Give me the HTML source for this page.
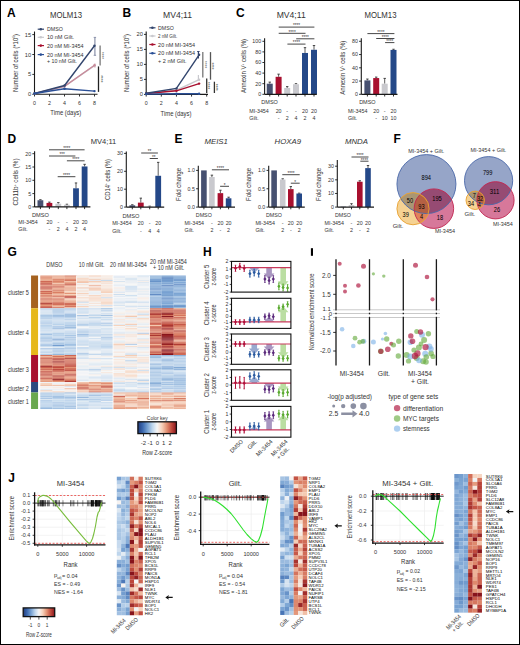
<!DOCTYPE html>
<html><head><meta charset="utf-8"><style>
html,body{margin:0;padding:0;background:#fff;}
body{width:520px;height:645px;overflow:hidden;}
svg{display:block;font-family:"Liberation Sans", sans-serif;}
</style></head><body>
<svg width="520" height="645" viewBox="0 0 520 645">
<rect x="0" y="0" width="520" height="645" fill="#fff"/>
<text x="7" y="16.7" font-size="12" font-weight="bold">A</text>
<text x="66.00" y="18.02" font-size="8.4" text-anchor="middle" textLength="32" lengthAdjust="spacingAndGlyphs" fill="#333">MOLM13</text>
<line x1="34.50" y1="31.50" x2="34.50" y2="94.30" stroke="#1a1a1a" stroke-width="1.1"/>
<line x1="32.30" y1="34.60" x2="34.50" y2="34.60" stroke="#1a1a1a" stroke-width="0.9"/>
<text x="31.10" y="36.65" font-size="5.7" text-anchor="end" fill="#333">15</text>
<line x1="32.30" y1="54.50" x2="34.50" y2="54.50" stroke="#1a1a1a" stroke-width="0.9"/>
<text x="31.10" y="56.55" font-size="5.7" text-anchor="end" fill="#333">10</text>
<line x1="32.30" y1="74.40" x2="34.50" y2="74.40" stroke="#1a1a1a" stroke-width="0.9"/>
<text x="31.10" y="76.45" font-size="5.7" text-anchor="end" fill="#333">5</text>
<line x1="32.30" y1="94.30" x2="34.50" y2="94.30" stroke="#1a1a1a" stroke-width="0.9"/>
<text x="31.10" y="96.35" font-size="5.7" text-anchor="end" fill="#333">0</text>
<line x1="34.50" y1="94.30" x2="97.50" y2="94.30" stroke="#1a1a1a" stroke-width="1.1"/>
<line x1="34.50" y1="94.30" x2="34.50" y2="96.50" stroke="#1a1a1a" stroke-width="0.9"/>
<text x="34.50" y="105.21" font-size="5.3" text-anchor="middle" fill="#333">0</text>
<line x1="49.50" y1="94.30" x2="49.50" y2="96.50" stroke="#1a1a1a" stroke-width="0.9"/>
<text x="49.50" y="105.21" font-size="5.3" text-anchor="middle" fill="#333">2</text>
<line x1="64.50" y1="94.30" x2="64.50" y2="96.50" stroke="#1a1a1a" stroke-width="0.9"/>
<text x="64.50" y="105.21" font-size="5.3" text-anchor="middle" fill="#333">4</text>
<line x1="79.50" y1="94.30" x2="79.50" y2="96.50" stroke="#1a1a1a" stroke-width="0.9"/>
<text x="79.50" y="105.21" font-size="5.3" text-anchor="middle" fill="#333">6</text>
<line x1="94.50" y1="94.30" x2="94.50" y2="96.50" stroke="#1a1a1a" stroke-width="0.9"/>
<text x="94.50" y="105.21" font-size="5.3" text-anchor="middle" fill="#333">8</text>
<text x="65.80" y="115.28" font-size="6.6" text-anchor="middle" textLength="31" lengthAdjust="spacingAndGlyphs" fill="#333">Time (days)</text>
<text x="17.59" y="63.00" font-size="7.2" text-anchor="middle" textLength="58" lengthAdjust="spacingAndGlyphs" fill="#333" transform="rotate(-90 17.59 63.00)">Number of cells (*10<tspan font-size="3.8" dy="-2.2">6</tspan><tspan dy="2.2">)</tspan></text>
<line x1="94.90" y1="37.40" x2="94.90" y2="55.30" stroke="#8a92aa" stroke-width="1.2"/>
<line x1="93.70" y1="37.40" x2="96.10" y2="37.40" stroke="#8a92aa" stroke-width="1"/>
<line x1="93.70" y1="55.30" x2="96.10" y2="55.30" stroke="#8a92aa" stroke-width="1"/>
<line x1="94.90" y1="63.50" x2="94.90" y2="67.50" stroke="#d0a0aa" stroke-width="1.2"/>
<path d="M34.50,93.50 L64.50,86.34 L94.50,65.64" fill="none" stroke="#c9c9ce" stroke-width="1.4"/>
<circle cx="34.50" cy="93.50" r="1.20" fill="#c9c9ce"/>
<circle cx="64.50" cy="86.34" r="1.20" fill="#c9c9ce"/>
<circle cx="94.50" cy="65.64" r="1.20" fill="#c9c9ce"/>
<path d="M34.50,93.50 L64.50,86.34 L94.50,65.25" fill="none" stroke="#c98a9a" stroke-width="1.4"/>
<circle cx="34.50" cy="93.50" r="1.20" fill="#c98a9a"/>
<circle cx="64.50" cy="86.34" r="1.20" fill="#c98a9a"/>
<circle cx="94.50" cy="65.25" r="1.20" fill="#c98a9a"/>
<path d="M34.50,93.50 L64.50,85.54 L94.50,45.74" fill="none" stroke="#33466e" stroke-width="1.4"/>
<circle cx="34.50" cy="93.50" r="1.20" fill="#33466e"/>
<circle cx="64.50" cy="85.54" r="1.20" fill="#33466e"/>
<circle cx="94.50" cy="45.74" r="1.20" fill="#33466e"/>
<path d="M34.50,93.50 L64.50,88.73 L94.50,91.12" fill="none" stroke="#2a4f96" stroke-width="1.4"/>
<circle cx="34.50" cy="93.50" r="1.20" fill="#2a4f96"/>
<circle cx="64.50" cy="88.73" r="1.20" fill="#2a4f96"/>
<circle cx="94.50" cy="91.12" r="1.20" fill="#2a4f96"/>
<line x1="37.70" y1="29.20" x2="44.00" y2="29.20" stroke="#33466e" stroke-width="1.2"/>
<circle cx="40.80" cy="29.20" r="1.30" fill="#33466e"/>
<text x="47.00" y="31.36" font-size="6.0" textLength="15.8" lengthAdjust="spacingAndGlyphs" fill="#333">DMSO</text>
<line x1="37.70" y1="37.30" x2="44.00" y2="37.30" stroke="#c9c9ce" stroke-width="1.2"/>
<circle cx="40.80" cy="37.30" r="1.30" fill="#c9c9ce"/>
<text x="47.00" y="39.46" font-size="6.0" textLength="27" lengthAdjust="spacingAndGlyphs" fill="#333">10 nM Gilt.</text>
<line x1="37.70" y1="45.60" x2="44.00" y2="45.60" stroke="#a8102f" stroke-width="1.2"/>
<circle cx="40.80" cy="45.60" r="1.30" fill="#a8102f"/>
<text x="47.00" y="47.76" font-size="6.0" textLength="36.5" lengthAdjust="spacingAndGlyphs" fill="#333">20 nM MI-3454</text>
<line x1="37.70" y1="54.60" x2="44.00" y2="54.60" stroke="#2a4f96" stroke-width="1.2"/>
<circle cx="40.80" cy="54.60" r="1.30" fill="#2a4f96"/>
<text x="47.00" y="56.76" font-size="6.0" textLength="36.5" lengthAdjust="spacingAndGlyphs" fill="#333">20 nM MI-3454</text>
<text x="47.00" y="63.46" font-size="6.0" textLength="30" lengthAdjust="spacingAndGlyphs" fill="#333">+ 10 nM Gilt.</text>
<line x1="100.10" y1="45.50" x2="100.10" y2="65.60" stroke="#777" stroke-width="1.3"/>
<text x="100.43" y="55.50" font-size="4.6" text-anchor="middle" fill="#555" textLength="7.20" lengthAdjust="spacingAndGlyphs" transform="rotate(90 100.43 55.50)">****</text>
<line x1="98.50" y1="66.40" x2="98.50" y2="91.90" stroke="#222" stroke-width="1.3"/>
<text x="98.73" y="78.90" font-size="4.6" text-anchor="middle" fill="#333" textLength="7.20" lengthAdjust="spacingAndGlyphs" transform="rotate(90 98.73 78.90)">****</text>
<text x="122.5" y="16.7" font-size="12" font-weight="bold">B</text>
<text x="177.50" y="18.02" font-size="8.4" text-anchor="middle" textLength="29" lengthAdjust="spacingAndGlyphs" fill="#333">MV4;11</text>
<line x1="146.20" y1="31.50" x2="146.20" y2="94.40" stroke="#1a1a1a" stroke-width="1.1"/>
<line x1="144.00" y1="34.40" x2="146.20" y2="34.40" stroke="#1a1a1a" stroke-width="0.9"/>
<text x="142.80" y="36.45" font-size="5.7" text-anchor="end" fill="#333">20</text>
<line x1="144.00" y1="49.40" x2="146.20" y2="49.40" stroke="#1a1a1a" stroke-width="0.9"/>
<text x="142.80" y="51.45" font-size="5.7" text-anchor="end" fill="#333">15</text>
<line x1="144.00" y1="64.40" x2="146.20" y2="64.40" stroke="#1a1a1a" stroke-width="0.9"/>
<text x="142.80" y="66.45" font-size="5.7" text-anchor="end" fill="#333">10</text>
<line x1="144.00" y1="79.40" x2="146.20" y2="79.40" stroke="#1a1a1a" stroke-width="0.9"/>
<text x="142.80" y="81.45" font-size="5.7" text-anchor="end" fill="#333">5</text>
<line x1="144.00" y1="94.40" x2="146.20" y2="94.40" stroke="#1a1a1a" stroke-width="0.9"/>
<text x="142.80" y="96.45" font-size="5.7" text-anchor="end" fill="#333">0</text>
<line x1="146.20" y1="94.40" x2="208.00" y2="94.40" stroke="#1a1a1a" stroke-width="1.1"/>
<line x1="146.20" y1="94.40" x2="146.20" y2="96.60" stroke="#1a1a1a" stroke-width="0.9"/>
<text x="146.20" y="105.21" font-size="5.3" text-anchor="middle" fill="#333">0</text>
<line x1="161.32" y1="94.40" x2="161.32" y2="96.60" stroke="#1a1a1a" stroke-width="0.9"/>
<text x="161.32" y="105.21" font-size="5.3" text-anchor="middle" fill="#333">2</text>
<line x1="176.44" y1="94.40" x2="176.44" y2="96.60" stroke="#1a1a1a" stroke-width="0.9"/>
<text x="176.44" y="105.21" font-size="5.3" text-anchor="middle" fill="#333">4</text>
<line x1="191.56" y1="94.40" x2="191.56" y2="96.60" stroke="#1a1a1a" stroke-width="0.9"/>
<text x="191.56" y="105.21" font-size="5.3" text-anchor="middle" fill="#333">6</text>
<line x1="206.68" y1="94.40" x2="206.68" y2="96.60" stroke="#1a1a1a" stroke-width="0.9"/>
<text x="206.68" y="105.21" font-size="5.3" text-anchor="middle" fill="#333">8</text>
<text x="176.00" y="115.88" font-size="6.6" text-anchor="middle" textLength="31" lengthAdjust="spacingAndGlyphs" fill="#333">Time (days)</text>
<text x="128.59" y="63.00" font-size="7.2" text-anchor="middle" textLength="58" lengthAdjust="spacingAndGlyphs" fill="#333" transform="rotate(-90 128.59 63.00)">Number of cells (*10<tspan font-size="3.8" dy="-2.2">6</tspan><tspan dy="2.2">)</tspan></text>
<line x1="198.40" y1="51.50" x2="198.40" y2="58.50" stroke="#33466e" stroke-width="1.2"/>
<line x1="197.20" y1="51.50" x2="199.60" y2="51.50" stroke="#33466e" stroke-width="1"/>
<line x1="198.40" y1="75.00" x2="198.40" y2="80.00" stroke="#c9c9ce" stroke-width="1.2"/>
<path d="M146.20,93.50 L176.44,90.20 L199.12,79.70" fill="none" stroke="#c9c9ce" stroke-width="1.4"/>
<circle cx="146.20" cy="93.50" r="1.20" fill="#c9c9ce"/>
<circle cx="176.44" cy="90.20" r="1.20" fill="#c9c9ce"/>
<circle cx="199.12" cy="79.70" r="1.20" fill="#c9c9ce"/>
<path d="M146.20,93.50 L176.44,90.80 L199.12,83.60" fill="none" stroke="#a8102f" stroke-width="1.4"/>
<circle cx="146.20" cy="93.50" r="1.20" fill="#a8102f"/>
<circle cx="176.44" cy="90.80" r="1.20" fill="#a8102f"/>
<circle cx="199.12" cy="83.60" r="1.20" fill="#a8102f"/>
<path d="M146.20,93.20 L176.44,88.40 L199.12,54.80" fill="none" stroke="#33466e" stroke-width="1.4"/>
<circle cx="146.20" cy="93.20" r="1.20" fill="#33466e"/>
<circle cx="176.44" cy="88.40" r="1.20" fill="#33466e"/>
<circle cx="199.12" cy="54.80" r="1.20" fill="#33466e"/>
<path d="M146.20,94.10 L176.44,93.80 L199.12,93.80" fill="none" stroke="#2a4f96" stroke-width="1.4"/>
<circle cx="146.20" cy="94.10" r="1.20" fill="#2a4f96"/>
<circle cx="176.44" cy="93.80" r="1.20" fill="#2a4f96"/>
<circle cx="199.12" cy="93.80" r="1.20" fill="#2a4f96"/>
<line x1="149.30" y1="27.80" x2="155.50" y2="27.80" stroke="#33466e" stroke-width="1.2"/>
<circle cx="152.40" cy="27.80" r="1.30" fill="#33466e"/>
<text x="158.10" y="29.96" font-size="6.0" textLength="15.7" lengthAdjust="spacingAndGlyphs" fill="#333">DMSO</text>
<line x1="149.30" y1="36.00" x2="155.50" y2="36.00" stroke="#c9c9ce" stroke-width="1.2"/>
<circle cx="152.40" cy="36.00" r="1.30" fill="#c9c9ce"/>
<text x="158.10" y="38.16" font-size="6.0" textLength="19.1" lengthAdjust="spacingAndGlyphs" fill="#333">2 nM Gilt.</text>
<line x1="149.30" y1="44.50" x2="155.50" y2="44.50" stroke="#a8102f" stroke-width="1.2"/>
<circle cx="152.40" cy="44.50" r="1.30" fill="#a8102f"/>
<text x="158.10" y="46.66" font-size="6.0" textLength="36.9" lengthAdjust="spacingAndGlyphs" fill="#333">20 nM MI-3454</text>
<line x1="149.30" y1="53.30" x2="155.50" y2="53.30" stroke="#2a4f96" stroke-width="1.2"/>
<circle cx="152.40" cy="53.30" r="1.30" fill="#2a4f96"/>
<text x="158.10" y="55.46" font-size="6.0" textLength="36.9" lengthAdjust="spacingAndGlyphs" fill="#333">20 nM MI-3454</text>
<text x="158.10" y="62.76" font-size="6.0" textLength="28.4" lengthAdjust="spacingAndGlyphs" fill="#333">+ 2 nM Gilt.</text>
<line x1="202.80" y1="52.10" x2="202.80" y2="77.40" stroke="#777" stroke-width="1.3"/>
<text x="202.53" y="64.70" font-size="4.6" text-anchor="middle" fill="#555" textLength="7.20" lengthAdjust="spacingAndGlyphs" transform="rotate(90 202.53 64.70)">****</text>
<line x1="210.50" y1="52.10" x2="210.50" y2="79.70" stroke="#555" stroke-width="1.3"/>
<text x="210.23" y="66.00" font-size="4.6" text-anchor="middle" fill="#444" textLength="7.20" lengthAdjust="spacingAndGlyphs" transform="rotate(90 210.23 66.00)">****</text>
<line x1="206.70" y1="78.60" x2="206.70" y2="92.90" stroke="#333" stroke-width="1.3"/>
<text x="206.43" y="85.70" font-size="4.6" text-anchor="middle" fill="#333" textLength="7.20" lengthAdjust="spacingAndGlyphs" transform="rotate(90 206.43 85.70)">****</text>
<line x1="214.40" y1="81.70" x2="214.40" y2="93.00" stroke="#333" stroke-width="1.3"/>
<text x="214.13" y="87.30" font-size="4.6" text-anchor="middle" fill="#333" textLength="7.20" lengthAdjust="spacingAndGlyphs" transform="rotate(90 214.13 87.30)">****</text>
<text x="236" y="16.7" font-size="12" font-weight="bold">C</text>
<text x="291.20" y="18.22" font-size="8.4" text-anchor="middle" textLength="29" lengthAdjust="spacingAndGlyphs" fill="#333">MV4;11</text>
<line x1="264.60" y1="38.30" x2="264.60" y2="94.30" stroke="#1a1a1a" stroke-width="1.1"/>
<line x1="262.40" y1="94.30" x2="264.60" y2="94.30" stroke="#1a1a1a" stroke-width="0.9"/>
<text x="261.20" y="96.21" font-size="5.3" text-anchor="end" fill="#333">0</text>
<line x1="262.40" y1="83.70" x2="264.60" y2="83.70" stroke="#1a1a1a" stroke-width="0.9"/>
<text x="261.20" y="85.61" font-size="5.3" text-anchor="end" fill="#333">20</text>
<line x1="262.40" y1="73.10" x2="264.60" y2="73.10" stroke="#1a1a1a" stroke-width="0.9"/>
<text x="261.20" y="75.01" font-size="5.3" text-anchor="end" fill="#333">40</text>
<line x1="262.40" y1="62.50" x2="264.60" y2="62.50" stroke="#1a1a1a" stroke-width="0.9"/>
<text x="261.20" y="64.41" font-size="5.3" text-anchor="end" fill="#333">60</text>
<line x1="262.40" y1="51.90" x2="264.60" y2="51.90" stroke="#1a1a1a" stroke-width="0.9"/>
<text x="261.20" y="53.81" font-size="5.3" text-anchor="end" fill="#333">80</text>
<line x1="262.40" y1="41.30" x2="264.60" y2="41.30" stroke="#1a1a1a" stroke-width="0.9"/>
<text x="261.20" y="43.21" font-size="5.3" text-anchor="end" fill="#333">100</text>
<line x1="269.75" y1="82.11" x2="269.75" y2="83.70" stroke="#333" stroke-width="0.8"/>
<line x1="268.55" y1="82.11" x2="270.95" y2="82.11" stroke="#333" stroke-width="0.9"/>
<rect x="266.75" y="83.70" width="6.00" height="10.60" fill="#465070"/>
<line x1="278.60" y1="74.16" x2="278.60" y2="76.81" stroke="#333" stroke-width="0.8"/>
<line x1="277.40" y1="74.16" x2="279.80" y2="74.16" stroke="#333" stroke-width="0.9"/>
<rect x="275.60" y="76.81" width="6.00" height="17.49" fill="#a8102f"/>
<line x1="287.20" y1="86.61" x2="287.20" y2="87.94" stroke="#333" stroke-width="0.8"/>
<line x1="286.00" y1="86.61" x2="288.40" y2="86.61" stroke="#333" stroke-width="0.9"/>
<rect x="284.20" y="87.94" width="6.00" height="6.36" fill="#c9c9ce"/>
<line x1="296.00" y1="83.70" x2="296.00" y2="84.23" stroke="#333" stroke-width="0.8"/>
<line x1="294.80" y1="83.70" x2="297.20" y2="83.70" stroke="#333" stroke-width="0.9"/>
<rect x="293.00" y="84.23" width="6.00" height="10.07" fill="#c9c9ce"/>
<line x1="305.00" y1="47.66" x2="305.00" y2="52.96" stroke="#333" stroke-width="0.8"/>
<line x1="303.80" y1="47.66" x2="306.20" y2="47.66" stroke="#333" stroke-width="0.9"/>
<rect x="302.00" y="52.96" width="6.00" height="41.34" fill="#244888"/>
<line x1="314.00" y1="45.54" x2="314.00" y2="49.78" stroke="#333" stroke-width="0.8"/>
<line x1="312.80" y1="45.54" x2="315.20" y2="45.54" stroke="#333" stroke-width="0.9"/>
<rect x="311.00" y="49.78" width="6.00" height="44.52" fill="#244888"/>
<line x1="264.60" y1="94.30" x2="316.80" y2="94.30" stroke="#1a1a1a" stroke-width="1.2"/>
<line x1="269.75" y1="94.30" x2="269.75" y2="96.50" stroke="#1a1a1a" stroke-width="0.9"/>
<line x1="278.60" y1="94.30" x2="278.60" y2="96.50" stroke="#1a1a1a" stroke-width="0.9"/>
<line x1="287.20" y1="94.30" x2="287.20" y2="96.50" stroke="#1a1a1a" stroke-width="0.9"/>
<line x1="296.00" y1="94.30" x2="296.00" y2="96.50" stroke="#1a1a1a" stroke-width="0.9"/>
<line x1="305.00" y1="94.30" x2="305.00" y2="96.50" stroke="#1a1a1a" stroke-width="0.9"/>
<line x1="314.00" y1="94.30" x2="314.00" y2="96.50" stroke="#1a1a1a" stroke-width="0.9"/>
<text x="269.60" y="104.41" font-size="5.3" text-anchor="middle" textLength="16.5" lengthAdjust="spacingAndGlyphs" fill="#333">DMSO</text>
<text x="249.30" y="112.91" font-size="5.3" fill="#333">MI-3454</text>
<text x="249.30" y="119.91" font-size="5.3" fill="#333">Gilt.</text>
<text x="278.60" y="112.91" font-size="5.3" text-anchor="middle" fill="#333">20</text>
<text x="278.60" y="119.91" font-size="5.3" text-anchor="middle" fill="#333">-</text>
<text x="287.20" y="112.91" font-size="5.3" text-anchor="middle" fill="#333">-</text>
<text x="287.20" y="119.91" font-size="5.3" text-anchor="middle" fill="#333">2</text>
<text x="296.00" y="112.91" font-size="5.3" text-anchor="middle" fill="#333">-</text>
<text x="296.00" y="119.91" font-size="5.3" text-anchor="middle" fill="#333">4</text>
<text x="305.00" y="112.91" font-size="5.3" text-anchor="middle" fill="#333">20</text>
<text x="305.00" y="119.91" font-size="5.3" text-anchor="middle" fill="#333">2</text>
<text x="314.00" y="112.91" font-size="5.3" text-anchor="middle" fill="#333">20</text>
<text x="314.00" y="119.91" font-size="5.3" text-anchor="middle" fill="#333">4</text>
<text x="245.52" y="66.00" font-size="7.0" text-anchor="middle" textLength="54" lengthAdjust="spacingAndGlyphs" fill="#333" transform="rotate(-90 245.52 66.00)">Annexin V<tspan font-size="3.5" dy="-2">+</tspan><tspan dy="2"> cells (%)</tspan></text>
<line x1="278.70" y1="27.10" x2="314.40" y2="27.10" stroke="#333" stroke-width="0.9"/>
<text x="296.55" y="27.40" font-size="4.6" text-anchor="middle" fill="#333" textLength="7.20" lengthAdjust="spacingAndGlyphs">****</text>
<line x1="278.70" y1="33.30" x2="305.50" y2="33.30" stroke="#333" stroke-width="0.9"/>
<text x="292.10" y="33.60" font-size="4.6" text-anchor="middle" fill="#333" textLength="7.20" lengthAdjust="spacingAndGlyphs">****</text>
<line x1="296.20" y1="38.80" x2="314.40" y2="38.80" stroke="#333" stroke-width="0.9"/>
<text x="305.30" y="39.10" font-size="4.6" text-anchor="middle" fill="#333" textLength="7.20" lengthAdjust="spacingAndGlyphs">****</text>
<line x1="287.40" y1="44.10" x2="305.50" y2="44.10" stroke="#333" stroke-width="0.9"/>
<text x="296.45" y="44.40" font-size="4.6" text-anchor="middle" fill="#333" textLength="7.20" lengthAdjust="spacingAndGlyphs">****</text>
<text x="380.50" y="18.22" font-size="8.4" text-anchor="middle" textLength="32" lengthAdjust="spacingAndGlyphs" fill="#333">MOLM13</text>
<line x1="361.30" y1="38.30" x2="361.30" y2="94.30" stroke="#1a1a1a" stroke-width="1.1"/>
<line x1="359.10" y1="94.30" x2="361.30" y2="94.30" stroke="#1a1a1a" stroke-width="0.9"/>
<text x="357.90" y="96.21" font-size="5.3" text-anchor="end" fill="#333">0</text>
<line x1="359.10" y1="81.05" x2="361.30" y2="81.05" stroke="#1a1a1a" stroke-width="0.9"/>
<text x="357.90" y="82.96" font-size="5.3" text-anchor="end" fill="#333">20</text>
<line x1="359.10" y1="67.80" x2="361.30" y2="67.80" stroke="#1a1a1a" stroke-width="0.9"/>
<text x="357.90" y="69.71" font-size="5.3" text-anchor="end" fill="#333">40</text>
<line x1="359.10" y1="54.55" x2="361.30" y2="54.55" stroke="#1a1a1a" stroke-width="0.9"/>
<text x="357.90" y="56.46" font-size="5.3" text-anchor="end" fill="#333">60</text>
<line x1="359.10" y1="41.30" x2="361.30" y2="41.30" stroke="#1a1a1a" stroke-width="0.9"/>
<text x="357.90" y="43.21" font-size="5.3" text-anchor="end" fill="#333">80</text>
<line x1="367.40" y1="79.06" x2="367.40" y2="80.39" stroke="#333" stroke-width="0.8"/>
<line x1="366.20" y1="79.06" x2="368.60" y2="79.06" stroke="#333" stroke-width="0.9"/>
<rect x="364.40" y="80.39" width="6.00" height="13.91" fill="#465070"/>
<line x1="376.20" y1="77.08" x2="376.20" y2="78.07" stroke="#333" stroke-width="0.8"/>
<line x1="375.00" y1="77.08" x2="377.40" y2="77.08" stroke="#333" stroke-width="0.9"/>
<rect x="373.20" y="78.07" width="6.00" height="16.23" fill="#a8102f"/>
<line x1="384.70" y1="78.40" x2="384.70" y2="83.70" stroke="#333" stroke-width="0.8"/>
<line x1="383.50" y1="78.40" x2="385.90" y2="78.40" stroke="#333" stroke-width="0.9"/>
<rect x="381.70" y="83.70" width="6.00" height="10.60" fill="#c9c9ce"/>
<line x1="393.50" y1="49.25" x2="393.50" y2="49.91" stroke="#333" stroke-width="0.8"/>
<line x1="392.30" y1="49.25" x2="394.70" y2="49.25" stroke="#333" stroke-width="0.9"/>
<rect x="390.50" y="49.91" width="6.00" height="44.39" fill="#244888"/>
<line x1="361.30" y1="94.30" x2="397.50" y2="94.30" stroke="#1a1a1a" stroke-width="1.2"/>
<line x1="367.40" y1="94.30" x2="367.40" y2="96.50" stroke="#1a1a1a" stroke-width="0.9"/>
<line x1="376.20" y1="94.30" x2="376.20" y2="96.50" stroke="#1a1a1a" stroke-width="0.9"/>
<line x1="384.70" y1="94.30" x2="384.70" y2="96.50" stroke="#1a1a1a" stroke-width="0.9"/>
<line x1="393.50" y1="94.30" x2="393.50" y2="96.50" stroke="#1a1a1a" stroke-width="0.9"/>
<text x="367.40" y="104.41" font-size="5.3" text-anchor="middle" textLength="16.5" lengthAdjust="spacingAndGlyphs" fill="#333">DMSO</text>
<text x="347.90" y="112.91" font-size="5.3" fill="#333">MI-3454</text>
<text x="347.90" y="119.91" font-size="5.3" fill="#333">Gilt.</text>
<text x="376.20" y="112.91" font-size="5.3" text-anchor="middle" fill="#333">20</text>
<text x="376.20" y="119.91" font-size="5.3" text-anchor="middle" fill="#333">-</text>
<text x="384.70" y="112.91" font-size="5.3" text-anchor="middle" fill="#333">-</text>
<text x="384.70" y="119.91" font-size="5.3" text-anchor="middle" fill="#333">10</text>
<text x="393.50" y="112.91" font-size="5.3" text-anchor="middle" fill="#333">20</text>
<text x="393.50" y="119.91" font-size="5.3" text-anchor="middle" fill="#333">10</text>
<text x="344.82" y="67.70" font-size="7.0" text-anchor="middle" textLength="54" lengthAdjust="spacingAndGlyphs" fill="#333" transform="rotate(-90 344.82 67.70)">Annexin V<tspan font-size="3.5" dy="-2">+</tspan><tspan dy="2"> cells (%)</tspan></text>
<line x1="367.40" y1="33.60" x2="394.40" y2="33.60" stroke="#333" stroke-width="0.9"/>
<text x="380.90" y="33.90" font-size="4.6" text-anchor="middle" fill="#333" textLength="7.20" lengthAdjust="spacingAndGlyphs">****</text>
<line x1="376.20" y1="38.50" x2="394.40" y2="38.50" stroke="#333" stroke-width="0.9"/>
<text x="385.30" y="38.80" font-size="4.6" text-anchor="middle" fill="#333" textLength="7.20" lengthAdjust="spacingAndGlyphs">****</text>
<line x1="385.10" y1="42.60" x2="394.40" y2="42.60" stroke="#333" stroke-width="0.9"/>
<text x="389.75" y="42.90" font-size="4.6" text-anchor="middle" fill="#333" textLength="7.20" lengthAdjust="spacingAndGlyphs">****</text>
<text x="7.5" y="143" font-size="12" font-weight="bold">D</text>
<text x="103.50" y="144.38" font-size="8.0" text-anchor="middle" textLength="25.5" lengthAdjust="spacingAndGlyphs" fill="#333">MV4;11</text>
<line x1="34.60" y1="151.20" x2="34.60" y2="206.90" stroke="#1a1a1a" stroke-width="1.1"/>
<line x1="32.40" y1="206.90" x2="34.60" y2="206.90" stroke="#1a1a1a" stroke-width="0.9"/>
<text x="31.20" y="208.81" font-size="5.3" text-anchor="end" fill="#333">0</text>
<line x1="32.40" y1="193.60" x2="34.60" y2="193.60" stroke="#1a1a1a" stroke-width="0.9"/>
<text x="31.20" y="195.51" font-size="5.3" text-anchor="end" fill="#333">5</text>
<line x1="32.40" y1="180.30" x2="34.60" y2="180.30" stroke="#1a1a1a" stroke-width="0.9"/>
<text x="31.20" y="182.21" font-size="5.3" text-anchor="end" fill="#333">10</text>
<line x1="32.40" y1="167.00" x2="34.60" y2="167.00" stroke="#1a1a1a" stroke-width="0.9"/>
<text x="31.20" y="168.91" font-size="5.3" text-anchor="end" fill="#333">15</text>
<line x1="32.40" y1="153.70" x2="34.60" y2="153.70" stroke="#1a1a1a" stroke-width="0.9"/>
<text x="31.20" y="155.61" font-size="5.3" text-anchor="end" fill="#333">20</text>
<line x1="40.40" y1="199.72" x2="40.40" y2="200.25" stroke="#333" stroke-width="0.8"/>
<line x1="39.20" y1="199.72" x2="41.60" y2="199.72" stroke="#333" stroke-width="0.9"/>
<rect x="37.50" y="200.25" width="5.80" height="6.65" fill="#465070"/>
<line x1="49.40" y1="202.11" x2="49.40" y2="202.91" stroke="#333" stroke-width="0.8"/>
<line x1="48.20" y1="202.11" x2="50.60" y2="202.11" stroke="#333" stroke-width="0.9"/>
<rect x="46.50" y="202.91" width="5.80" height="3.99" fill="#a8102f"/>
<line x1="58.30" y1="202.64" x2="58.30" y2="203.71" stroke="#333" stroke-width="0.8"/>
<line x1="57.10" y1="202.64" x2="59.50" y2="202.64" stroke="#333" stroke-width="0.9"/>
<rect x="55.40" y="203.71" width="5.80" height="3.19" fill="#c9c9ce"/>
<line x1="66.90" y1="204.24" x2="66.90" y2="204.77" stroke="#333" stroke-width="0.8"/>
<line x1="65.70" y1="204.24" x2="68.10" y2="204.24" stroke="#333" stroke-width="0.9"/>
<rect x="64.00" y="204.77" width="5.80" height="2.13" fill="#c9c9ce"/>
<line x1="76.00" y1="182.96" x2="76.00" y2="188.28" stroke="#333" stroke-width="0.8"/>
<line x1="74.80" y1="182.96" x2="77.20" y2="182.96" stroke="#333" stroke-width="0.9"/>
<rect x="73.10" y="188.28" width="5.80" height="18.62" fill="#244888"/>
<line x1="84.60" y1="164.34" x2="84.60" y2="166.47" stroke="#333" stroke-width="0.8"/>
<line x1="83.40" y1="164.34" x2="85.80" y2="164.34" stroke="#333" stroke-width="0.9"/>
<rect x="81.70" y="166.47" width="5.80" height="40.43" fill="#244888"/>
<line x1="34.60" y1="206.90" x2="90.40" y2="206.90" stroke="#1a1a1a" stroke-width="1.2"/>
<line x1="40.40" y1="206.90" x2="40.40" y2="209.10" stroke="#1a1a1a" stroke-width="0.9"/>
<line x1="49.40" y1="206.90" x2="49.40" y2="209.10" stroke="#1a1a1a" stroke-width="0.9"/>
<line x1="58.30" y1="206.90" x2="58.30" y2="209.10" stroke="#1a1a1a" stroke-width="0.9"/>
<line x1="66.90" y1="206.90" x2="66.90" y2="209.10" stroke="#1a1a1a" stroke-width="0.9"/>
<line x1="76.00" y1="206.90" x2="76.00" y2="209.10" stroke="#1a1a1a" stroke-width="0.9"/>
<line x1="84.60" y1="206.90" x2="84.60" y2="209.10" stroke="#1a1a1a" stroke-width="0.9"/>
<text x="40.40" y="217.11" font-size="5.3" text-anchor="middle" textLength="17" lengthAdjust="spacingAndGlyphs" fill="#333">DMSO</text>
<text x="18.30" y="223.81" font-size="5.3" fill="#333">MI-3454</text>
<text x="18.30" y="231.31" font-size="5.3" fill="#333">Gilt.</text>
<text x="49.40" y="223.81" font-size="5.3" text-anchor="middle" fill="#333">20</text>
<text x="49.40" y="231.31" font-size="5.3" text-anchor="middle" fill="#333">-</text>
<text x="58.30" y="223.81" font-size="5.3" text-anchor="middle" fill="#333">-</text>
<text x="58.30" y="231.31" font-size="5.3" text-anchor="middle" fill="#333">2</text>
<text x="66.90" y="223.81" font-size="5.3" text-anchor="middle" fill="#333">-</text>
<text x="66.90" y="231.31" font-size="5.3" text-anchor="middle" fill="#333">4</text>
<text x="76.00" y="223.81" font-size="5.3" text-anchor="middle" fill="#333">20</text>
<text x="76.00" y="231.31" font-size="5.3" text-anchor="middle" fill="#333">2</text>
<text x="84.60" y="223.81" font-size="5.3" text-anchor="middle" fill="#333">20</text>
<text x="84.60" y="231.31" font-size="5.3" text-anchor="middle" fill="#333">4</text>
<text x="17.92" y="182.00" font-size="7.0" text-anchor="middle" textLength="47" lengthAdjust="spacingAndGlyphs" fill="#333" transform="rotate(-90 17.92 182.00)">CD11b<tspan font-size="3.8" dy="-2.2">+</tspan><tspan dy="2.2"> cells (%)</tspan></text>
<line x1="49.00" y1="149.80" x2="84.60" y2="149.80" stroke="#333" stroke-width="0.9"/>
<text x="66.80" y="150.10" font-size="4.6" text-anchor="middle" fill="#333" textLength="7.20" lengthAdjust="spacingAndGlyphs">****</text>
<line x1="49.00" y1="156.00" x2="75.40" y2="156.00" stroke="#333" stroke-width="0.9"/>
<text x="62.20" y="156.30" font-size="4.6" text-anchor="middle" fill="#333" textLength="5.40" lengthAdjust="spacingAndGlyphs">***</text>
<line x1="66.90" y1="160.80" x2="84.60" y2="160.80" stroke="#333" stroke-width="0.9"/>
<text x="75.75" y="161.10" font-size="4.6" text-anchor="middle" fill="#333" textLength="7.20" lengthAdjust="spacingAndGlyphs">****</text>
<line x1="57.70" y1="176.70" x2="75.40" y2="176.70" stroke="#333" stroke-width="0.9"/>
<text x="66.55" y="177.00" font-size="4.6" text-anchor="middle" fill="#333" textLength="7.20" lengthAdjust="spacingAndGlyphs">****</text>
<line x1="126.30" y1="151.50" x2="126.30" y2="207.10" stroke="#1a1a1a" stroke-width="1.1"/>
<line x1="124.10" y1="207.10" x2="126.30" y2="207.10" stroke="#1a1a1a" stroke-width="0.9"/>
<text x="122.90" y="209.01" font-size="5.3" text-anchor="end" fill="#333">0</text>
<line x1="124.10" y1="189.20" x2="126.30" y2="189.20" stroke="#1a1a1a" stroke-width="0.9"/>
<text x="122.90" y="191.11" font-size="5.3" text-anchor="end" fill="#333">10</text>
<line x1="124.10" y1="171.30" x2="126.30" y2="171.30" stroke="#1a1a1a" stroke-width="0.9"/>
<text x="122.90" y="173.21" font-size="5.3" text-anchor="end" fill="#333">20</text>
<line x1="124.10" y1="153.40" x2="126.30" y2="153.40" stroke="#1a1a1a" stroke-width="0.9"/>
<text x="122.90" y="155.31" font-size="5.3" text-anchor="end" fill="#333">30</text>
<line x1="132.30" y1="204.77" x2="132.30" y2="205.31" stroke="#333" stroke-width="0.8"/>
<line x1="131.10" y1="204.77" x2="133.50" y2="204.77" stroke="#333" stroke-width="0.9"/>
<rect x="129.40" y="205.31" width="5.80" height="1.79" fill="#465070"/>
<line x1="140.80" y1="198.15" x2="140.80" y2="202.62" stroke="#333" stroke-width="0.8"/>
<line x1="139.60" y1="198.15" x2="142.00" y2="198.15" stroke="#333" stroke-width="0.9"/>
<rect x="137.90" y="202.62" width="5.80" height="4.47" fill="#a8102f"/>
<line x1="149.70" y1="206.20" x2="149.70" y2="206.56" stroke="#333" stroke-width="0.8"/>
<line x1="148.50" y1="206.20" x2="150.90" y2="206.20" stroke="#333" stroke-width="0.9"/>
<rect x="146.80" y="206.56" width="5.80" height="0.54" fill="#c9c9ce"/>
<line x1="158.20" y1="162.35" x2="158.20" y2="175.78" stroke="#333" stroke-width="0.8"/>
<line x1="157.00" y1="162.35" x2="159.40" y2="162.35" stroke="#333" stroke-width="0.9"/>
<rect x="155.30" y="175.78" width="5.80" height="31.32" fill="#244888"/>
<line x1="126.30" y1="207.10" x2="164.20" y2="207.10" stroke="#1a1a1a" stroke-width="1.2"/>
<line x1="132.30" y1="207.10" x2="132.30" y2="209.30" stroke="#1a1a1a" stroke-width="0.9"/>
<line x1="140.80" y1="207.10" x2="140.80" y2="209.30" stroke="#1a1a1a" stroke-width="0.9"/>
<line x1="149.70" y1="207.10" x2="149.70" y2="209.30" stroke="#1a1a1a" stroke-width="0.9"/>
<line x1="158.20" y1="207.10" x2="158.20" y2="209.30" stroke="#1a1a1a" stroke-width="0.9"/>
<text x="131.00" y="218.11" font-size="5.3" text-anchor="middle" textLength="17" lengthAdjust="spacingAndGlyphs" fill="#333">DMSO</text>
<text x="112.20" y="225.41" font-size="5.3" fill="#333">MI-3454</text>
<text x="112.20" y="232.51" font-size="5.3" fill="#333">Gilt.</text>
<text x="140.80" y="225.41" font-size="5.3" text-anchor="middle" fill="#333">20</text>
<text x="140.80" y="232.51" font-size="5.3" text-anchor="middle" fill="#333">-</text>
<text x="149.70" y="225.41" font-size="5.3" text-anchor="middle" fill="#333">-</text>
<text x="149.70" y="232.51" font-size="5.3" text-anchor="middle" fill="#333">4</text>
<text x="158.20" y="225.41" font-size="5.3" text-anchor="middle" fill="#333">20</text>
<text x="158.20" y="232.51" font-size="5.3" text-anchor="middle" fill="#333">4</text>
<text x="109.52" y="179.50" font-size="7.0" text-anchor="middle" textLength="41" lengthAdjust="spacingAndGlyphs" fill="#333" transform="rotate(-90 109.52 179.50)">CD14<tspan font-size="3.8" dy="-2.2">+</tspan><tspan dy="2.2"> cells (%)</tspan></text>
<line x1="141.20" y1="153.00" x2="157.90" y2="153.00" stroke="#333" stroke-width="0.9"/>
<text x="149.55" y="153.30" font-size="4.6" text-anchor="middle" fill="#333" textLength="3.60" lengthAdjust="spacingAndGlyphs">**</text>
<line x1="149.70" y1="158.50" x2="157.90" y2="158.50" stroke="#333" stroke-width="0.9"/>
<text x="153.80" y="158.80" font-size="4.6" text-anchor="middle" fill="#333" textLength="3.60" lengthAdjust="spacingAndGlyphs">**</text>
<text x="174.4" y="142.8" font-size="12" font-weight="bold">E</text>
<text x="216.20" y="143.91" font-size="7.8" font-style="italic" text-anchor="middle" fill="#333">MEIS1</text>
<line x1="198.30" y1="165.80" x2="198.30" y2="207.10" stroke="#1a1a1a" stroke-width="1.1"/>
<line x1="196.10" y1="207.10" x2="198.30" y2="207.10" stroke="#1a1a1a" stroke-width="0.9"/>
<text x="194.90" y="209.01" font-size="5.3" text-anchor="end" fill="#333">0.0</text>
<line x1="196.10" y1="188.75" x2="198.30" y2="188.75" stroke="#1a1a1a" stroke-width="0.9"/>
<text x="194.90" y="190.66" font-size="5.3" text-anchor="end" fill="#333">0.5</text>
<line x1="196.10" y1="170.40" x2="198.30" y2="170.40" stroke="#1a1a1a" stroke-width="0.9"/>
<text x="194.90" y="172.31" font-size="5.3" text-anchor="end" fill="#333">1.0</text>
<rect x="201.10" y="170.40" width="5.60" height="36.70" fill="#465070"/>
<line x1="211.90" y1="175.17" x2="211.90" y2="177.01" stroke="#333" stroke-width="0.8"/>
<line x1="210.70" y1="175.17" x2="213.10" y2="175.17" stroke="#333" stroke-width="0.9"/>
<rect x="209.10" y="177.01" width="5.60" height="30.09" fill="#c9c9ce"/>
<line x1="220.40" y1="190.22" x2="220.40" y2="193.15" stroke="#333" stroke-width="0.8"/>
<line x1="219.20" y1="190.22" x2="221.60" y2="190.22" stroke="#333" stroke-width="0.9"/>
<rect x="217.60" y="193.15" width="5.60" height="13.95" fill="#a8102f"/>
<line x1="228.60" y1="197.19" x2="228.60" y2="198.29" stroke="#333" stroke-width="0.8"/>
<line x1="227.40" y1="197.19" x2="229.80" y2="197.19" stroke="#333" stroke-width="0.9"/>
<rect x="225.80" y="198.29" width="5.60" height="8.81" fill="#244888"/>
<line x1="198.30" y1="207.10" x2="235.00" y2="207.10" stroke="#1a1a1a" stroke-width="1.2"/>
<line x1="203.90" y1="207.10" x2="203.90" y2="209.30" stroke="#1a1a1a" stroke-width="0.9"/>
<line x1="211.90" y1="207.10" x2="211.90" y2="209.30" stroke="#1a1a1a" stroke-width="0.9"/>
<line x1="220.40" y1="207.10" x2="220.40" y2="209.30" stroke="#1a1a1a" stroke-width="0.9"/>
<line x1="228.60" y1="207.10" x2="228.60" y2="209.30" stroke="#1a1a1a" stroke-width="0.9"/>
<text x="203.80" y="216.91" font-size="5.3" text-anchor="middle" textLength="16" lengthAdjust="spacingAndGlyphs" fill="#333">DMSO</text>
<text x="184.60" y="224.51" font-size="5.3" fill="#333">MI-3454</text>
<text x="184.60" y="231.71" font-size="5.3" fill="#333">Gilt.</text>
<text x="211.90" y="224.51" font-size="5.3" text-anchor="middle" fill="#333">-</text>
<text x="211.90" y="231.71" font-size="5.3" text-anchor="middle" fill="#333">2</text>
<text x="220.40" y="224.51" font-size="5.3" text-anchor="middle" fill="#333">20</text>
<text x="220.40" y="231.71" font-size="5.3" text-anchor="middle" fill="#333">-</text>
<text x="228.60" y="224.51" font-size="5.3" text-anchor="middle" fill="#333">20</text>
<text x="228.60" y="231.71" font-size="5.3" text-anchor="middle" fill="#333">2</text>
<text x="180.82" y="184.50" font-size="7.0" text-anchor="middle" textLength="33" lengthAdjust="spacingAndGlyphs" fill="#333" transform="rotate(-90 180.82 184.50)">Fold change</text>
<line x1="211.90" y1="169.80" x2="229.00" y2="169.80" stroke="#333" stroke-width="0.9"/>
<text x="220.45" y="170.10" font-size="4.6" text-anchor="middle" fill="#333" textLength="7.20" lengthAdjust="spacingAndGlyphs">****</text>
<line x1="220.10" y1="186.30" x2="229.00" y2="186.30" stroke="#333" stroke-width="0.9"/>
<text x="224.55" y="186.60" font-size="4.6" text-anchor="middle" fill="#333" textLength="1.80" lengthAdjust="spacingAndGlyphs">*</text>
<text x="287.80" y="143.91" font-size="7.8" font-style="italic" text-anchor="middle" fill="#333">HOXA9</text>
<line x1="268.70" y1="165.80" x2="268.70" y2="207.10" stroke="#1a1a1a" stroke-width="1.1"/>
<line x1="266.50" y1="207.10" x2="268.70" y2="207.10" stroke="#1a1a1a" stroke-width="0.9"/>
<text x="265.30" y="209.01" font-size="5.3" text-anchor="end" fill="#333">0.0</text>
<line x1="266.50" y1="188.75" x2="268.70" y2="188.75" stroke="#1a1a1a" stroke-width="0.9"/>
<text x="265.30" y="190.66" font-size="5.3" text-anchor="end" fill="#333">0.5</text>
<line x1="266.50" y1="170.40" x2="268.70" y2="170.40" stroke="#1a1a1a" stroke-width="0.9"/>
<text x="265.30" y="172.31" font-size="5.3" text-anchor="end" fill="#333">1.0</text>
<rect x="271.30" y="170.40" width="5.60" height="36.70" fill="#465070"/>
<line x1="282.70" y1="178.84" x2="282.70" y2="179.57" stroke="#333" stroke-width="0.8"/>
<line x1="281.50" y1="178.84" x2="283.90" y2="178.84" stroke="#333" stroke-width="0.9"/>
<rect x="279.90" y="179.57" width="5.60" height="27.53" fill="#c9c9ce"/>
<line x1="290.80" y1="186.55" x2="290.80" y2="189.12" stroke="#333" stroke-width="0.8"/>
<line x1="289.60" y1="186.55" x2="292.00" y2="186.55" stroke="#333" stroke-width="0.9"/>
<rect x="288.00" y="189.12" width="5.60" height="17.98" fill="#a8102f"/>
<line x1="299.20" y1="193.15" x2="299.20" y2="193.52" stroke="#333" stroke-width="0.8"/>
<line x1="298.00" y1="193.15" x2="300.40" y2="193.15" stroke="#333" stroke-width="0.9"/>
<rect x="296.40" y="193.52" width="5.60" height="13.58" fill="#244888"/>
<line x1="268.70" y1="207.10" x2="304.80" y2="207.10" stroke="#1a1a1a" stroke-width="1.2"/>
<line x1="274.10" y1="207.10" x2="274.10" y2="209.30" stroke="#1a1a1a" stroke-width="0.9"/>
<line x1="282.70" y1="207.10" x2="282.70" y2="209.30" stroke="#1a1a1a" stroke-width="0.9"/>
<line x1="290.80" y1="207.10" x2="290.80" y2="209.30" stroke="#1a1a1a" stroke-width="0.9"/>
<line x1="299.20" y1="207.10" x2="299.20" y2="209.30" stroke="#1a1a1a" stroke-width="0.9"/>
<text x="274.00" y="216.91" font-size="5.3" text-anchor="middle" textLength="16" lengthAdjust="spacingAndGlyphs" fill="#333">DMSO</text>
<text x="255.40" y="224.51" font-size="5.3" fill="#333">MI-3454</text>
<text x="255.40" y="231.71" font-size="5.3" fill="#333">Gilt.</text>
<text x="282.70" y="224.51" font-size="5.3" text-anchor="middle" fill="#333">-</text>
<text x="282.70" y="231.71" font-size="5.3" text-anchor="middle" fill="#333">2</text>
<text x="290.80" y="224.51" font-size="5.3" text-anchor="middle" fill="#333">20</text>
<text x="290.80" y="231.71" font-size="5.3" text-anchor="middle" fill="#333">-</text>
<text x="299.20" y="224.51" font-size="5.3" text-anchor="middle" fill="#333">20</text>
<text x="299.20" y="231.71" font-size="5.3" text-anchor="middle" fill="#333">2</text>
<text x="251.02" y="184.50" font-size="7.0" text-anchor="middle" textLength="33" lengthAdjust="spacingAndGlyphs" fill="#333" transform="rotate(-90 251.02 184.50)">Fold change</text>
<line x1="282.30" y1="174.70" x2="299.70" y2="174.70" stroke="#333" stroke-width="0.9"/>
<text x="291.00" y="175.00" font-size="4.6" text-anchor="middle" fill="#333" textLength="7.20" lengthAdjust="spacingAndGlyphs">****</text>
<line x1="290.80" y1="183.20" x2="299.70" y2="183.20" stroke="#333" stroke-width="0.9"/>
<text x="295.25" y="183.50" font-size="4.6" text-anchor="middle" fill="#333" textLength="1.80" lengthAdjust="spacingAndGlyphs">*</text>
<text x="356.40" y="143.91" font-size="7.8" font-style="italic" text-anchor="middle" fill="#333">MNDA</text>
<line x1="337.30" y1="159.90" x2="337.30" y2="207.10" stroke="#1a1a1a" stroke-width="1.1"/>
<line x1="335.10" y1="207.10" x2="337.30" y2="207.10" stroke="#1a1a1a" stroke-width="0.9"/>
<text x="333.90" y="209.01" font-size="5.3" text-anchor="end" fill="#333">0</text>
<line x1="335.10" y1="193.47" x2="337.30" y2="193.47" stroke="#1a1a1a" stroke-width="0.9"/>
<text x="333.90" y="195.37" font-size="5.3" text-anchor="end" fill="#333">10</text>
<line x1="335.10" y1="179.83" x2="337.30" y2="179.83" stroke="#1a1a1a" stroke-width="0.9"/>
<text x="333.90" y="181.74" font-size="5.3" text-anchor="end" fill="#333">20</text>
<line x1="335.10" y1="166.20" x2="337.30" y2="166.20" stroke="#1a1a1a" stroke-width="0.9"/>
<text x="333.90" y="168.11" font-size="5.3" text-anchor="end" fill="#333">30</text>
<rect x="340.50" y="206.69" width="5.60" height="0.41" fill="#465070"/>
<line x1="351.50" y1="203.69" x2="351.50" y2="205.06" stroke="#333" stroke-width="0.8"/>
<line x1="350.30" y1="203.69" x2="352.70" y2="203.69" stroke="#333" stroke-width="0.9"/>
<rect x="348.70" y="205.06" width="5.60" height="2.04" fill="#c9c9ce"/>
<line x1="359.80" y1="180.79" x2="359.80" y2="181.74" stroke="#333" stroke-width="0.8"/>
<line x1="358.60" y1="180.79" x2="361.00" y2="180.79" stroke="#333" stroke-width="0.9"/>
<rect x="357.00" y="181.74" width="5.60" height="25.36" fill="#a8102f"/>
<line x1="368.00" y1="165.52" x2="368.00" y2="168.11" stroke="#333" stroke-width="0.8"/>
<line x1="366.80" y1="165.52" x2="369.20" y2="165.52" stroke="#333" stroke-width="0.9"/>
<rect x="365.20" y="168.11" width="5.60" height="38.99" fill="#244888"/>
<line x1="337.30" y1="207.10" x2="374.00" y2="207.10" stroke="#1a1a1a" stroke-width="1.2"/>
<line x1="343.30" y1="207.10" x2="343.30" y2="209.30" stroke="#1a1a1a" stroke-width="0.9"/>
<line x1="351.50" y1="207.10" x2="351.50" y2="209.30" stroke="#1a1a1a" stroke-width="0.9"/>
<line x1="359.80" y1="207.10" x2="359.80" y2="209.30" stroke="#1a1a1a" stroke-width="0.9"/>
<line x1="368.00" y1="207.10" x2="368.00" y2="209.30" stroke="#1a1a1a" stroke-width="0.9"/>
<text x="343.00" y="216.91" font-size="5.3" text-anchor="middle" textLength="16" lengthAdjust="spacingAndGlyphs" fill="#333">DMSO</text>
<text x="324.50" y="224.51" font-size="5.3" fill="#333">MI-3454</text>
<text x="324.50" y="231.71" font-size="5.3" fill="#333">Gilt.</text>
<text x="351.50" y="224.51" font-size="5.3" text-anchor="middle" fill="#333">-</text>
<text x="351.50" y="231.71" font-size="5.3" text-anchor="middle" fill="#333">2</text>
<text x="359.80" y="224.51" font-size="5.3" text-anchor="middle" fill="#333">20</text>
<text x="359.80" y="231.71" font-size="5.3" text-anchor="middle" fill="#333">-</text>
<text x="368.00" y="224.51" font-size="5.3" text-anchor="middle" fill="#333">20</text>
<text x="368.00" y="231.71" font-size="5.3" text-anchor="middle" fill="#333">2</text>
<text x="321.02" y="184.50" font-size="7.0" text-anchor="middle" textLength="33" lengthAdjust="spacingAndGlyphs" fill="#333" transform="rotate(-90 321.02 184.50)">Fold change</text>
<line x1="351.50" y1="157.00" x2="368.50" y2="157.00" stroke="#333" stroke-width="0.9"/>
<text x="360.00" y="157.30" font-size="4.6" text-anchor="middle" fill="#333" textLength="7.20" lengthAdjust="spacingAndGlyphs">****</text>
<line x1="360.30" y1="161.20" x2="368.50" y2="161.20" stroke="#333" stroke-width="0.9"/>
<text x="364.40" y="161.50" font-size="4.6" text-anchor="middle" fill="#333" textLength="7.20" lengthAdjust="spacingAndGlyphs">****</text>
<text x="393.5" y="143" font-size="12" font-weight="bold">F</text>
<defs><clipPath id="vb1"><circle cx="426.45" cy="184.1" r="29.5"/></clipPath><clipPath id="vr1"><circle cx="433.9" cy="208.65" r="19.75"/></clipPath></defs>
<circle cx="426.45" cy="184.10" r="29.50" fill="#96a5c8"/>
<circle cx="433.90" cy="208.65" r="19.75" fill="#d7789a"/>
<circle cx="413.00" cy="208.70" r="16.10" fill="#f5d293"/>
<circle cx="433.90" cy="208.65" r="19.75" fill="#964b73" clip-path="url(#vb1)"/>
<circle cx="413.00" cy="208.70" r="16.10" fill="#aa9673" clip-path="url(#vb1)"/>
<circle cx="413.00" cy="208.70" r="16.10" fill="#e1825a" clip-path="url(#vr1)"/>
<g clip-path="url(#vb1)"><circle cx="413" cy="208.7" r="16.1" fill="#b46043" clip-path="url(#vr1)"/></g>
<circle cx="426.45" cy="184.10" r="29.50" fill="none" stroke="#4a68a8" stroke-width="0.9"/>
<circle cx="433.90" cy="208.65" r="19.75" fill="none" stroke="#bf2650" stroke-width="0.9"/>
<circle cx="413.00" cy="208.70" r="16.10" fill="none" stroke="#e8a030" stroke-width="0.9"/>
<text x="426.25" y="179.52" font-size="7.0" text-anchor="middle" textLength="9.5" lengthAdjust="spacingAndGlyphs">894</text>
<text x="410.00" y="202.52" font-size="7.0" text-anchor="middle" textLength="6.3" lengthAdjust="spacingAndGlyphs">50</text>
<text x="421.50" y="208.52" font-size="7.0" text-anchor="middle" textLength="6.3" lengthAdjust="spacingAndGlyphs">93</text>
<text x="437.00" y="201.02" font-size="7.0" text-anchor="middle" textLength="9.5" lengthAdjust="spacingAndGlyphs">195</text>
<text x="405.75" y="217.02" font-size="7.0" text-anchor="middle" textLength="6.3" lengthAdjust="spacingAndGlyphs">39</text>
<text x="421.50" y="219.02" font-size="7.0" text-anchor="middle" textLength="3.1" lengthAdjust="spacingAndGlyphs">4</text>
<text x="440.00" y="220.02" font-size="7.0" text-anchor="middle" textLength="6.3" lengthAdjust="spacingAndGlyphs">18</text>
<text x="426.25" y="152.66" font-size="6.0" text-anchor="middle" textLength="36" lengthAdjust="spacingAndGlyphs" fill="#333">MI-3454 + Gilt.</text>
<text x="398.00" y="227.66" font-size="6.0" text-anchor="middle" fill="#333">Gilt.</text>
<text x="445.00" y="232.91" font-size="6.0" text-anchor="middle" textLength="20" lengthAdjust="spacingAndGlyphs" fill="#333">MI-3454</text>
<defs><clipPath id="vb2"><circle cx="488.6" cy="180.7" r="24.1"/></clipPath><clipPath id="vr2"><circle cx="495.5" cy="200.3" r="18.6"/></clipPath></defs>
<circle cx="488.60" cy="180.70" r="24.10" fill="#96a5c8"/>
<circle cx="495.50" cy="200.30" r="18.60" fill="#d7789a"/>
<circle cx="475.20" cy="200.30" r="9.20" fill="#f5d293"/>
<circle cx="495.50" cy="200.30" r="18.60" fill="#964b73" clip-path="url(#vb2)"/>
<circle cx="475.20" cy="200.30" r="9.20" fill="#aa9673" clip-path="url(#vb2)"/>
<circle cx="475.20" cy="200.30" r="9.20" fill="#e1825a" clip-path="url(#vr2)"/>
<g clip-path="url(#vb2)"><circle cx="475.2" cy="200.3" r="9.2" fill="#b46043" clip-path="url(#vr2)"/></g>
<circle cx="488.60" cy="180.70" r="24.10" fill="none" stroke="#4a68a8" stroke-width="0.9"/>
<circle cx="495.50" cy="200.30" r="18.60" fill="none" stroke="#bf2650" stroke-width="0.9"/>
<circle cx="475.20" cy="200.30" r="9.20" fill="none" stroke="#e8a030" stroke-width="0.9"/>
<text x="487.70" y="174.52" font-size="7.0" text-anchor="middle" textLength="9.5" lengthAdjust="spacingAndGlyphs">799</text>
<text x="494.50" y="193.92" font-size="7.0" text-anchor="middle" textLength="9.5" lengthAdjust="spacingAndGlyphs">311</text>
<text x="474.20" y="198.22" font-size="7.0" text-anchor="middle" textLength="3.1" lengthAdjust="spacingAndGlyphs">7</text>
<text x="480.10" y="200.82" font-size="7.0" text-anchor="middle" textLength="6.3" lengthAdjust="spacingAndGlyphs">32</text>
<text x="471.00" y="206.02" font-size="7.0" text-anchor="middle" textLength="6.3" lengthAdjust="spacingAndGlyphs">34</text>
<text x="479.20" y="207.32" font-size="7.0" text-anchor="middle" textLength="3.1" lengthAdjust="spacingAndGlyphs">4</text>
<text x="497.00" y="212.32" font-size="7.0" text-anchor="middle" textLength="6.3" lengthAdjust="spacingAndGlyphs">26</text>
<text x="488.40" y="152.46" font-size="6.0" text-anchor="middle" textLength="36" lengthAdjust="spacingAndGlyphs" fill="#333">MI-3454 + Gilt.</text>
<text x="469.90" y="216.36" font-size="6.0" text-anchor="middle" fill="#333">Gilt.</text>
<text x="502.90" y="226.26" font-size="6.0" text-anchor="middle" textLength="20" lengthAdjust="spacingAndGlyphs" fill="#333">MI-3454</text>
<text x="7.5" y="256.3" font-size="12" font-weight="bold">G</text>
<rect x="31.06" y="275.50" width="7.00" height="32.75" fill="#a5621f"/>
<text x="28.80" y="295.29" font-size="7.0" text-anchor="end" textLength="20.8" lengthAdjust="spacingAndGlyphs" fill="#333">cluster 5</text>
<rect x="40.30" y="275.50" width="12.18" height="1.14" fill="#e59a7e"/>
<rect x="52.42" y="275.50" width="12.18" height="1.14" fill="#e7a083"/>
<rect x="64.55" y="275.50" width="12.18" height="1.14" fill="#d67961"/>
<rect x="76.67" y="275.50" width="12.18" height="1.14" fill="#f6dbcb"/>
<rect x="88.80" y="275.50" width="12.18" height="1.14" fill="#f4cbb4"/>
<rect x="100.92" y="275.50" width="12.18" height="1.14" fill="#f6e2d6"/>
<rect x="113.05" y="275.50" width="12.18" height="1.14" fill="#e9eef4"/>
<rect x="125.17" y="275.50" width="12.18" height="1.14" fill="#e6ecf3"/>
<rect x="137.30" y="275.50" width="12.18" height="1.14" fill="#cbddee"/>
<rect x="149.43" y="275.50" width="12.18" height="1.14" fill="#8bb0d9"/>
<rect x="161.55" y="275.50" width="12.18" height="1.14" fill="#77a1d1"/>
<rect x="173.68" y="275.50" width="12.18" height="1.14" fill="#8cb0d9"/>
<rect x="40.30" y="276.59" width="12.18" height="1.14" fill="#dc866a"/>
<rect x="52.42" y="276.59" width="12.18" height="1.14" fill="#eaaa8e"/>
<rect x="64.55" y="276.59" width="12.18" height="1.14" fill="#e59a7d"/>
<rect x="76.67" y="276.59" width="12.18" height="1.14" fill="#eff2f5"/>
<rect x="88.80" y="276.59" width="12.18" height="1.14" fill="#f6e7de"/>
<rect x="100.92" y="276.59" width="12.18" height="1.14" fill="#f6ede8"/>
<rect x="113.05" y="276.59" width="12.18" height="1.14" fill="#d4e2f0"/>
<rect x="125.17" y="276.59" width="12.18" height="1.14" fill="#f6f6f6"/>
<rect x="137.30" y="276.59" width="12.18" height="1.14" fill="#e5ecf3"/>
<rect x="149.43" y="276.59" width="12.18" height="1.14" fill="#90b3db"/>
<rect x="161.55" y="276.59" width="12.18" height="1.14" fill="#648fc6"/>
<rect x="173.68" y="276.59" width="12.18" height="1.14" fill="#749ed0"/>
<rect x="40.30" y="277.68" width="12.18" height="1.14" fill="#e08e70"/>
<rect x="52.42" y="277.68" width="12.18" height="1.14" fill="#eeb59b"/>
<rect x="64.55" y="277.68" width="12.18" height="1.14" fill="#eaa98e"/>
<rect x="76.67" y="277.68" width="12.18" height="1.14" fill="#f6d2bb"/>
<rect x="88.80" y="277.68" width="12.18" height="1.14" fill="#f6f0ec"/>
<rect x="100.92" y="277.68" width="12.18" height="1.14" fill="#f6e6dc"/>
<rect x="113.05" y="277.68" width="12.18" height="1.14" fill="#f1f3f5"/>
<rect x="125.17" y="277.68" width="12.18" height="1.14" fill="#d5e3f0"/>
<rect x="137.30" y="277.68" width="12.18" height="1.14" fill="#ecf0f4"/>
<rect x="149.43" y="277.68" width="12.18" height="1.14" fill="#9abade"/>
<rect x="161.55" y="277.68" width="12.18" height="1.14" fill="#5581be"/>
<rect x="173.68" y="277.68" width="12.18" height="1.14" fill="#83aad6"/>
<rect x="40.30" y="278.77" width="12.18" height="1.14" fill="#e9a88c"/>
<rect x="52.42" y="278.77" width="12.18" height="1.14" fill="#da8066"/>
<rect x="64.55" y="278.77" width="12.18" height="1.14" fill="#dc856a"/>
<rect x="76.67" y="278.77" width="12.18" height="1.14" fill="#f6daca"/>
<rect x="88.80" y="278.77" width="12.18" height="1.14" fill="#f5cdb6"/>
<rect x="100.92" y="278.77" width="12.18" height="1.14" fill="#f6e8e0"/>
<rect x="113.05" y="278.77" width="12.18" height="1.14" fill="#ebf0f4"/>
<rect x="125.17" y="278.77" width="12.18" height="1.14" fill="#d7e4f0"/>
<rect x="137.30" y="278.77" width="12.18" height="1.14" fill="#f3f4f5"/>
<rect x="149.43" y="278.77" width="12.18" height="1.14" fill="#749ed0"/>
<rect x="161.55" y="278.77" width="12.18" height="1.14" fill="#6a95ca"/>
<rect x="173.68" y="278.77" width="12.18" height="1.14" fill="#709acd"/>
<rect x="40.30" y="279.87" width="12.18" height="1.14" fill="#ecb096"/>
<rect x="52.42" y="279.87" width="12.18" height="1.14" fill="#e59a7d"/>
<rect x="64.55" y="279.87" width="12.18" height="1.14" fill="#d5765f"/>
<rect x="76.67" y="279.87" width="12.18" height="1.14" fill="#f6dfd1"/>
<rect x="88.80" y="279.87" width="12.18" height="1.14" fill="#e1e9f2"/>
<rect x="100.92" y="279.87" width="12.18" height="1.14" fill="#c6daed"/>
<rect x="113.05" y="279.87" width="12.18" height="1.14" fill="#f6f6f6"/>
<rect x="125.17" y="279.87" width="12.18" height="1.14" fill="#e6edf3"/>
<rect x="137.30" y="279.87" width="12.18" height="1.14" fill="#e0e9f2"/>
<rect x="149.43" y="279.87" width="12.18" height="1.14" fill="#7aa3d3"/>
<rect x="161.55" y="279.87" width="12.18" height="1.14" fill="#709acd"/>
<rect x="173.68" y="279.87" width="12.18" height="1.14" fill="#739dcf"/>
<rect x="40.30" y="280.96" width="12.18" height="1.14" fill="#cf6955"/>
<rect x="52.42" y="280.96" width="12.18" height="1.14" fill="#dc8469"/>
<rect x="64.55" y="280.96" width="12.18" height="1.14" fill="#f1c0a8"/>
<rect x="76.67" y="280.96" width="12.18" height="1.14" fill="#f5cbb4"/>
<rect x="88.80" y="280.96" width="12.18" height="1.14" fill="#f5ceb7"/>
<rect x="100.92" y="280.96" width="12.18" height="1.14" fill="#f6decf"/>
<rect x="113.05" y="280.96" width="12.18" height="1.14" fill="#d7e4f0"/>
<rect x="125.17" y="280.96" width="12.18" height="1.14" fill="#eaeff4"/>
<rect x="137.30" y="280.96" width="12.18" height="1.14" fill="#f6efeb"/>
<rect x="149.43" y="280.96" width="12.18" height="1.14" fill="#6893c8"/>
<rect x="161.55" y="280.96" width="12.18" height="1.14" fill="#759fd0"/>
<rect x="173.68" y="280.96" width="12.18" height="1.14" fill="#9fbfe1"/>
<rect x="40.30" y="282.05" width="12.18" height="1.14" fill="#da8167"/>
<rect x="52.42" y="282.05" width="12.18" height="1.14" fill="#e29375"/>
<rect x="64.55" y="282.05" width="12.18" height="1.14" fill="#e7a185"/>
<rect x="76.67" y="282.05" width="12.18" height="1.14" fill="#f2c3ab"/>
<rect x="88.80" y="282.05" width="12.18" height="1.14" fill="#f6e3d7"/>
<rect x="100.92" y="282.05" width="12.18" height="1.14" fill="#f6e6dd"/>
<rect x="113.05" y="282.05" width="12.18" height="1.14" fill="#f6f4f2"/>
<rect x="125.17" y="282.05" width="12.18" height="1.14" fill="#ebeff4"/>
<rect x="137.30" y="282.05" width="12.18" height="1.14" fill="#dde7f2"/>
<rect x="149.43" y="282.05" width="12.18" height="1.14" fill="#8fb2da"/>
<rect x="161.55" y="282.05" width="12.18" height="1.14" fill="#8aafd9"/>
<rect x="173.68" y="282.05" width="12.18" height="1.14" fill="#7ca5d4"/>
<rect x="40.30" y="283.14" width="12.18" height="1.14" fill="#ca604e"/>
<rect x="52.42" y="283.14" width="12.18" height="1.14" fill="#f1c2a9"/>
<rect x="64.55" y="283.14" width="12.18" height="1.14" fill="#da8167"/>
<rect x="76.67" y="283.14" width="12.18" height="1.14" fill="#eef1f5"/>
<rect x="88.80" y="283.14" width="12.18" height="1.14" fill="#f6efeb"/>
<rect x="100.92" y="283.14" width="12.18" height="1.14" fill="#f6dfd2"/>
<rect x="113.05" y="283.14" width="12.18" height="1.14" fill="#f4f5f6"/>
<rect x="125.17" y="283.14" width="12.18" height="1.14" fill="#f0f3f5"/>
<rect x="137.30" y="283.14" width="12.18" height="1.14" fill="#e9eef4"/>
<rect x="149.43" y="283.14" width="12.18" height="1.14" fill="#7ea7d4"/>
<rect x="161.55" y="283.14" width="12.18" height="1.14" fill="#729cce"/>
<rect x="173.68" y="283.14" width="12.18" height="1.14" fill="#8db1da"/>
<rect x="40.30" y="284.23" width="12.18" height="1.14" fill="#cd6653"/>
<rect x="52.42" y="284.23" width="12.18" height="1.14" fill="#de896d"/>
<rect x="64.55" y="284.23" width="12.18" height="1.14" fill="#c85c4b"/>
<rect x="76.67" y="284.23" width="12.18" height="1.14" fill="#f6ded0"/>
<rect x="88.80" y="284.23" width="12.18" height="1.14" fill="#f6e7de"/>
<rect x="100.92" y="284.23" width="12.18" height="1.14" fill="#f6eee9"/>
<rect x="113.05" y="284.23" width="12.18" height="1.14" fill="#eaeff4"/>
<rect x="125.17" y="284.23" width="12.18" height="1.14" fill="#f6f5f4"/>
<rect x="137.30" y="284.23" width="12.18" height="1.14" fill="#e5ecf3"/>
<rect x="149.43" y="284.23" width="12.18" height="1.14" fill="#86acd7"/>
<rect x="161.55" y="284.23" width="12.18" height="1.14" fill="#92b5dc"/>
<rect x="173.68" y="284.23" width="12.18" height="1.14" fill="#5c87c2"/>
<rect x="40.30" y="285.32" width="12.18" height="1.14" fill="#e39578"/>
<rect x="52.42" y="285.32" width="12.18" height="1.14" fill="#e29073"/>
<rect x="64.55" y="285.32" width="12.18" height="1.14" fill="#e59b7e"/>
<rect x="76.67" y="285.32" width="12.18" height="1.14" fill="#f6ede7"/>
<rect x="88.80" y="285.32" width="12.18" height="1.14" fill="#e9a78c"/>
<rect x="100.92" y="285.32" width="12.18" height="1.14" fill="#f6e2d5"/>
<rect x="113.05" y="285.32" width="12.18" height="1.14" fill="#e1e9f2"/>
<rect x="125.17" y="285.32" width="12.18" height="1.14" fill="#e7edf3"/>
<rect x="137.30" y="285.32" width="12.18" height="1.14" fill="#e5ecf3"/>
<rect x="149.43" y="285.32" width="12.18" height="1.14" fill="#81a8d5"/>
<rect x="161.55" y="285.32" width="12.18" height="1.14" fill="#4a76b7"/>
<rect x="173.68" y="285.32" width="12.18" height="1.14" fill="#80a8d5"/>
<rect x="40.30" y="286.42" width="12.18" height="1.14" fill="#c65647"/>
<rect x="52.42" y="286.42" width="12.18" height="1.14" fill="#ca5f4d"/>
<rect x="64.55" y="286.42" width="12.18" height="1.14" fill="#f0bca3"/>
<rect x="76.67" y="286.42" width="12.18" height="1.14" fill="#f6f2f0"/>
<rect x="88.80" y="286.42" width="12.18" height="1.14" fill="#f6eeea"/>
<rect x="100.92" y="286.42" width="12.18" height="1.14" fill="#f6e6dc"/>
<rect x="113.05" y="286.42" width="12.18" height="1.14" fill="#f4f5f6"/>
<rect x="125.17" y="286.42" width="12.18" height="1.14" fill="#bdd5ec"/>
<rect x="137.30" y="286.42" width="12.18" height="1.14" fill="#f4f5f6"/>
<rect x="149.43" y="286.42" width="12.18" height="1.14" fill="#719bce"/>
<rect x="161.55" y="286.42" width="12.18" height="1.14" fill="#88aed8"/>
<rect x="173.68" y="286.42" width="12.18" height="1.14" fill="#76a0d1"/>
<rect x="40.30" y="287.51" width="12.18" height="1.14" fill="#cb614f"/>
<rect x="52.42" y="287.51" width="12.18" height="1.14" fill="#e29274"/>
<rect x="64.55" y="287.51" width="12.18" height="1.14" fill="#e4987b"/>
<rect x="76.67" y="287.51" width="12.18" height="1.14" fill="#f0bda4"/>
<rect x="88.80" y="287.51" width="12.18" height="1.14" fill="#f2c4ac"/>
<rect x="100.92" y="287.51" width="12.18" height="1.14" fill="#f6e7dd"/>
<rect x="113.05" y="287.51" width="12.18" height="1.14" fill="#f6e7de"/>
<rect x="125.17" y="287.51" width="12.18" height="1.14" fill="#d3e1f0"/>
<rect x="137.30" y="287.51" width="12.18" height="1.14" fill="#f1f3f5"/>
<rect x="149.43" y="287.51" width="12.18" height="1.14" fill="#7ca5d4"/>
<rect x="161.55" y="287.51" width="12.18" height="1.14" fill="#76a0d1"/>
<rect x="173.68" y="287.51" width="12.18" height="1.14" fill="#95b7dd"/>
<rect x="40.30" y="288.60" width="12.18" height="1.14" fill="#cd6753"/>
<rect x="52.42" y="288.60" width="12.18" height="1.14" fill="#ecb095"/>
<rect x="64.55" y="288.60" width="12.18" height="1.14" fill="#ecb297"/>
<rect x="76.67" y="288.60" width="12.18" height="1.14" fill="#f0f3f5"/>
<rect x="88.80" y="288.60" width="12.18" height="1.14" fill="#f2c3ab"/>
<rect x="100.92" y="288.60" width="12.18" height="1.14" fill="#f6d9c7"/>
<rect x="113.05" y="288.60" width="12.18" height="1.14" fill="#edf1f4"/>
<rect x="125.17" y="288.60" width="12.18" height="1.14" fill="#cadcee"/>
<rect x="137.30" y="288.60" width="12.18" height="1.14" fill="#d8e4f1"/>
<rect x="149.43" y="288.60" width="12.18" height="1.14" fill="#5e89c3"/>
<rect x="161.55" y="288.60" width="12.18" height="1.14" fill="#6f9acd"/>
<rect x="173.68" y="288.60" width="12.18" height="1.14" fill="#92b5dc"/>
<rect x="40.30" y="289.69" width="12.18" height="1.14" fill="#f0bea5"/>
<rect x="52.42" y="289.69" width="12.18" height="1.14" fill="#d5775f"/>
<rect x="64.55" y="289.69" width="12.18" height="1.14" fill="#e8a387"/>
<rect x="76.67" y="289.69" width="12.18" height="1.14" fill="#f6e6dc"/>
<rect x="88.80" y="289.69" width="12.18" height="1.14" fill="#f6d1bb"/>
<rect x="100.92" y="289.69" width="12.18" height="1.14" fill="#f6d9c7"/>
<rect x="113.05" y="289.69" width="12.18" height="1.14" fill="#f6ede7"/>
<rect x="125.17" y="289.69" width="12.18" height="1.14" fill="#dfe9f2"/>
<rect x="137.30" y="289.69" width="12.18" height="1.14" fill="#f6f0ed"/>
<rect x="149.43" y="289.69" width="12.18" height="1.14" fill="#98b9de"/>
<rect x="161.55" y="289.69" width="12.18" height="1.14" fill="#89afd8"/>
<rect x="173.68" y="289.69" width="12.18" height="1.14" fill="#81a8d5"/>
<rect x="40.30" y="290.78" width="12.18" height="1.14" fill="#c75848"/>
<rect x="52.42" y="290.78" width="12.18" height="1.14" fill="#e9a68a"/>
<rect x="64.55" y="290.78" width="12.18" height="1.14" fill="#f6d9c7"/>
<rect x="76.67" y="290.78" width="12.18" height="1.14" fill="#f6e6dc"/>
<rect x="88.80" y="290.78" width="12.18" height="1.14" fill="#f0f2f5"/>
<rect x="100.92" y="290.78" width="12.18" height="1.14" fill="#f6d5c1"/>
<rect x="113.05" y="290.78" width="12.18" height="1.14" fill="#ebeff4"/>
<rect x="125.17" y="290.78" width="12.18" height="1.14" fill="#dde7f2"/>
<rect x="137.30" y="290.78" width="12.18" height="1.14" fill="#e6edf3"/>
<rect x="149.43" y="290.78" width="12.18" height="1.14" fill="#90b3db"/>
<rect x="161.55" y="290.78" width="12.18" height="1.14" fill="#749fd0"/>
<rect x="173.68" y="290.78" width="12.18" height="1.14" fill="#a0bfe1"/>
<rect x="40.30" y="291.88" width="12.18" height="1.14" fill="#e29173"/>
<rect x="52.42" y="291.88" width="12.18" height="1.14" fill="#d97e64"/>
<rect x="64.55" y="291.88" width="12.18" height="1.14" fill="#f5ccb4"/>
<rect x="76.67" y="291.88" width="12.18" height="1.14" fill="#f6f1ee"/>
<rect x="88.80" y="291.88" width="12.18" height="1.14" fill="#edf1f4"/>
<rect x="100.92" y="291.88" width="12.18" height="1.14" fill="#f6d1ba"/>
<rect x="113.05" y="291.88" width="12.18" height="1.14" fill="#e1e9f2"/>
<rect x="125.17" y="291.88" width="12.18" height="1.14" fill="#f2f4f5"/>
<rect x="137.30" y="291.88" width="12.18" height="1.14" fill="#f0f2f5"/>
<rect x="149.43" y="291.88" width="12.18" height="1.14" fill="#91b4db"/>
<rect x="161.55" y="291.88" width="12.18" height="1.14" fill="#78a2d2"/>
<rect x="173.68" y="291.88" width="12.18" height="1.14" fill="#9cbcdf"/>
<rect x="40.30" y="292.97" width="12.18" height="1.14" fill="#d16e59"/>
<rect x="52.42" y="292.97" width="12.18" height="1.14" fill="#e9a88d"/>
<rect x="64.55" y="292.97" width="12.18" height="1.14" fill="#e39577"/>
<rect x="76.67" y="292.97" width="12.18" height="1.14" fill="#f6d3be"/>
<rect x="88.80" y="292.97" width="12.18" height="1.14" fill="#ecf0f4"/>
<rect x="100.92" y="292.97" width="12.18" height="1.14" fill="#f6f3f1"/>
<rect x="113.05" y="292.97" width="12.18" height="1.14" fill="#f6f4f3"/>
<rect x="125.17" y="292.97" width="12.18" height="1.14" fill="#f5f6f6"/>
<rect x="137.30" y="292.97" width="12.18" height="1.14" fill="#eaeff4"/>
<rect x="149.43" y="292.97" width="12.18" height="1.14" fill="#99bade"/>
<rect x="161.55" y="292.97" width="12.18" height="1.14" fill="#7fa7d5"/>
<rect x="173.68" y="292.97" width="12.18" height="1.14" fill="#7ca5d3"/>
<rect x="40.30" y="294.06" width="12.18" height="1.14" fill="#e9a78b"/>
<rect x="52.42" y="294.06" width="12.18" height="1.14" fill="#f0bca3"/>
<rect x="64.55" y="294.06" width="12.18" height="1.14" fill="#f6d1ba"/>
<rect x="76.67" y="294.06" width="12.18" height="1.14" fill="#f6ebe5"/>
<rect x="88.80" y="294.06" width="12.18" height="1.14" fill="#f1f3f5"/>
<rect x="100.92" y="294.06" width="12.18" height="1.14" fill="#f6e7de"/>
<rect x="113.05" y="294.06" width="12.18" height="1.14" fill="#cbddee"/>
<rect x="125.17" y="294.06" width="12.18" height="1.14" fill="#f2f4f5"/>
<rect x="137.30" y="294.06" width="12.18" height="1.14" fill="#e4ebf3"/>
<rect x="149.43" y="294.06" width="12.18" height="1.14" fill="#5a86c1"/>
<rect x="161.55" y="294.06" width="12.18" height="1.14" fill="#78a2d2"/>
<rect x="173.68" y="294.06" width="12.18" height="1.14" fill="#7ba4d3"/>
<rect x="40.30" y="295.15" width="12.18" height="1.14" fill="#d87d64"/>
<rect x="52.42" y="295.15" width="12.18" height="1.14" fill="#e5997c"/>
<rect x="64.55" y="295.15" width="12.18" height="1.14" fill="#e59b7e"/>
<rect x="76.67" y="295.15" width="12.18" height="1.14" fill="#f6e5db"/>
<rect x="88.80" y="295.15" width="12.18" height="1.14" fill="#f6d1ba"/>
<rect x="100.92" y="295.15" width="12.18" height="1.14" fill="#f6e3d8"/>
<rect x="113.05" y="295.15" width="12.18" height="1.14" fill="#eef2f5"/>
<rect x="125.17" y="295.15" width="12.18" height="1.14" fill="#c9dcee"/>
<rect x="137.30" y="295.15" width="12.18" height="1.14" fill="#f5f5f6"/>
<rect x="149.43" y="295.15" width="12.18" height="1.14" fill="#92b5dc"/>
<rect x="161.55" y="295.15" width="12.18" height="1.14" fill="#6994c9"/>
<rect x="173.68" y="295.15" width="12.18" height="1.14" fill="#78a2d2"/>
<rect x="40.30" y="296.24" width="12.18" height="1.14" fill="#db8368"/>
<rect x="52.42" y="296.24" width="12.18" height="1.14" fill="#d16d58"/>
<rect x="64.55" y="296.24" width="12.18" height="1.14" fill="#be493d"/>
<rect x="76.67" y="296.24" width="12.18" height="1.14" fill="#f6f2f0"/>
<rect x="88.80" y="296.24" width="12.18" height="1.14" fill="#f6e3d7"/>
<rect x="100.92" y="296.24" width="12.18" height="1.14" fill="#f6e5da"/>
<rect x="113.05" y="296.24" width="12.18" height="1.14" fill="#dce7f1"/>
<rect x="125.17" y="296.24" width="12.18" height="1.14" fill="#e8eef4"/>
<rect x="137.30" y="296.24" width="12.18" height="1.14" fill="#eef1f5"/>
<rect x="149.43" y="296.24" width="12.18" height="1.14" fill="#a9c6e4"/>
<rect x="161.55" y="296.24" width="12.18" height="1.14" fill="#8cb0d9"/>
<rect x="173.68" y="296.24" width="12.18" height="1.14" fill="#9ebde0"/>
<rect x="40.30" y="297.33" width="12.18" height="1.14" fill="#e7a084"/>
<rect x="52.42" y="297.33" width="12.18" height="1.14" fill="#efb99f"/>
<rect x="64.55" y="297.33" width="12.18" height="1.14" fill="#c35143"/>
<rect x="76.67" y="297.33" width="12.18" height="1.14" fill="#f6d4c0"/>
<rect x="88.80" y="297.33" width="12.18" height="1.14" fill="#f6d9c7"/>
<rect x="100.92" y="297.33" width="12.18" height="1.14" fill="#c6daed"/>
<rect x="113.05" y="297.33" width="12.18" height="1.14" fill="#f6f6f6"/>
<rect x="125.17" y="297.33" width="12.18" height="1.14" fill="#f4f5f6"/>
<rect x="137.30" y="297.33" width="12.18" height="1.14" fill="#f6ebe5"/>
<rect x="149.43" y="297.33" width="12.18" height="1.14" fill="#88aed8"/>
<rect x="161.55" y="297.33" width="12.18" height="1.14" fill="#729cce"/>
<rect x="173.68" y="297.33" width="12.18" height="1.14" fill="#91b4db"/>
<rect x="40.30" y="298.43" width="12.18" height="1.14" fill="#cf6955"/>
<rect x="52.42" y="298.43" width="12.18" height="1.14" fill="#d5765f"/>
<rect x="64.55" y="298.43" width="12.18" height="1.14" fill="#f6d1bb"/>
<rect x="76.67" y="298.43" width="12.18" height="1.14" fill="#f6eae3"/>
<rect x="88.80" y="298.43" width="12.18" height="1.14" fill="#f6d6c3"/>
<rect x="100.92" y="298.43" width="12.18" height="1.14" fill="#f6e0d2"/>
<rect x="113.05" y="298.43" width="12.18" height="1.14" fill="#e2eaf2"/>
<rect x="125.17" y="298.43" width="12.18" height="1.14" fill="#dae5f1"/>
<rect x="137.30" y="298.43" width="12.18" height="1.14" fill="#f6eae3"/>
<rect x="149.43" y="298.43" width="12.18" height="1.14" fill="#8aafd9"/>
<rect x="161.55" y="298.43" width="12.18" height="1.14" fill="#5984c0"/>
<rect x="173.68" y="298.43" width="12.18" height="1.14" fill="#6893c9"/>
<rect x="40.30" y="299.52" width="12.18" height="1.14" fill="#dc8469"/>
<rect x="52.42" y="299.52" width="12.18" height="1.14" fill="#d87d64"/>
<rect x="64.55" y="299.52" width="12.18" height="1.14" fill="#f2c2a9"/>
<rect x="76.67" y="299.52" width="12.18" height="1.14" fill="#f6ece6"/>
<rect x="88.80" y="299.52" width="12.18" height="1.14" fill="#f6dccd"/>
<rect x="100.92" y="299.52" width="12.18" height="1.14" fill="#f6daca"/>
<rect x="113.05" y="299.52" width="12.18" height="1.14" fill="#ebeff4"/>
<rect x="125.17" y="299.52" width="12.18" height="1.14" fill="#f4f5f6"/>
<rect x="137.30" y="299.52" width="12.18" height="1.14" fill="#f6f2ef"/>
<rect x="149.43" y="299.52" width="12.18" height="1.14" fill="#8fb3db"/>
<rect x="161.55" y="299.52" width="12.18" height="1.14" fill="#86acd7"/>
<rect x="173.68" y="299.52" width="12.18" height="1.14" fill="#93b6dc"/>
<rect x="40.30" y="300.61" width="12.18" height="1.14" fill="#e39375"/>
<rect x="52.42" y="300.61" width="12.18" height="1.14" fill="#e59b7e"/>
<rect x="64.55" y="300.61" width="12.18" height="1.14" fill="#e69e81"/>
<rect x="76.67" y="300.61" width="12.18" height="1.14" fill="#f6decf"/>
<rect x="88.80" y="300.61" width="12.18" height="1.14" fill="#f6ddcd"/>
<rect x="100.92" y="300.61" width="12.18" height="1.14" fill="#f6e1d5"/>
<rect x="113.05" y="300.61" width="12.18" height="1.14" fill="#e4ebf3"/>
<rect x="125.17" y="300.61" width="12.18" height="1.14" fill="#d3e2f0"/>
<rect x="137.30" y="300.61" width="12.18" height="1.14" fill="#ecf0f4"/>
<rect x="149.43" y="300.61" width="12.18" height="1.14" fill="#89aed8"/>
<rect x="161.55" y="300.61" width="12.18" height="1.14" fill="#719bce"/>
<rect x="173.68" y="300.61" width="12.18" height="1.14" fill="#79a3d2"/>
<rect x="40.30" y="301.70" width="12.18" height="1.14" fill="#e39376"/>
<rect x="52.42" y="301.70" width="12.18" height="1.14" fill="#d87c63"/>
<rect x="64.55" y="301.70" width="12.18" height="1.14" fill="#ecb196"/>
<rect x="76.67" y="301.70" width="12.18" height="1.14" fill="#c5d9ed"/>
<rect x="88.80" y="301.70" width="12.18" height="1.14" fill="#f2f4f5"/>
<rect x="100.92" y="301.70" width="12.18" height="1.14" fill="#f6d5c0"/>
<rect x="113.05" y="301.70" width="12.18" height="1.14" fill="#cfdfef"/>
<rect x="125.17" y="301.70" width="12.18" height="1.14" fill="#c0d6ec"/>
<rect x="137.30" y="301.70" width="12.18" height="1.14" fill="#c9dcee"/>
<rect x="149.43" y="301.70" width="12.18" height="1.14" fill="#89aed8"/>
<rect x="161.55" y="301.70" width="12.18" height="1.14" fill="#7ba4d3"/>
<rect x="173.68" y="301.70" width="12.18" height="1.14" fill="#8aafd9"/>
<rect x="40.30" y="302.79" width="12.18" height="1.14" fill="#b13c35"/>
<rect x="52.42" y="302.79" width="12.18" height="1.14" fill="#cf6955"/>
<rect x="64.55" y="302.79" width="12.18" height="1.14" fill="#ce6854"/>
<rect x="76.67" y="302.79" width="12.18" height="1.14" fill="#f6f3f1"/>
<rect x="88.80" y="302.79" width="12.18" height="1.14" fill="#f6e0d2"/>
<rect x="100.92" y="302.79" width="12.18" height="1.14" fill="#f6d9c7"/>
<rect x="113.05" y="302.79" width="12.18" height="1.14" fill="#e1e9f2"/>
<rect x="125.17" y="302.79" width="12.18" height="1.14" fill="#f5f5f6"/>
<rect x="137.30" y="302.79" width="12.18" height="1.14" fill="#eef1f5"/>
<rect x="149.43" y="302.79" width="12.18" height="1.14" fill="#96b8dd"/>
<rect x="161.55" y="302.79" width="12.18" height="1.14" fill="#749fd0"/>
<rect x="173.68" y="302.79" width="12.18" height="1.14" fill="#bbd3eb"/>
<rect x="40.30" y="303.88" width="12.18" height="1.14" fill="#d67961"/>
<rect x="52.42" y="303.88" width="12.18" height="1.14" fill="#d26f59"/>
<rect x="64.55" y="303.88" width="12.18" height="1.14" fill="#d06c57"/>
<rect x="76.67" y="303.88" width="12.18" height="1.14" fill="#f6e6dd"/>
<rect x="88.80" y="303.88" width="12.18" height="1.14" fill="#f6f6f6"/>
<rect x="100.92" y="303.88" width="12.18" height="1.14" fill="#f6e7de"/>
<rect x="113.05" y="303.88" width="12.18" height="1.14" fill="#ebf0f4"/>
<rect x="125.17" y="303.88" width="12.18" height="1.14" fill="#f6f6f5"/>
<rect x="137.30" y="303.88" width="12.18" height="1.14" fill="#f1f3f5"/>
<rect x="149.43" y="303.88" width="12.18" height="1.14" fill="#9dbde0"/>
<rect x="161.55" y="303.88" width="12.18" height="1.14" fill="#9ebde0"/>
<rect x="173.68" y="303.88" width="12.18" height="1.14" fill="#adc9e6"/>
<rect x="40.30" y="304.98" width="12.18" height="1.14" fill="#e5997c"/>
<rect x="52.42" y="304.98" width="12.18" height="1.14" fill="#e9a78b"/>
<rect x="64.55" y="304.98" width="12.18" height="1.14" fill="#e39578"/>
<rect x="76.67" y="304.98" width="12.18" height="1.14" fill="#ebf0f4"/>
<rect x="88.80" y="304.98" width="12.18" height="1.14" fill="#f6e8e0"/>
<rect x="100.92" y="304.98" width="12.18" height="1.14" fill="#d8e4f1"/>
<rect x="113.05" y="304.98" width="12.18" height="1.14" fill="#d9e5f1"/>
<rect x="125.17" y="304.98" width="12.18" height="1.14" fill="#ebf0f4"/>
<rect x="137.30" y="304.98" width="12.18" height="1.14" fill="#ebf0f4"/>
<rect x="149.43" y="304.98" width="12.18" height="1.14" fill="#86acd7"/>
<rect x="161.55" y="304.98" width="12.18" height="1.14" fill="#759fd0"/>
<rect x="173.68" y="304.98" width="12.18" height="1.14" fill="#749fd0"/>
<rect x="40.30" y="306.07" width="12.18" height="1.14" fill="#d16d58"/>
<rect x="52.42" y="306.07" width="12.18" height="1.14" fill="#eeb79e"/>
<rect x="64.55" y="306.07" width="12.18" height="1.14" fill="#d06b57"/>
<rect x="76.67" y="306.07" width="12.18" height="1.14" fill="#f6d3bd"/>
<rect x="88.80" y="306.07" width="12.18" height="1.14" fill="#eaeff4"/>
<rect x="100.92" y="306.07" width="12.18" height="1.14" fill="#f6e7de"/>
<rect x="113.05" y="306.07" width="12.18" height="1.14" fill="#f6f5f4"/>
<rect x="125.17" y="306.07" width="12.18" height="1.14" fill="#d5e3f0"/>
<rect x="137.30" y="306.07" width="12.18" height="1.14" fill="#d4e2f0"/>
<rect x="149.43" y="306.07" width="12.18" height="1.14" fill="#6590c7"/>
<rect x="161.55" y="306.07" width="12.18" height="1.14" fill="#608bc4"/>
<rect x="173.68" y="306.07" width="12.18" height="1.14" fill="#6691c7"/>
<rect x="40.30" y="307.16" width="12.18" height="1.14" fill="#c14d40"/>
<rect x="52.42" y="307.16" width="12.18" height="1.14" fill="#d4745d"/>
<rect x="64.55" y="307.16" width="12.18" height="1.14" fill="#efbba2"/>
<rect x="76.67" y="307.16" width="12.18" height="1.14" fill="#f6ece6"/>
<rect x="88.80" y="307.16" width="12.18" height="1.14" fill="#f6f2ef"/>
<rect x="100.92" y="307.16" width="12.18" height="1.14" fill="#f1f3f5"/>
<rect x="113.05" y="307.16" width="12.18" height="1.14" fill="#eaeff4"/>
<rect x="125.17" y="307.16" width="12.18" height="1.14" fill="#ebeff4"/>
<rect x="137.30" y="307.16" width="12.18" height="1.14" fill="#f2f4f5"/>
<rect x="149.43" y="307.16" width="12.18" height="1.14" fill="#6c97cb"/>
<rect x="161.55" y="307.16" width="12.18" height="1.14" fill="#6590c7"/>
<rect x="173.68" y="307.16" width="12.18" height="1.14" fill="#8db2da"/>
<rect x="31.06" y="308.25" width="7.00" height="46.75" fill="#e6b81c"/>
<text x="28.80" y="335.04" font-size="7.0" text-anchor="end" textLength="20.8" lengthAdjust="spacingAndGlyphs" fill="#333">cluster 4</text>
<rect x="40.30" y="308.25" width="12.18" height="1.16" fill="#c6daee"/>
<rect x="52.42" y="308.25" width="12.18" height="1.16" fill="#bbd3eb"/>
<rect x="64.55" y="308.25" width="12.18" height="1.16" fill="#b3cde8"/>
<rect x="76.67" y="308.25" width="12.18" height="1.16" fill="#c2d7ed"/>
<rect x="88.80" y="308.25" width="12.18" height="1.16" fill="#c9dcee"/>
<rect x="100.92" y="308.25" width="12.18" height="1.16" fill="#9ebee0"/>
<rect x="113.05" y="308.25" width="12.18" height="1.16" fill="#e3ebf3"/>
<rect x="125.17" y="308.25" width="12.18" height="1.16" fill="#f6f2f0"/>
<rect x="137.30" y="308.25" width="12.18" height="1.16" fill="#d6e3f0"/>
<rect x="149.43" y="308.25" width="12.18" height="1.16" fill="#d2705a"/>
<rect x="161.55" y="308.25" width="12.18" height="1.16" fill="#c55646"/>
<rect x="173.68" y="308.25" width="12.18" height="1.16" fill="#e9a68a"/>
<rect x="40.30" y="309.36" width="12.18" height="1.16" fill="#bbd2eb"/>
<rect x="52.42" y="309.36" width="12.18" height="1.16" fill="#a5c3e3"/>
<rect x="64.55" y="309.36" width="12.18" height="1.16" fill="#b2cce7"/>
<rect x="76.67" y="309.36" width="12.18" height="1.16" fill="#cbddee"/>
<rect x="88.80" y="309.36" width="12.18" height="1.16" fill="#d7e4f0"/>
<rect x="100.92" y="309.36" width="12.18" height="1.16" fill="#d0e0ef"/>
<rect x="113.05" y="309.36" width="12.18" height="1.16" fill="#eef1f5"/>
<rect x="125.17" y="309.36" width="12.18" height="1.16" fill="#dee8f2"/>
<rect x="137.30" y="309.36" width="12.18" height="1.16" fill="#f6f6f5"/>
<rect x="149.43" y="309.36" width="12.18" height="1.16" fill="#d97e65"/>
<rect x="161.55" y="309.36" width="12.18" height="1.16" fill="#d16d58"/>
<rect x="173.68" y="309.36" width="12.18" height="1.16" fill="#d3725b"/>
<rect x="40.30" y="310.48" width="12.18" height="1.16" fill="#dbe6f1"/>
<rect x="52.42" y="310.48" width="12.18" height="1.16" fill="#acc8e5"/>
<rect x="64.55" y="310.48" width="12.18" height="1.16" fill="#c4d9ed"/>
<rect x="76.67" y="310.48" width="12.18" height="1.16" fill="#d2e1ef"/>
<rect x="88.80" y="310.48" width="12.18" height="1.16" fill="#e0e9f2"/>
<rect x="100.92" y="310.48" width="12.18" height="1.16" fill="#a9c6e4"/>
<rect x="113.05" y="310.48" width="12.18" height="1.16" fill="#eef1f5"/>
<rect x="125.17" y="310.48" width="12.18" height="1.16" fill="#f6ebe4"/>
<rect x="137.30" y="310.48" width="12.18" height="1.16" fill="#f6e5db"/>
<rect x="149.43" y="310.48" width="12.18" height="1.16" fill="#a6322e"/>
<rect x="161.55" y="310.48" width="12.18" height="1.16" fill="#c14d3f"/>
<rect x="173.68" y="310.48" width="12.18" height="1.16" fill="#c45243"/>
<rect x="40.30" y="311.59" width="12.18" height="1.16" fill="#ccddef"/>
<rect x="52.42" y="311.59" width="12.18" height="1.16" fill="#acc8e5"/>
<rect x="64.55" y="311.59" width="12.18" height="1.16" fill="#d0e0ef"/>
<rect x="76.67" y="311.59" width="12.18" height="1.16" fill="#c8dbee"/>
<rect x="88.80" y="311.59" width="12.18" height="1.16" fill="#dbe6f1"/>
<rect x="100.92" y="311.59" width="12.18" height="1.16" fill="#f6f6f6"/>
<rect x="113.05" y="311.59" width="12.18" height="1.16" fill="#f6f3f1"/>
<rect x="125.17" y="311.59" width="12.18" height="1.16" fill="#f6efea"/>
<rect x="137.30" y="311.59" width="12.18" height="1.16" fill="#f6dccc"/>
<rect x="149.43" y="311.59" width="12.18" height="1.16" fill="#d16f59"/>
<rect x="161.55" y="311.59" width="12.18" height="1.16" fill="#d06d57"/>
<rect x="173.68" y="311.59" width="12.18" height="1.16" fill="#d16f59"/>
<rect x="40.30" y="312.70" width="12.18" height="1.16" fill="#dbe6f1"/>
<rect x="52.42" y="312.70" width="12.18" height="1.16" fill="#bed5ec"/>
<rect x="64.55" y="312.70" width="12.18" height="1.16" fill="#c2d7ed"/>
<rect x="76.67" y="312.70" width="12.18" height="1.16" fill="#cfdfef"/>
<rect x="88.80" y="312.70" width="12.18" height="1.16" fill="#eaeff4"/>
<rect x="100.92" y="312.70" width="12.18" height="1.16" fill="#cbddee"/>
<rect x="113.05" y="312.70" width="12.18" height="1.16" fill="#f6ece5"/>
<rect x="125.17" y="312.70" width="12.18" height="1.16" fill="#e9eef4"/>
<rect x="137.30" y="312.70" width="12.18" height="1.16" fill="#e4ebf3"/>
<rect x="149.43" y="312.70" width="12.18" height="1.16" fill="#ba463b"/>
<rect x="161.55" y="312.70" width="12.18" height="1.16" fill="#942124"/>
<rect x="173.68" y="312.70" width="12.18" height="1.16" fill="#cb624f"/>
<rect x="40.30" y="313.82" width="12.18" height="1.16" fill="#cedeef"/>
<rect x="52.42" y="313.82" width="12.18" height="1.16" fill="#c3d8ed"/>
<rect x="64.55" y="313.82" width="12.18" height="1.16" fill="#a6c3e3"/>
<rect x="76.67" y="313.82" width="12.18" height="1.16" fill="#f6f5f5"/>
<rect x="88.80" y="313.82" width="12.18" height="1.16" fill="#d6e3f0"/>
<rect x="100.92" y="313.82" width="12.18" height="1.16" fill="#e2eaf2"/>
<rect x="113.05" y="313.82" width="12.18" height="1.16" fill="#ebf0f4"/>
<rect x="125.17" y="313.82" width="12.18" height="1.16" fill="#f6f3f2"/>
<rect x="137.30" y="313.82" width="12.18" height="1.16" fill="#d0e0ef"/>
<rect x="149.43" y="313.82" width="12.18" height="1.16" fill="#ad3933"/>
<rect x="161.55" y="313.82" width="12.18" height="1.16" fill="#a12d2b"/>
<rect x="173.68" y="313.82" width="12.18" height="1.16" fill="#e49679"/>
<rect x="40.30" y="314.93" width="12.18" height="1.16" fill="#acc8e5"/>
<rect x="52.42" y="314.93" width="12.18" height="1.16" fill="#a0bfe1"/>
<rect x="64.55" y="314.93" width="12.18" height="1.16" fill="#a4c2e2"/>
<rect x="76.67" y="314.93" width="12.18" height="1.16" fill="#adc9e6"/>
<rect x="88.80" y="314.93" width="12.18" height="1.16" fill="#c1d7ec"/>
<rect x="100.92" y="314.93" width="12.18" height="1.16" fill="#a7c4e3"/>
<rect x="113.05" y="314.93" width="12.18" height="1.16" fill="#f6ece6"/>
<rect x="125.17" y="314.93" width="12.18" height="1.16" fill="#f6e6dc"/>
<rect x="137.30" y="314.93" width="12.18" height="1.16" fill="#f6e3d8"/>
<rect x="149.43" y="314.93" width="12.18" height="1.16" fill="#d77a62"/>
<rect x="161.55" y="314.93" width="12.18" height="1.16" fill="#d3735c"/>
<rect x="173.68" y="314.93" width="12.18" height="1.16" fill="#d5755e"/>
<rect x="40.30" y="316.04" width="12.18" height="1.16" fill="#b0cbe7"/>
<rect x="52.42" y="316.04" width="12.18" height="1.16" fill="#a5c3e3"/>
<rect x="64.55" y="316.04" width="12.18" height="1.16" fill="#a1c0e1"/>
<rect x="76.67" y="316.04" width="12.18" height="1.16" fill="#d8e4f1"/>
<rect x="88.80" y="316.04" width="12.18" height="1.16" fill="#e1eaf2"/>
<rect x="100.92" y="316.04" width="12.18" height="1.16" fill="#e4ecf3"/>
<rect x="113.05" y="316.04" width="12.18" height="1.16" fill="#f6e4d9"/>
<rect x="125.17" y="316.04" width="12.18" height="1.16" fill="#f3c7af"/>
<rect x="137.30" y="316.04" width="12.18" height="1.16" fill="#f1f3f5"/>
<rect x="149.43" y="316.04" width="12.18" height="1.16" fill="#d16f59"/>
<rect x="161.55" y="316.04" width="12.18" height="1.16" fill="#87141c"/>
<rect x="173.68" y="316.04" width="12.18" height="1.16" fill="#ebad92"/>
<rect x="40.30" y="317.15" width="12.18" height="1.16" fill="#b4cee8"/>
<rect x="52.42" y="317.15" width="12.18" height="1.16" fill="#b8d0ea"/>
<rect x="64.55" y="317.15" width="12.18" height="1.16" fill="#b2cce8"/>
<rect x="76.67" y="317.15" width="12.18" height="1.16" fill="#dce6f1"/>
<rect x="88.80" y="317.15" width="12.18" height="1.16" fill="#b2cde8"/>
<rect x="100.92" y="317.15" width="12.18" height="1.16" fill="#c3d8ed"/>
<rect x="113.05" y="317.15" width="12.18" height="1.16" fill="#f6f1ee"/>
<rect x="125.17" y="317.15" width="12.18" height="1.16" fill="#e4ebf3"/>
<rect x="137.30" y="317.15" width="12.18" height="1.16" fill="#e3ebf3"/>
<rect x="149.43" y="317.15" width="12.18" height="1.16" fill="#c55646"/>
<rect x="161.55" y="317.15" width="12.18" height="1.16" fill="#cb614f"/>
<rect x="173.68" y="317.15" width="12.18" height="1.16" fill="#c95d4c"/>
<rect x="40.30" y="318.27" width="12.18" height="1.16" fill="#adc8e6"/>
<rect x="52.42" y="318.27" width="12.18" height="1.16" fill="#bfd5ec"/>
<rect x="64.55" y="318.27" width="12.18" height="1.16" fill="#c6daed"/>
<rect x="76.67" y="318.27" width="12.18" height="1.16" fill="#cadcee"/>
<rect x="88.80" y="318.27" width="12.18" height="1.16" fill="#d0e0ef"/>
<rect x="100.92" y="318.27" width="12.18" height="1.16" fill="#dce7f1"/>
<rect x="113.05" y="318.27" width="12.18" height="1.16" fill="#ebeff4"/>
<rect x="125.17" y="318.27" width="12.18" height="1.16" fill="#f6e4da"/>
<rect x="137.30" y="318.27" width="12.18" height="1.16" fill="#f6d0b9"/>
<rect x="149.43" y="318.27" width="12.18" height="1.16" fill="#da8066"/>
<rect x="161.55" y="318.27" width="12.18" height="1.16" fill="#c24f41"/>
<rect x="173.68" y="318.27" width="12.18" height="1.16" fill="#d77b62"/>
<rect x="40.30" y="319.38" width="12.18" height="1.16" fill="#ccddee"/>
<rect x="52.42" y="319.38" width="12.18" height="1.16" fill="#c6daed"/>
<rect x="64.55" y="319.38" width="12.18" height="1.16" fill="#a8c5e4"/>
<rect x="76.67" y="319.38" width="12.18" height="1.16" fill="#e7edf3"/>
<rect x="88.80" y="319.38" width="12.18" height="1.16" fill="#dfe8f2"/>
<rect x="100.92" y="319.38" width="12.18" height="1.16" fill="#b7d0e9"/>
<rect x="113.05" y="319.38" width="12.18" height="1.16" fill="#f6e0d3"/>
<rect x="125.17" y="319.38" width="12.18" height="1.16" fill="#f6efeb"/>
<rect x="137.30" y="319.38" width="12.18" height="1.16" fill="#f6e5db"/>
<rect x="149.43" y="319.38" width="12.18" height="1.16" fill="#cf6a56"/>
<rect x="161.55" y="319.38" width="12.18" height="1.16" fill="#de886c"/>
<rect x="173.68" y="319.38" width="12.18" height="1.16" fill="#db8369"/>
<rect x="40.30" y="320.49" width="12.18" height="1.16" fill="#b8d1ea"/>
<rect x="52.42" y="320.49" width="12.18" height="1.16" fill="#cbdcee"/>
<rect x="64.55" y="320.49" width="12.18" height="1.16" fill="#dee8f2"/>
<rect x="76.67" y="320.49" width="12.18" height="1.16" fill="#d0e0ef"/>
<rect x="88.80" y="320.49" width="12.18" height="1.16" fill="#cddeef"/>
<rect x="100.92" y="320.49" width="12.18" height="1.16" fill="#eaeff4"/>
<rect x="113.05" y="320.49" width="12.18" height="1.16" fill="#e6ecf3"/>
<rect x="125.17" y="320.49" width="12.18" height="1.16" fill="#e2eaf2"/>
<rect x="137.30" y="320.49" width="12.18" height="1.16" fill="#f6f0ec"/>
<rect x="149.43" y="320.49" width="12.18" height="1.16" fill="#d06c57"/>
<rect x="161.55" y="320.49" width="12.18" height="1.16" fill="#da8066"/>
<rect x="173.68" y="320.49" width="12.18" height="1.16" fill="#e9a68a"/>
<rect x="40.30" y="321.61" width="12.18" height="1.16" fill="#b7d0ea"/>
<rect x="52.42" y="321.61" width="12.18" height="1.16" fill="#c2d7ed"/>
<rect x="64.55" y="321.61" width="12.18" height="1.16" fill="#b8d1ea"/>
<rect x="76.67" y="321.61" width="12.18" height="1.16" fill="#d0dfef"/>
<rect x="88.80" y="321.61" width="12.18" height="1.16" fill="#ccddee"/>
<rect x="100.92" y="321.61" width="12.18" height="1.16" fill="#e0e9f2"/>
<rect x="113.05" y="321.61" width="12.18" height="1.16" fill="#f6e3d7"/>
<rect x="125.17" y="321.61" width="12.18" height="1.16" fill="#e7edf3"/>
<rect x="137.30" y="321.61" width="12.18" height="1.16" fill="#f6ece6"/>
<rect x="149.43" y="321.61" width="12.18" height="1.16" fill="#dd886c"/>
<rect x="161.55" y="321.61" width="12.18" height="1.16" fill="#c35243"/>
<rect x="173.68" y="321.61" width="12.18" height="1.16" fill="#ca604e"/>
<rect x="40.30" y="322.72" width="12.18" height="1.16" fill="#b4cde8"/>
<rect x="52.42" y="322.72" width="12.18" height="1.16" fill="#c6daed"/>
<rect x="64.55" y="322.72" width="12.18" height="1.16" fill="#bcd3eb"/>
<rect x="76.67" y="322.72" width="12.18" height="1.16" fill="#d1e0ef"/>
<rect x="88.80" y="322.72" width="12.18" height="1.16" fill="#bad2eb"/>
<rect x="100.92" y="322.72" width="12.18" height="1.16" fill="#abc7e5"/>
<rect x="113.05" y="322.72" width="12.18" height="1.16" fill="#f6f2f0"/>
<rect x="125.17" y="322.72" width="12.18" height="1.16" fill="#f6eeea"/>
<rect x="137.30" y="322.72" width="12.18" height="1.16" fill="#edf1f4"/>
<rect x="149.43" y="322.72" width="12.18" height="1.16" fill="#c35042"/>
<rect x="161.55" y="322.72" width="12.18" height="1.16" fill="#c65848"/>
<rect x="173.68" y="322.72" width="12.18" height="1.16" fill="#dc856a"/>
<rect x="40.30" y="323.83" width="12.18" height="1.16" fill="#cfdfef"/>
<rect x="52.42" y="323.83" width="12.18" height="1.16" fill="#b9d2ea"/>
<rect x="64.55" y="323.83" width="12.18" height="1.16" fill="#c1d7ed"/>
<rect x="76.67" y="323.83" width="12.18" height="1.16" fill="#b6cfe9"/>
<rect x="88.80" y="323.83" width="12.18" height="1.16" fill="#c5d9ed"/>
<rect x="100.92" y="323.83" width="12.18" height="1.16" fill="#d9e5f1"/>
<rect x="113.05" y="323.83" width="12.18" height="1.16" fill="#e5ecf3"/>
<rect x="125.17" y="323.83" width="12.18" height="1.16" fill="#f5ceb7"/>
<rect x="137.30" y="323.83" width="12.18" height="1.16" fill="#e6ecf3"/>
<rect x="149.43" y="323.83" width="12.18" height="1.16" fill="#d16e58"/>
<rect x="161.55" y="323.83" width="12.18" height="1.16" fill="#c14d3f"/>
<rect x="173.68" y="323.83" width="12.18" height="1.16" fill="#c55646"/>
<rect x="40.30" y="324.95" width="12.18" height="1.16" fill="#bbd3eb"/>
<rect x="52.42" y="324.95" width="12.18" height="1.16" fill="#d4e2f0"/>
<rect x="64.55" y="324.95" width="12.18" height="1.16" fill="#adc9e6"/>
<rect x="76.67" y="324.95" width="12.18" height="1.16" fill="#c0d6ec"/>
<rect x="88.80" y="324.95" width="12.18" height="1.16" fill="#cadcee"/>
<rect x="100.92" y="324.95" width="12.18" height="1.16" fill="#c1d7ed"/>
<rect x="113.05" y="324.95" width="12.18" height="1.16" fill="#f6d3bd"/>
<rect x="125.17" y="324.95" width="12.18" height="1.16" fill="#e3ebf3"/>
<rect x="137.30" y="324.95" width="12.18" height="1.16" fill="#f6f5f4"/>
<rect x="149.43" y="324.95" width="12.18" height="1.16" fill="#f4c9b1"/>
<rect x="161.55" y="324.95" width="12.18" height="1.16" fill="#aa3631"/>
<rect x="173.68" y="324.95" width="12.18" height="1.16" fill="#d67860"/>
<rect x="40.30" y="326.06" width="12.18" height="1.16" fill="#bfd6ec"/>
<rect x="52.42" y="326.06" width="12.18" height="1.16" fill="#b2cce8"/>
<rect x="64.55" y="326.06" width="12.18" height="1.16" fill="#b6cfe9"/>
<rect x="76.67" y="326.06" width="12.18" height="1.16" fill="#ebf0f4"/>
<rect x="88.80" y="326.06" width="12.18" height="1.16" fill="#e3ebf3"/>
<rect x="100.92" y="326.06" width="12.18" height="1.16" fill="#e3ebf3"/>
<rect x="113.05" y="326.06" width="12.18" height="1.16" fill="#f6f5f5"/>
<rect x="125.17" y="326.06" width="12.18" height="1.16" fill="#f6e3d7"/>
<rect x="137.30" y="326.06" width="12.18" height="1.16" fill="#f6eae3"/>
<rect x="149.43" y="326.06" width="12.18" height="1.16" fill="#d5755e"/>
<rect x="161.55" y="326.06" width="12.18" height="1.16" fill="#b74339"/>
<rect x="173.68" y="326.06" width="12.18" height="1.16" fill="#d87d63"/>
<rect x="40.30" y="327.17" width="12.18" height="1.16" fill="#c3d8ed"/>
<rect x="52.42" y="327.17" width="12.18" height="1.16" fill="#b0cbe7"/>
<rect x="64.55" y="327.17" width="12.18" height="1.16" fill="#8eb2da"/>
<rect x="76.67" y="327.17" width="12.18" height="1.16" fill="#f3f4f6"/>
<rect x="88.80" y="327.17" width="12.18" height="1.16" fill="#e1e9f2"/>
<rect x="100.92" y="327.17" width="12.18" height="1.16" fill="#e9eef4"/>
<rect x="113.05" y="327.17" width="12.18" height="1.16" fill="#f6ece6"/>
<rect x="125.17" y="327.17" width="12.18" height="1.16" fill="#f6f2ef"/>
<rect x="137.30" y="327.17" width="12.18" height="1.16" fill="#dae5f1"/>
<rect x="149.43" y="327.17" width="12.18" height="1.16" fill="#c85b4a"/>
<rect x="161.55" y="327.17" width="12.18" height="1.16" fill="#c85c4b"/>
<rect x="173.68" y="327.17" width="12.18" height="1.16" fill="#de896d"/>
<rect x="40.30" y="328.29" width="12.18" height="1.16" fill="#c1d7ec"/>
<rect x="52.42" y="328.29" width="12.18" height="1.16" fill="#94b6dc"/>
<rect x="64.55" y="328.29" width="12.18" height="1.16" fill="#b3cde8"/>
<rect x="76.67" y="328.29" width="12.18" height="1.16" fill="#d9e5f1"/>
<rect x="88.80" y="328.29" width="12.18" height="1.16" fill="#e3ebf3"/>
<rect x="100.92" y="328.29" width="12.18" height="1.16" fill="#cadcee"/>
<rect x="113.05" y="328.29" width="12.18" height="1.16" fill="#f6f0ed"/>
<rect x="125.17" y="328.29" width="12.18" height="1.16" fill="#f6d4bf"/>
<rect x="137.30" y="328.29" width="12.18" height="1.16" fill="#f6f4f2"/>
<rect x="149.43" y="328.29" width="12.18" height="1.16" fill="#c85c4b"/>
<rect x="161.55" y="328.29" width="12.18" height="1.16" fill="#9f2b2a"/>
<rect x="173.68" y="328.29" width="12.18" height="1.16" fill="#d67860"/>
<rect x="40.30" y="329.40" width="12.18" height="1.16" fill="#cbdcee"/>
<rect x="52.42" y="329.40" width="12.18" height="1.16" fill="#d4e2f0"/>
<rect x="64.55" y="329.40" width="12.18" height="1.16" fill="#e6edf3"/>
<rect x="76.67" y="329.40" width="12.18" height="1.16" fill="#bfd5ec"/>
<rect x="88.80" y="329.40" width="12.18" height="1.16" fill="#c0d6ec"/>
<rect x="100.92" y="329.40" width="12.18" height="1.16" fill="#d0dfef"/>
<rect x="113.05" y="329.40" width="12.18" height="1.16" fill="#e3ebf3"/>
<rect x="125.17" y="329.40" width="12.18" height="1.16" fill="#f6e9e1"/>
<rect x="137.30" y="329.40" width="12.18" height="1.16" fill="#f6e7df"/>
<rect x="149.43" y="329.40" width="12.18" height="1.16" fill="#d67760"/>
<rect x="161.55" y="329.40" width="12.18" height="1.16" fill="#b9443a"/>
<rect x="173.68" y="329.40" width="12.18" height="1.16" fill="#e8a488"/>
<rect x="40.30" y="330.51" width="12.18" height="1.16" fill="#bfd6ec"/>
<rect x="52.42" y="330.51" width="12.18" height="1.16" fill="#ccddee"/>
<rect x="64.55" y="330.51" width="12.18" height="1.16" fill="#c0d6ec"/>
<rect x="76.67" y="330.51" width="12.18" height="1.16" fill="#bad2eb"/>
<rect x="88.80" y="330.51" width="12.18" height="1.16" fill="#c9dbee"/>
<rect x="100.92" y="330.51" width="12.18" height="1.16" fill="#d8e4f1"/>
<rect x="113.05" y="330.51" width="12.18" height="1.16" fill="#f6f6f6"/>
<rect x="125.17" y="330.51" width="12.18" height="1.16" fill="#f6f0ed"/>
<rect x="137.30" y="330.51" width="12.18" height="1.16" fill="#f6e2d5"/>
<rect x="149.43" y="330.51" width="12.18" height="1.16" fill="#d06c57"/>
<rect x="161.55" y="330.51" width="12.18" height="1.16" fill="#da8066"/>
<rect x="173.68" y="330.51" width="12.18" height="1.16" fill="#a93530"/>
<rect x="40.30" y="331.62" width="12.18" height="1.16" fill="#e0e9f2"/>
<rect x="52.42" y="331.62" width="12.18" height="1.16" fill="#d6e3f0"/>
<rect x="64.55" y="331.62" width="12.18" height="1.16" fill="#c8dbee"/>
<rect x="76.67" y="331.62" width="12.18" height="1.16" fill="#aac6e4"/>
<rect x="88.80" y="331.62" width="12.18" height="1.16" fill="#bfd5ec"/>
<rect x="100.92" y="331.62" width="12.18" height="1.16" fill="#ccddef"/>
<rect x="113.05" y="331.62" width="12.18" height="1.16" fill="#e0e9f2"/>
<rect x="125.17" y="331.62" width="12.18" height="1.16" fill="#e2eaf2"/>
<rect x="137.30" y="331.62" width="12.18" height="1.16" fill="#f6f3f1"/>
<rect x="149.43" y="331.62" width="12.18" height="1.16" fill="#e8a387"/>
<rect x="161.55" y="331.62" width="12.18" height="1.16" fill="#c55546"/>
<rect x="173.68" y="331.62" width="12.18" height="1.16" fill="#d97e64"/>
<rect x="40.30" y="332.74" width="12.18" height="1.16" fill="#c1d7ed"/>
<rect x="52.42" y="332.74" width="12.18" height="1.16" fill="#b0cbe7"/>
<rect x="64.55" y="332.74" width="12.18" height="1.16" fill="#bcd4eb"/>
<rect x="76.67" y="332.74" width="12.18" height="1.16" fill="#d3e2f0"/>
<rect x="88.80" y="332.74" width="12.18" height="1.16" fill="#dae5f1"/>
<rect x="100.92" y="332.74" width="12.18" height="1.16" fill="#e1eaf2"/>
<rect x="113.05" y="332.74" width="12.18" height="1.16" fill="#e0e9f2"/>
<rect x="125.17" y="332.74" width="12.18" height="1.16" fill="#e9eff4"/>
<rect x="137.30" y="332.74" width="12.18" height="1.16" fill="#b5cee9"/>
<rect x="149.43" y="332.74" width="12.18" height="1.16" fill="#b03c35"/>
<rect x="161.55" y="332.74" width="12.18" height="1.16" fill="#d06d58"/>
<rect x="173.68" y="332.74" width="12.18" height="1.16" fill="#d77a62"/>
<rect x="40.30" y="333.85" width="12.18" height="1.16" fill="#a3c1e2"/>
<rect x="52.42" y="333.85" width="12.18" height="1.16" fill="#c1d7ed"/>
<rect x="64.55" y="333.85" width="12.18" height="1.16" fill="#cedfef"/>
<rect x="76.67" y="333.85" width="12.18" height="1.16" fill="#a2c0e2"/>
<rect x="88.80" y="333.85" width="12.18" height="1.16" fill="#cedfef"/>
<rect x="100.92" y="333.85" width="12.18" height="1.16" fill="#c6daed"/>
<rect x="113.05" y="333.85" width="12.18" height="1.16" fill="#f6e7df"/>
<rect x="125.17" y="333.85" width="12.18" height="1.16" fill="#f6e8e0"/>
<rect x="137.30" y="333.85" width="12.18" height="1.16" fill="#f6dac8"/>
<rect x="149.43" y="333.85" width="12.18" height="1.16" fill="#d4755e"/>
<rect x="161.55" y="333.85" width="12.18" height="1.16" fill="#88151d"/>
<rect x="173.68" y="333.85" width="12.18" height="1.16" fill="#db8268"/>
<rect x="40.30" y="334.96" width="12.18" height="1.16" fill="#cbddee"/>
<rect x="52.42" y="334.96" width="12.18" height="1.16" fill="#bcd4eb"/>
<rect x="64.55" y="334.96" width="12.18" height="1.16" fill="#aac7e5"/>
<rect x="76.67" y="334.96" width="12.18" height="1.16" fill="#bcd3eb"/>
<rect x="88.80" y="334.96" width="12.18" height="1.16" fill="#cadcee"/>
<rect x="100.92" y="334.96" width="12.18" height="1.16" fill="#d5e3f0"/>
<rect x="113.05" y="334.96" width="12.18" height="1.16" fill="#f6ece6"/>
<rect x="125.17" y="334.96" width="12.18" height="1.16" fill="#f6eae3"/>
<rect x="137.30" y="334.96" width="12.18" height="1.16" fill="#f6f4f2"/>
<rect x="149.43" y="334.96" width="12.18" height="1.16" fill="#ab3731"/>
<rect x="161.55" y="334.96" width="12.18" height="1.16" fill="#982426"/>
<rect x="173.68" y="334.96" width="12.18" height="1.16" fill="#d3735c"/>
<rect x="40.30" y="336.08" width="12.18" height="1.16" fill="#c2d7ed"/>
<rect x="52.42" y="336.08" width="12.18" height="1.16" fill="#c9dcee"/>
<rect x="64.55" y="336.08" width="12.18" height="1.16" fill="#c6d9ed"/>
<rect x="76.67" y="336.08" width="12.18" height="1.16" fill="#bed5ec"/>
<rect x="88.80" y="336.08" width="12.18" height="1.16" fill="#d6e3f0"/>
<rect x="100.92" y="336.08" width="12.18" height="1.16" fill="#d2e1f0"/>
<rect x="113.05" y="336.08" width="12.18" height="1.16" fill="#e0e9f2"/>
<rect x="125.17" y="336.08" width="12.18" height="1.16" fill="#f6e7de"/>
<rect x="137.30" y="336.08" width="12.18" height="1.16" fill="#f2f4f5"/>
<rect x="149.43" y="336.08" width="12.18" height="1.16" fill="#d97f65"/>
<rect x="161.55" y="336.08" width="12.18" height="1.16" fill="#8f1c21"/>
<rect x="173.68" y="336.08" width="12.18" height="1.16" fill="#c45344"/>
<rect x="40.30" y="337.19" width="12.18" height="1.16" fill="#adc9e6"/>
<rect x="52.42" y="337.19" width="12.18" height="1.16" fill="#c4d8ed"/>
<rect x="64.55" y="337.19" width="12.18" height="1.16" fill="#a4c2e2"/>
<rect x="76.67" y="337.19" width="12.18" height="1.16" fill="#dfe8f2"/>
<rect x="88.80" y="337.19" width="12.18" height="1.16" fill="#f3f4f5"/>
<rect x="100.92" y="337.19" width="12.18" height="1.16" fill="#aac6e4"/>
<rect x="113.05" y="337.19" width="12.18" height="1.16" fill="#e9eef4"/>
<rect x="125.17" y="337.19" width="12.18" height="1.16" fill="#f6efeb"/>
<rect x="137.30" y="337.19" width="12.18" height="1.16" fill="#f1f3f5"/>
<rect x="149.43" y="337.19" width="12.18" height="1.16" fill="#ce6954"/>
<rect x="161.55" y="337.19" width="12.18" height="1.16" fill="#87141c"/>
<rect x="173.68" y="337.19" width="12.18" height="1.16" fill="#c75948"/>
<rect x="40.30" y="338.30" width="12.18" height="1.16" fill="#a1c0e1"/>
<rect x="52.42" y="338.30" width="12.18" height="1.16" fill="#a7c4e4"/>
<rect x="64.55" y="338.30" width="12.18" height="1.16" fill="#bcd3eb"/>
<rect x="76.67" y="338.30" width="12.18" height="1.16" fill="#d8e4f1"/>
<rect x="88.80" y="338.30" width="12.18" height="1.16" fill="#c2d7ed"/>
<rect x="100.92" y="338.30" width="12.18" height="1.16" fill="#bed5ec"/>
<rect x="113.05" y="338.30" width="12.18" height="1.16" fill="#f6e9e1"/>
<rect x="125.17" y="338.30" width="12.18" height="1.16" fill="#f6f0ed"/>
<rect x="137.30" y="338.30" width="12.18" height="1.16" fill="#d8e4f1"/>
<rect x="149.43" y="338.30" width="12.18" height="1.16" fill="#bc483c"/>
<rect x="161.55" y="338.30" width="12.18" height="1.16" fill="#87141c"/>
<rect x="173.68" y="338.30" width="12.18" height="1.16" fill="#c45445"/>
<rect x="40.30" y="339.42" width="12.18" height="1.16" fill="#b5cee9"/>
<rect x="52.42" y="339.42" width="12.18" height="1.16" fill="#729cce"/>
<rect x="64.55" y="339.42" width="12.18" height="1.16" fill="#a1c0e1"/>
<rect x="76.67" y="339.42" width="12.18" height="1.16" fill="#d3e2f0"/>
<rect x="88.80" y="339.42" width="12.18" height="1.16" fill="#f1f3f5"/>
<rect x="100.92" y="339.42" width="12.18" height="1.16" fill="#bed5ec"/>
<rect x="113.05" y="339.42" width="12.18" height="1.16" fill="#f6f2f0"/>
<rect x="125.17" y="339.42" width="12.18" height="1.16" fill="#f6ece6"/>
<rect x="137.30" y="339.42" width="12.18" height="1.16" fill="#f6decf"/>
<rect x="149.43" y="339.42" width="12.18" height="1.16" fill="#d4735d"/>
<rect x="161.55" y="339.42" width="12.18" height="1.16" fill="#87141c"/>
<rect x="173.68" y="339.42" width="12.18" height="1.16" fill="#dc856a"/>
<rect x="40.30" y="340.53" width="12.18" height="1.16" fill="#a4c2e2"/>
<rect x="52.42" y="340.53" width="12.18" height="1.16" fill="#cbdcee"/>
<rect x="64.55" y="340.53" width="12.18" height="1.16" fill="#bfd6ec"/>
<rect x="76.67" y="340.53" width="12.18" height="1.16" fill="#c2d7ed"/>
<rect x="88.80" y="340.53" width="12.18" height="1.16" fill="#cddeef"/>
<rect x="100.92" y="340.53" width="12.18" height="1.16" fill="#d8e5f1"/>
<rect x="113.05" y="340.53" width="12.18" height="1.16" fill="#e5ecf3"/>
<rect x="125.17" y="340.53" width="12.18" height="1.16" fill="#f6f3f1"/>
<rect x="137.30" y="340.53" width="12.18" height="1.16" fill="#f6e8e0"/>
<rect x="149.43" y="340.53" width="12.18" height="1.16" fill="#cd6652"/>
<rect x="161.55" y="340.53" width="12.18" height="1.16" fill="#ad3832"/>
<rect x="173.68" y="340.53" width="12.18" height="1.16" fill="#efb9a0"/>
<rect x="40.30" y="341.64" width="12.18" height="1.16" fill="#cddeef"/>
<rect x="52.42" y="341.64" width="12.18" height="1.16" fill="#bdd4ec"/>
<rect x="64.55" y="341.64" width="12.18" height="1.16" fill="#b2cce8"/>
<rect x="76.67" y="341.64" width="12.18" height="1.16" fill="#c7daee"/>
<rect x="88.80" y="341.64" width="12.18" height="1.16" fill="#c9dcee"/>
<rect x="100.92" y="341.64" width="12.18" height="1.16" fill="#c9dbee"/>
<rect x="113.05" y="341.64" width="12.18" height="1.16" fill="#dfe9f2"/>
<rect x="125.17" y="341.64" width="12.18" height="1.16" fill="#f6e7df"/>
<rect x="137.30" y="341.64" width="12.18" height="1.16" fill="#dbe6f1"/>
<rect x="149.43" y="341.64" width="12.18" height="1.16" fill="#c95d4b"/>
<rect x="161.55" y="341.64" width="12.18" height="1.16" fill="#ba453a"/>
<rect x="173.68" y="341.64" width="12.18" height="1.16" fill="#d16d58"/>
<rect x="40.30" y="342.76" width="12.18" height="1.16" fill="#ccdeef"/>
<rect x="52.42" y="342.76" width="12.18" height="1.16" fill="#a7c4e3"/>
<rect x="64.55" y="342.76" width="12.18" height="1.16" fill="#bbd3eb"/>
<rect x="76.67" y="342.76" width="12.18" height="1.16" fill="#d3e1f0"/>
<rect x="88.80" y="342.76" width="12.18" height="1.16" fill="#cadcee"/>
<rect x="100.92" y="342.76" width="12.18" height="1.16" fill="#d2e1f0"/>
<rect x="113.05" y="342.76" width="12.18" height="1.16" fill="#f6eae3"/>
<rect x="125.17" y="342.76" width="12.18" height="1.16" fill="#f6eae2"/>
<rect x="137.30" y="342.76" width="12.18" height="1.16" fill="#f6e8df"/>
<rect x="149.43" y="342.76" width="12.18" height="1.16" fill="#c85b4a"/>
<rect x="161.55" y="342.76" width="12.18" height="1.16" fill="#a5312e"/>
<rect x="173.68" y="342.76" width="12.18" height="1.16" fill="#d4755e"/>
<rect x="40.30" y="343.87" width="12.18" height="1.16" fill="#b5cee9"/>
<rect x="52.42" y="343.87" width="12.18" height="1.16" fill="#b4cde8"/>
<rect x="64.55" y="343.87" width="12.18" height="1.16" fill="#a2c1e2"/>
<rect x="76.67" y="343.87" width="12.18" height="1.16" fill="#ccddee"/>
<rect x="88.80" y="343.87" width="12.18" height="1.16" fill="#d3e2f0"/>
<rect x="100.92" y="343.87" width="12.18" height="1.16" fill="#cadcee"/>
<rect x="113.05" y="343.87" width="12.18" height="1.16" fill="#f6d1ba"/>
<rect x="125.17" y="343.87" width="12.18" height="1.16" fill="#b9d1ea"/>
<rect x="137.30" y="343.87" width="12.18" height="1.16" fill="#f5f5f6"/>
<rect x="149.43" y="343.87" width="12.18" height="1.16" fill="#eeb59c"/>
<rect x="161.55" y="343.87" width="12.18" height="1.16" fill="#952124"/>
<rect x="173.68" y="343.87" width="12.18" height="1.16" fill="#af3b34"/>
<rect x="40.30" y="344.98" width="12.18" height="1.16" fill="#acc8e5"/>
<rect x="52.42" y="344.98" width="12.18" height="1.16" fill="#739dcf"/>
<rect x="64.55" y="344.98" width="12.18" height="1.16" fill="#aac7e5"/>
<rect x="76.67" y="344.98" width="12.18" height="1.16" fill="#d5e3f0"/>
<rect x="88.80" y="344.98" width="12.18" height="1.16" fill="#d0e0ef"/>
<rect x="100.92" y="344.98" width="12.18" height="1.16" fill="#c7dbee"/>
<rect x="113.05" y="344.98" width="12.18" height="1.16" fill="#f6e4da"/>
<rect x="125.17" y="344.98" width="12.18" height="1.16" fill="#f4f5f6"/>
<rect x="137.30" y="344.98" width="12.18" height="1.16" fill="#f6ebe5"/>
<rect x="149.43" y="344.98" width="12.18" height="1.16" fill="#da8167"/>
<rect x="161.55" y="344.98" width="12.18" height="1.16" fill="#cf6a55"/>
<rect x="173.68" y="344.98" width="12.18" height="1.16" fill="#d77961"/>
<rect x="40.30" y="346.10" width="12.18" height="1.16" fill="#c9dbee"/>
<rect x="52.42" y="346.10" width="12.18" height="1.16" fill="#bcd3eb"/>
<rect x="64.55" y="346.10" width="12.18" height="1.16" fill="#ccddef"/>
<rect x="76.67" y="346.10" width="12.18" height="1.16" fill="#f3f4f5"/>
<rect x="88.80" y="346.10" width="12.18" height="1.16" fill="#c8dbee"/>
<rect x="100.92" y="346.10" width="12.18" height="1.16" fill="#b8d1ea"/>
<rect x="113.05" y="346.10" width="12.18" height="1.16" fill="#f6e9e1"/>
<rect x="125.17" y="346.10" width="12.18" height="1.16" fill="#f6decf"/>
<rect x="137.30" y="346.10" width="12.18" height="1.16" fill="#f6e8e0"/>
<rect x="149.43" y="346.10" width="12.18" height="1.16" fill="#c55546"/>
<rect x="161.55" y="346.10" width="12.18" height="1.16" fill="#ae3933"/>
<rect x="173.68" y="346.10" width="12.18" height="1.16" fill="#df8b6f"/>
<rect x="40.30" y="347.21" width="12.18" height="1.16" fill="#eaeff4"/>
<rect x="52.42" y="347.21" width="12.18" height="1.16" fill="#dce7f1"/>
<rect x="64.55" y="347.21" width="12.18" height="1.16" fill="#b4cee8"/>
<rect x="76.67" y="347.21" width="12.18" height="1.16" fill="#bcd3eb"/>
<rect x="88.80" y="347.21" width="12.18" height="1.16" fill="#cadcee"/>
<rect x="100.92" y="347.21" width="12.18" height="1.16" fill="#bbd3eb"/>
<rect x="113.05" y="347.21" width="12.18" height="1.16" fill="#f6e7de"/>
<rect x="125.17" y="347.21" width="12.18" height="1.16" fill="#e9eff4"/>
<rect x="137.30" y="347.21" width="12.18" height="1.16" fill="#d1e0ef"/>
<rect x="149.43" y="347.21" width="12.18" height="1.16" fill="#c35142"/>
<rect x="161.55" y="347.21" width="12.18" height="1.16" fill="#b64138"/>
<rect x="173.68" y="347.21" width="12.18" height="1.16" fill="#d77961"/>
<rect x="40.30" y="348.32" width="12.18" height="1.16" fill="#9cbcdf"/>
<rect x="52.42" y="348.32" width="12.18" height="1.16" fill="#8fb3da"/>
<rect x="64.55" y="348.32" width="12.18" height="1.16" fill="#a0bfe1"/>
<rect x="76.67" y="348.32" width="12.18" height="1.16" fill="#c1d7ed"/>
<rect x="88.80" y="348.32" width="12.18" height="1.16" fill="#ccddee"/>
<rect x="100.92" y="348.32" width="12.18" height="1.16" fill="#cddeef"/>
<rect x="113.05" y="348.32" width="12.18" height="1.16" fill="#f6e7de"/>
<rect x="125.17" y="348.32" width="12.18" height="1.16" fill="#f6eeea"/>
<rect x="137.30" y="348.32" width="12.18" height="1.16" fill="#ebeff4"/>
<rect x="149.43" y="348.32" width="12.18" height="1.16" fill="#df8c6f"/>
<rect x="161.55" y="348.32" width="12.18" height="1.16" fill="#cf6a55"/>
<rect x="173.68" y="348.32" width="12.18" height="1.16" fill="#db8268"/>
<rect x="40.30" y="349.43" width="12.18" height="1.16" fill="#d0e0ef"/>
<rect x="52.42" y="349.43" width="12.18" height="1.16" fill="#bdd4ec"/>
<rect x="64.55" y="349.43" width="12.18" height="1.16" fill="#c7dbee"/>
<rect x="76.67" y="349.43" width="12.18" height="1.16" fill="#dce7f1"/>
<rect x="88.80" y="349.43" width="12.18" height="1.16" fill="#d7e4f0"/>
<rect x="100.92" y="349.43" width="12.18" height="1.16" fill="#e7edf3"/>
<rect x="113.05" y="349.43" width="12.18" height="1.16" fill="#ecf0f4"/>
<rect x="125.17" y="349.43" width="12.18" height="1.16" fill="#f2f3f5"/>
<rect x="137.30" y="349.43" width="12.18" height="1.16" fill="#e7edf3"/>
<rect x="149.43" y="349.43" width="12.18" height="1.16" fill="#de896d"/>
<rect x="161.55" y="349.43" width="12.18" height="1.16" fill="#87141c"/>
<rect x="173.68" y="349.43" width="12.18" height="1.16" fill="#b84339"/>
<rect x="40.30" y="350.55" width="12.18" height="1.16" fill="#d0dfef"/>
<rect x="52.42" y="350.55" width="12.18" height="1.16" fill="#a0bfe1"/>
<rect x="64.55" y="350.55" width="12.18" height="1.16" fill="#acc8e5"/>
<rect x="76.67" y="350.55" width="12.18" height="1.16" fill="#dae6f1"/>
<rect x="88.80" y="350.55" width="12.18" height="1.16" fill="#e9eef4"/>
<rect x="100.92" y="350.55" width="12.18" height="1.16" fill="#d5e3f0"/>
<rect x="113.05" y="350.55" width="12.18" height="1.16" fill="#f1f3f5"/>
<rect x="125.17" y="350.55" width="12.18" height="1.16" fill="#f6f1ee"/>
<rect x="137.30" y="350.55" width="12.18" height="1.16" fill="#f6f6f6"/>
<rect x="149.43" y="350.55" width="12.18" height="1.16" fill="#d97f66"/>
<rect x="161.55" y="350.55" width="12.18" height="1.16" fill="#87141c"/>
<rect x="173.68" y="350.55" width="12.18" height="1.16" fill="#d97f66"/>
<rect x="40.30" y="351.66" width="12.18" height="1.16" fill="#b3cde8"/>
<rect x="52.42" y="351.66" width="12.18" height="1.16" fill="#bfd5ec"/>
<rect x="64.55" y="351.66" width="12.18" height="1.16" fill="#d0e0ef"/>
<rect x="76.67" y="351.66" width="12.18" height="1.16" fill="#ebf0f4"/>
<rect x="88.80" y="351.66" width="12.18" height="1.16" fill="#f5f5f6"/>
<rect x="100.92" y="351.66" width="12.18" height="1.16" fill="#e4ebf3"/>
<rect x="113.05" y="351.66" width="12.18" height="1.16" fill="#f6e2d6"/>
<rect x="125.17" y="351.66" width="12.18" height="1.16" fill="#f6eeea"/>
<rect x="137.30" y="351.66" width="12.18" height="1.16" fill="#f6e4d9"/>
<rect x="149.43" y="351.66" width="12.18" height="1.16" fill="#b9443a"/>
<rect x="161.55" y="351.66" width="12.18" height="1.16" fill="#bf4a3d"/>
<rect x="173.68" y="351.66" width="12.18" height="1.16" fill="#d4735c"/>
<rect x="40.30" y="352.77" width="12.18" height="1.16" fill="#dde7f2"/>
<rect x="52.42" y="352.77" width="12.18" height="1.16" fill="#c4d8ed"/>
<rect x="64.55" y="352.77" width="12.18" height="1.16" fill="#bfd6ec"/>
<rect x="76.67" y="352.77" width="12.18" height="1.16" fill="#b0cbe7"/>
<rect x="88.80" y="352.77" width="12.18" height="1.16" fill="#e6ecf3"/>
<rect x="100.92" y="352.77" width="12.18" height="1.16" fill="#cbddee"/>
<rect x="113.05" y="352.77" width="12.18" height="1.16" fill="#f6f5f4"/>
<rect x="125.17" y="352.77" width="12.18" height="1.16" fill="#dde7f2"/>
<rect x="137.30" y="352.77" width="12.18" height="1.16" fill="#f6f5f4"/>
<rect x="149.43" y="352.77" width="12.18" height="1.16" fill="#dd876b"/>
<rect x="161.55" y="352.77" width="12.18" height="1.16" fill="#952124"/>
<rect x="173.68" y="352.77" width="12.18" height="1.16" fill="#c95e4c"/>
<rect x="40.30" y="353.89" width="12.18" height="1.16" fill="#b2cde8"/>
<rect x="52.42" y="353.89" width="12.18" height="1.16" fill="#96b8dd"/>
<rect x="64.55" y="353.89" width="12.18" height="1.16" fill="#b4cee8"/>
<rect x="76.67" y="353.89" width="12.18" height="1.16" fill="#c6daed"/>
<rect x="88.80" y="353.89" width="12.18" height="1.16" fill="#c3d8ed"/>
<rect x="100.92" y="353.89" width="12.18" height="1.16" fill="#ccddef"/>
<rect x="113.05" y="353.89" width="12.18" height="1.16" fill="#f6f3f0"/>
<rect x="125.17" y="353.89" width="12.18" height="1.16" fill="#d7e4f0"/>
<rect x="137.30" y="353.89" width="12.18" height="1.16" fill="#f1f3f5"/>
<rect x="149.43" y="353.89" width="12.18" height="1.16" fill="#ac3732"/>
<rect x="161.55" y="353.89" width="12.18" height="1.16" fill="#87141c"/>
<rect x="173.68" y="353.89" width="12.18" height="1.16" fill="#cf6a55"/>
<rect x="31.06" y="355.00" width="7.00" height="27.00" fill="#a8102f"/>
<text x="28.80" y="371.92" font-size="7.0" text-anchor="end" textLength="20.8" lengthAdjust="spacingAndGlyphs" fill="#333">cluster 3</text>
<rect x="40.30" y="355.00" width="12.18" height="1.13" fill="#d5765f"/>
<rect x="52.42" y="355.00" width="12.18" height="1.13" fill="#ebad92"/>
<rect x="64.55" y="355.00" width="12.18" height="1.13" fill="#cd6653"/>
<rect x="76.67" y="355.00" width="12.18" height="1.13" fill="#dbe6f1"/>
<rect x="88.80" y="355.00" width="12.18" height="1.13" fill="#f1f3f5"/>
<rect x="100.92" y="355.00" width="12.18" height="1.13" fill="#dfe8f2"/>
<rect x="113.05" y="355.00" width="12.18" height="1.13" fill="#f6f0ec"/>
<rect x="125.17" y="355.00" width="12.18" height="1.13" fill="#f5cdb5"/>
<rect x="137.30" y="355.00" width="12.18" height="1.13" fill="#e1eaf2"/>
<rect x="149.43" y="355.00" width="12.18" height="1.13" fill="#a4c2e2"/>
<rect x="161.55" y="355.00" width="12.18" height="1.13" fill="#9fbee0"/>
<rect x="173.68" y="355.00" width="12.18" height="1.13" fill="#8db1da"/>
<rect x="40.30" y="356.08" width="12.18" height="1.13" fill="#edb49a"/>
<rect x="52.42" y="356.08" width="12.18" height="1.13" fill="#cf6955"/>
<rect x="64.55" y="356.08" width="12.18" height="1.13" fill="#e39476"/>
<rect x="76.67" y="356.08" width="12.18" height="1.13" fill="#e6edf3"/>
<rect x="88.80" y="356.08" width="12.18" height="1.13" fill="#f1f3f5"/>
<rect x="100.92" y="356.08" width="12.18" height="1.13" fill="#f6f0ec"/>
<rect x="113.05" y="356.08" width="12.18" height="1.13" fill="#f6d6c2"/>
<rect x="125.17" y="356.08" width="12.18" height="1.13" fill="#f6e5da"/>
<rect x="137.30" y="356.08" width="12.18" height="1.13" fill="#f6f4f2"/>
<rect x="149.43" y="356.08" width="12.18" height="1.13" fill="#9ebee0"/>
<rect x="161.55" y="356.08" width="12.18" height="1.13" fill="#bcd3eb"/>
<rect x="173.68" y="356.08" width="12.18" height="1.13" fill="#b5cee9"/>
<rect x="40.30" y="357.16" width="12.18" height="1.13" fill="#de886c"/>
<rect x="52.42" y="357.16" width="12.18" height="1.13" fill="#e39375"/>
<rect x="64.55" y="357.16" width="12.18" height="1.13" fill="#d77b62"/>
<rect x="76.67" y="357.16" width="12.18" height="1.13" fill="#d6e3f0"/>
<rect x="88.80" y="357.16" width="12.18" height="1.13" fill="#f6f0ed"/>
<rect x="100.92" y="357.16" width="12.18" height="1.13" fill="#f4f5f6"/>
<rect x="113.05" y="357.16" width="12.18" height="1.13" fill="#e0e9f2"/>
<rect x="125.17" y="357.16" width="12.18" height="1.13" fill="#f6d9c8"/>
<rect x="137.30" y="357.16" width="12.18" height="1.13" fill="#f6e2d5"/>
<rect x="149.43" y="357.16" width="12.18" height="1.13" fill="#8eb2da"/>
<rect x="161.55" y="357.16" width="12.18" height="1.13" fill="#cedeef"/>
<rect x="173.68" y="357.16" width="12.18" height="1.13" fill="#bfd6ec"/>
<rect x="40.30" y="358.24" width="12.18" height="1.13" fill="#c65848"/>
<rect x="52.42" y="358.24" width="12.18" height="1.13" fill="#c04b3e"/>
<rect x="64.55" y="358.24" width="12.18" height="1.13" fill="#aa3531"/>
<rect x="76.67" y="358.24" width="12.18" height="1.13" fill="#c8dbee"/>
<rect x="88.80" y="358.24" width="12.18" height="1.13" fill="#cbddee"/>
<rect x="100.92" y="358.24" width="12.18" height="1.13" fill="#c9dcee"/>
<rect x="113.05" y="358.24" width="12.18" height="1.13" fill="#f3f4f5"/>
<rect x="125.17" y="358.24" width="12.18" height="1.13" fill="#f1f3f5"/>
<rect x="137.30" y="358.24" width="12.18" height="1.13" fill="#f6e9e1"/>
<rect x="149.43" y="358.24" width="12.18" height="1.13" fill="#bad2ea"/>
<rect x="161.55" y="358.24" width="12.18" height="1.13" fill="#b5cfe9"/>
<rect x="173.68" y="358.24" width="12.18" height="1.13" fill="#a8c5e4"/>
<rect x="40.30" y="359.32" width="12.18" height="1.13" fill="#dc8469"/>
<rect x="52.42" y="359.32" width="12.18" height="1.13" fill="#b43f37"/>
<rect x="64.55" y="359.32" width="12.18" height="1.13" fill="#d97e65"/>
<rect x="76.67" y="359.32" width="12.18" height="1.13" fill="#f6f3f1"/>
<rect x="88.80" y="359.32" width="12.18" height="1.13" fill="#f6eee9"/>
<rect x="100.92" y="359.32" width="12.18" height="1.13" fill="#edf1f4"/>
<rect x="113.05" y="359.32" width="12.18" height="1.13" fill="#f6e0d2"/>
<rect x="125.17" y="359.32" width="12.18" height="1.13" fill="#e7edf3"/>
<rect x="137.30" y="359.32" width="12.18" height="1.13" fill="#f6ddcd"/>
<rect x="149.43" y="359.32" width="12.18" height="1.13" fill="#b5cee9"/>
<rect x="161.55" y="359.32" width="12.18" height="1.13" fill="#94b7dc"/>
<rect x="173.68" y="359.32" width="12.18" height="1.13" fill="#bdd5ec"/>
<rect x="40.30" y="360.40" width="12.18" height="1.13" fill="#d5765f"/>
<rect x="52.42" y="360.40" width="12.18" height="1.13" fill="#d77b63"/>
<rect x="64.55" y="360.40" width="12.18" height="1.13" fill="#cf6955"/>
<rect x="76.67" y="360.40" width="12.18" height="1.13" fill="#ecf0f4"/>
<rect x="88.80" y="360.40" width="12.18" height="1.13" fill="#f6f1ed"/>
<rect x="100.92" y="360.40" width="12.18" height="1.13" fill="#f4f5f6"/>
<rect x="113.05" y="360.40" width="12.18" height="1.13" fill="#f6f3f1"/>
<rect x="125.17" y="360.40" width="12.18" height="1.13" fill="#afcae6"/>
<rect x="137.30" y="360.40" width="12.18" height="1.13" fill="#f6e3d7"/>
<rect x="149.43" y="360.40" width="12.18" height="1.13" fill="#afcae6"/>
<rect x="161.55" y="360.40" width="12.18" height="1.13" fill="#8eb2da"/>
<rect x="173.68" y="360.40" width="12.18" height="1.13" fill="#b0cbe7"/>
<rect x="40.30" y="361.48" width="12.18" height="1.13" fill="#d4755e"/>
<rect x="52.42" y="361.48" width="12.18" height="1.13" fill="#962325"/>
<rect x="64.55" y="361.48" width="12.18" height="1.13" fill="#cd6653"/>
<rect x="76.67" y="361.48" width="12.18" height="1.13" fill="#f6f2ef"/>
<rect x="88.80" y="361.48" width="12.18" height="1.13" fill="#edf1f4"/>
<rect x="100.92" y="361.48" width="12.18" height="1.13" fill="#e2eaf2"/>
<rect x="113.05" y="361.48" width="12.18" height="1.13" fill="#f6e6dd"/>
<rect x="125.17" y="361.48" width="12.18" height="1.13" fill="#f6eae2"/>
<rect x="137.30" y="361.48" width="12.18" height="1.13" fill="#f6dfd1"/>
<rect x="149.43" y="361.48" width="12.18" height="1.13" fill="#cddeef"/>
<rect x="161.55" y="361.48" width="12.18" height="1.13" fill="#b7d0e9"/>
<rect x="173.68" y="361.48" width="12.18" height="1.13" fill="#a3c1e2"/>
<rect x="40.30" y="362.56" width="12.18" height="1.13" fill="#d3725c"/>
<rect x="52.42" y="362.56" width="12.18" height="1.13" fill="#d5775f"/>
<rect x="64.55" y="362.56" width="12.18" height="1.13" fill="#cf6955"/>
<rect x="76.67" y="362.56" width="12.18" height="1.13" fill="#e0e9f2"/>
<rect x="88.80" y="362.56" width="12.18" height="1.13" fill="#e6ecf3"/>
<rect x="100.92" y="362.56" width="12.18" height="1.13" fill="#edf1f4"/>
<rect x="113.05" y="362.56" width="12.18" height="1.13" fill="#f6e7de"/>
<rect x="125.17" y="362.56" width="12.18" height="1.13" fill="#e3ebf3"/>
<rect x="137.30" y="362.56" width="12.18" height="1.13" fill="#cfdfef"/>
<rect x="149.43" y="362.56" width="12.18" height="1.13" fill="#cddeef"/>
<rect x="161.55" y="362.56" width="12.18" height="1.13" fill="#b9d1ea"/>
<rect x="173.68" y="362.56" width="12.18" height="1.13" fill="#c8dbee"/>
<rect x="40.30" y="363.64" width="12.18" height="1.13" fill="#e49779"/>
<rect x="52.42" y="363.64" width="12.18" height="1.13" fill="#cc6350"/>
<rect x="64.55" y="363.64" width="12.18" height="1.13" fill="#c65848"/>
<rect x="76.67" y="363.64" width="12.18" height="1.13" fill="#f6f1ef"/>
<rect x="88.80" y="363.64" width="12.18" height="1.13" fill="#d9e5f1"/>
<rect x="100.92" y="363.64" width="12.18" height="1.13" fill="#d1e0ef"/>
<rect x="113.05" y="363.64" width="12.18" height="1.13" fill="#f6e9e2"/>
<rect x="125.17" y="363.64" width="12.18" height="1.13" fill="#f6e2d6"/>
<rect x="137.30" y="363.64" width="12.18" height="1.13" fill="#f6efea"/>
<rect x="149.43" y="363.64" width="12.18" height="1.13" fill="#88aed8"/>
<rect x="161.55" y="363.64" width="12.18" height="1.13" fill="#aec9e6"/>
<rect x="173.68" y="363.64" width="12.18" height="1.13" fill="#aecae6"/>
<rect x="40.30" y="364.72" width="12.18" height="1.13" fill="#da8066"/>
<rect x="52.42" y="364.72" width="12.18" height="1.13" fill="#e4997c"/>
<rect x="64.55" y="364.72" width="12.18" height="1.13" fill="#c65747"/>
<rect x="76.67" y="364.72" width="12.18" height="1.13" fill="#ebf0f4"/>
<rect x="88.80" y="364.72" width="12.18" height="1.13" fill="#e4ecf3"/>
<rect x="100.92" y="364.72" width="12.18" height="1.13" fill="#f1f3f5"/>
<rect x="113.05" y="364.72" width="12.18" height="1.13" fill="#f0f2f5"/>
<rect x="125.17" y="364.72" width="12.18" height="1.13" fill="#f6f2ef"/>
<rect x="137.30" y="364.72" width="12.18" height="1.13" fill="#f6f5f5"/>
<rect x="149.43" y="364.72" width="12.18" height="1.13" fill="#c2d7ed"/>
<rect x="161.55" y="364.72" width="12.18" height="1.13" fill="#d1e0ef"/>
<rect x="173.68" y="364.72" width="12.18" height="1.13" fill="#b4cee8"/>
<rect x="40.30" y="365.80" width="12.18" height="1.13" fill="#a32f2d"/>
<rect x="52.42" y="365.80" width="12.18" height="1.13" fill="#c55646"/>
<rect x="64.55" y="365.80" width="12.18" height="1.13" fill="#c45344"/>
<rect x="76.67" y="365.80" width="12.18" height="1.13" fill="#e7edf3"/>
<rect x="88.80" y="365.80" width="12.18" height="1.13" fill="#f6f1ee"/>
<rect x="100.92" y="365.80" width="12.18" height="1.13" fill="#f6e9e0"/>
<rect x="113.05" y="365.80" width="12.18" height="1.13" fill="#f6e4da"/>
<rect x="125.17" y="365.80" width="12.18" height="1.13" fill="#f6e6dd"/>
<rect x="137.30" y="365.80" width="12.18" height="1.13" fill="#f6f1ee"/>
<rect x="149.43" y="365.80" width="12.18" height="1.13" fill="#bad2ea"/>
<rect x="161.55" y="365.80" width="12.18" height="1.13" fill="#9dbde0"/>
<rect x="173.68" y="365.80" width="12.18" height="1.13" fill="#c7daee"/>
<rect x="40.30" y="366.88" width="12.18" height="1.13" fill="#ca5f4d"/>
<rect x="52.42" y="366.88" width="12.18" height="1.13" fill="#c04b3e"/>
<rect x="64.55" y="366.88" width="12.18" height="1.13" fill="#e39577"/>
<rect x="76.67" y="366.88" width="12.18" height="1.13" fill="#ecf0f4"/>
<rect x="88.80" y="366.88" width="12.18" height="1.13" fill="#ecf0f4"/>
<rect x="100.92" y="366.88" width="12.18" height="1.13" fill="#d6e3f0"/>
<rect x="113.05" y="366.88" width="12.18" height="1.13" fill="#d0e0ef"/>
<rect x="125.17" y="366.88" width="12.18" height="1.13" fill="#e2ebf3"/>
<rect x="137.30" y="366.88" width="12.18" height="1.13" fill="#e5ecf3"/>
<rect x="149.43" y="366.88" width="12.18" height="1.13" fill="#adc9e6"/>
<rect x="161.55" y="366.88" width="12.18" height="1.13" fill="#a0bfe1"/>
<rect x="173.68" y="366.88" width="12.18" height="1.13" fill="#82a9d6"/>
<rect x="40.30" y="367.96" width="12.18" height="1.13" fill="#dd886c"/>
<rect x="52.42" y="367.96" width="12.18" height="1.13" fill="#d97f65"/>
<rect x="64.55" y="367.96" width="12.18" height="1.13" fill="#d4755e"/>
<rect x="76.67" y="367.96" width="12.18" height="1.13" fill="#eef1f5"/>
<rect x="88.80" y="367.96" width="12.18" height="1.13" fill="#e7edf3"/>
<rect x="100.92" y="367.96" width="12.18" height="1.13" fill="#e4ebf3"/>
<rect x="113.05" y="367.96" width="12.18" height="1.13" fill="#f6e7de"/>
<rect x="125.17" y="367.96" width="12.18" height="1.13" fill="#dee8f2"/>
<rect x="137.30" y="367.96" width="12.18" height="1.13" fill="#f6f5f5"/>
<rect x="149.43" y="367.96" width="12.18" height="1.13" fill="#98bade"/>
<rect x="161.55" y="367.96" width="12.18" height="1.13" fill="#91b4db"/>
<rect x="173.68" y="367.96" width="12.18" height="1.13" fill="#acc8e5"/>
<rect x="40.30" y="369.04" width="12.18" height="1.13" fill="#d06b56"/>
<rect x="52.42" y="369.04" width="12.18" height="1.13" fill="#bc473c"/>
<rect x="64.55" y="369.04" width="12.18" height="1.13" fill="#cf6a55"/>
<rect x="76.67" y="369.04" width="12.18" height="1.13" fill="#d4e2f0"/>
<rect x="88.80" y="369.04" width="12.18" height="1.13" fill="#bad2eb"/>
<rect x="100.92" y="369.04" width="12.18" height="1.13" fill="#e5ecf3"/>
<rect x="113.05" y="369.04" width="12.18" height="1.13" fill="#f6e4d9"/>
<rect x="125.17" y="369.04" width="12.18" height="1.13" fill="#f6f4f2"/>
<rect x="137.30" y="369.04" width="12.18" height="1.13" fill="#f6e9e1"/>
<rect x="149.43" y="369.04" width="12.18" height="1.13" fill="#b4cee8"/>
<rect x="161.55" y="369.04" width="12.18" height="1.13" fill="#adc9e6"/>
<rect x="173.68" y="369.04" width="12.18" height="1.13" fill="#91b4db"/>
<rect x="40.30" y="370.12" width="12.18" height="1.13" fill="#e39577"/>
<rect x="52.42" y="370.12" width="12.18" height="1.13" fill="#ca5f4d"/>
<rect x="64.55" y="370.12" width="12.18" height="1.13" fill="#bf4a3d"/>
<rect x="76.67" y="370.12" width="12.18" height="1.13" fill="#e0e9f2"/>
<rect x="88.80" y="370.12" width="12.18" height="1.13" fill="#d2e1ef"/>
<rect x="100.92" y="370.12" width="12.18" height="1.13" fill="#f6eee8"/>
<rect x="113.05" y="370.12" width="12.18" height="1.13" fill="#f6f5f5"/>
<rect x="125.17" y="370.12" width="12.18" height="1.13" fill="#f6e3d7"/>
<rect x="137.30" y="370.12" width="12.18" height="1.13" fill="#cddeef"/>
<rect x="149.43" y="370.12" width="12.18" height="1.13" fill="#bfd5ec"/>
<rect x="161.55" y="370.12" width="12.18" height="1.13" fill="#cddeef"/>
<rect x="173.68" y="370.12" width="12.18" height="1.13" fill="#ccddef"/>
<rect x="40.30" y="371.20" width="12.18" height="1.13" fill="#c65747"/>
<rect x="52.42" y="371.20" width="12.18" height="1.13" fill="#cd6753"/>
<rect x="64.55" y="371.20" width="12.18" height="1.13" fill="#e39375"/>
<rect x="76.67" y="371.20" width="12.18" height="1.13" fill="#f6f6f6"/>
<rect x="88.80" y="371.20" width="12.18" height="1.13" fill="#e4ebf3"/>
<rect x="100.92" y="371.20" width="12.18" height="1.13" fill="#f4f5f6"/>
<rect x="113.05" y="371.20" width="12.18" height="1.13" fill="#f6efea"/>
<rect x="125.17" y="371.20" width="12.18" height="1.13" fill="#f6d8c6"/>
<rect x="137.30" y="371.20" width="12.18" height="1.13" fill="#f6e0d3"/>
<rect x="149.43" y="371.20" width="12.18" height="1.13" fill="#b3cde8"/>
<rect x="161.55" y="371.20" width="12.18" height="1.13" fill="#c1d7ed"/>
<rect x="173.68" y="371.20" width="12.18" height="1.13" fill="#d5e3f0"/>
<rect x="40.30" y="372.28" width="12.18" height="1.13" fill="#d06b56"/>
<rect x="52.42" y="372.28" width="12.18" height="1.13" fill="#e39578"/>
<rect x="64.55" y="372.28" width="12.18" height="1.13" fill="#e39476"/>
<rect x="76.67" y="372.28" width="12.18" height="1.13" fill="#f0f2f5"/>
<rect x="88.80" y="372.28" width="12.18" height="1.13" fill="#f2f4f5"/>
<rect x="100.92" y="372.28" width="12.18" height="1.13" fill="#f6e3d8"/>
<rect x="113.05" y="372.28" width="12.18" height="1.13" fill="#f1f3f5"/>
<rect x="125.17" y="372.28" width="12.18" height="1.13" fill="#f6d8c6"/>
<rect x="137.30" y="372.28" width="12.18" height="1.13" fill="#f6ded0"/>
<rect x="149.43" y="372.28" width="12.18" height="1.13" fill="#a0bfe1"/>
<rect x="161.55" y="372.28" width="12.18" height="1.13" fill="#afcae6"/>
<rect x="173.68" y="372.28" width="12.18" height="1.13" fill="#c0d6ec"/>
<rect x="40.30" y="373.36" width="12.18" height="1.13" fill="#d06c57"/>
<rect x="52.42" y="373.36" width="12.18" height="1.13" fill="#da8066"/>
<rect x="64.55" y="373.36" width="12.18" height="1.13" fill="#d87d64"/>
<rect x="76.67" y="373.36" width="12.18" height="1.13" fill="#eff2f5"/>
<rect x="88.80" y="373.36" width="12.18" height="1.13" fill="#dfe8f2"/>
<rect x="100.92" y="373.36" width="12.18" height="1.13" fill="#ebf0f4"/>
<rect x="113.05" y="373.36" width="12.18" height="1.13" fill="#f6d5c0"/>
<rect x="125.17" y="373.36" width="12.18" height="1.13" fill="#f6efeb"/>
<rect x="137.30" y="373.36" width="12.18" height="1.13" fill="#f6f2ef"/>
<rect x="149.43" y="373.36" width="12.18" height="1.13" fill="#b4cee8"/>
<rect x="161.55" y="373.36" width="12.18" height="1.13" fill="#a0bfe1"/>
<rect x="173.68" y="373.36" width="12.18" height="1.13" fill="#bbd3eb"/>
<rect x="40.30" y="374.44" width="12.18" height="1.13" fill="#c14d3f"/>
<rect x="52.42" y="374.44" width="12.18" height="1.13" fill="#e19072"/>
<rect x="64.55" y="374.44" width="12.18" height="1.13" fill="#b64238"/>
<rect x="76.67" y="374.44" width="12.18" height="1.13" fill="#f6f5f4"/>
<rect x="88.80" y="374.44" width="12.18" height="1.13" fill="#f6ede8"/>
<rect x="100.92" y="374.44" width="12.18" height="1.13" fill="#e0e9f2"/>
<rect x="113.05" y="374.44" width="12.18" height="1.13" fill="#f6e1d5"/>
<rect x="125.17" y="374.44" width="12.18" height="1.13" fill="#f6ddce"/>
<rect x="137.30" y="374.44" width="12.18" height="1.13" fill="#f4f5f6"/>
<rect x="149.43" y="374.44" width="12.18" height="1.13" fill="#a5c3e3"/>
<rect x="161.55" y="374.44" width="12.18" height="1.13" fill="#cfdfef"/>
<rect x="173.68" y="374.44" width="12.18" height="1.13" fill="#aac7e5"/>
<rect x="40.30" y="375.52" width="12.18" height="1.13" fill="#d4745d"/>
<rect x="52.42" y="375.52" width="12.18" height="1.13" fill="#af3b34"/>
<rect x="64.55" y="375.52" width="12.18" height="1.13" fill="#d5765e"/>
<rect x="76.67" y="375.52" width="12.18" height="1.13" fill="#eaeff4"/>
<rect x="88.80" y="375.52" width="12.18" height="1.13" fill="#f6f5f4"/>
<rect x="100.92" y="375.52" width="12.18" height="1.13" fill="#d4e2f0"/>
<rect x="113.05" y="375.52" width="12.18" height="1.13" fill="#f6ded0"/>
<rect x="125.17" y="375.52" width="12.18" height="1.13" fill="#f6d1ba"/>
<rect x="137.30" y="375.52" width="12.18" height="1.13" fill="#dee8f2"/>
<rect x="149.43" y="375.52" width="12.18" height="1.13" fill="#a0bfe1"/>
<rect x="161.55" y="375.52" width="12.18" height="1.13" fill="#a1c0e1"/>
<rect x="173.68" y="375.52" width="12.18" height="1.13" fill="#92b5dc"/>
<rect x="40.30" y="376.60" width="12.18" height="1.13" fill="#e7a084"/>
<rect x="52.42" y="376.60" width="12.18" height="1.13" fill="#d06c57"/>
<rect x="64.55" y="376.60" width="12.18" height="1.13" fill="#e59c7f"/>
<rect x="76.67" y="376.60" width="12.18" height="1.13" fill="#e3ebf3"/>
<rect x="88.80" y="376.60" width="12.18" height="1.13" fill="#cddeef"/>
<rect x="100.92" y="376.60" width="12.18" height="1.13" fill="#d4e2f0"/>
<rect x="113.05" y="376.60" width="12.18" height="1.13" fill="#f6eeea"/>
<rect x="125.17" y="376.60" width="12.18" height="1.13" fill="#f6e6dc"/>
<rect x="137.30" y="376.60" width="12.18" height="1.13" fill="#f6f5f4"/>
<rect x="149.43" y="376.60" width="12.18" height="1.13" fill="#c0d6ec"/>
<rect x="161.55" y="376.60" width="12.18" height="1.13" fill="#b6cfe9"/>
<rect x="173.68" y="376.60" width="12.18" height="1.13" fill="#c1d7ed"/>
<rect x="40.30" y="377.68" width="12.18" height="1.13" fill="#bd483c"/>
<rect x="52.42" y="377.68" width="12.18" height="1.13" fill="#d3725b"/>
<rect x="64.55" y="377.68" width="12.18" height="1.13" fill="#e59a7d"/>
<rect x="76.67" y="377.68" width="12.18" height="1.13" fill="#edf1f4"/>
<rect x="88.80" y="377.68" width="12.18" height="1.13" fill="#dbe6f1"/>
<rect x="100.92" y="377.68" width="12.18" height="1.13" fill="#d1e0ef"/>
<rect x="113.05" y="377.68" width="12.18" height="1.13" fill="#d8e4f1"/>
<rect x="125.17" y="377.68" width="12.18" height="1.13" fill="#f6f2ef"/>
<rect x="137.30" y="377.68" width="12.18" height="1.13" fill="#f4f5f6"/>
<rect x="149.43" y="377.68" width="12.18" height="1.13" fill="#a9c6e4"/>
<rect x="161.55" y="377.68" width="12.18" height="1.13" fill="#9abbde"/>
<rect x="173.68" y="377.68" width="12.18" height="1.13" fill="#97b8dd"/>
<rect x="40.30" y="378.76" width="12.18" height="1.13" fill="#e29072"/>
<rect x="52.42" y="378.76" width="12.18" height="1.13" fill="#8c191f"/>
<rect x="64.55" y="378.76" width="12.18" height="1.13" fill="#d77b63"/>
<rect x="76.67" y="378.76" width="12.18" height="1.13" fill="#eaeff4"/>
<rect x="88.80" y="378.76" width="12.18" height="1.13" fill="#eef1f5"/>
<rect x="100.92" y="378.76" width="12.18" height="1.13" fill="#e8eef4"/>
<rect x="113.05" y="378.76" width="12.18" height="1.13" fill="#ecf0f4"/>
<rect x="125.17" y="378.76" width="12.18" height="1.13" fill="#d1e0ef"/>
<rect x="137.30" y="378.76" width="12.18" height="1.13" fill="#d9e5f1"/>
<rect x="149.43" y="378.76" width="12.18" height="1.13" fill="#b7d0e9"/>
<rect x="161.55" y="378.76" width="12.18" height="1.13" fill="#8bb0d9"/>
<rect x="173.68" y="378.76" width="12.18" height="1.13" fill="#a8c5e4"/>
<rect x="40.30" y="379.84" width="12.18" height="1.13" fill="#e9a88d"/>
<rect x="52.42" y="379.84" width="12.18" height="1.13" fill="#ce6854"/>
<rect x="64.55" y="379.84" width="12.18" height="1.13" fill="#d16e59"/>
<rect x="76.67" y="379.84" width="12.18" height="1.13" fill="#dbe6f1"/>
<rect x="88.80" y="379.84" width="12.18" height="1.13" fill="#edf1f4"/>
<rect x="100.92" y="379.84" width="12.18" height="1.13" fill="#d9e5f1"/>
<rect x="113.05" y="379.84" width="12.18" height="1.13" fill="#eaeff4"/>
<rect x="125.17" y="379.84" width="12.18" height="1.13" fill="#f6f1ee"/>
<rect x="137.30" y="379.84" width="12.18" height="1.13" fill="#bad2eb"/>
<rect x="149.43" y="379.84" width="12.18" height="1.13" fill="#bad2ea"/>
<rect x="161.55" y="379.84" width="12.18" height="1.13" fill="#a9c6e4"/>
<rect x="173.68" y="379.84" width="12.18" height="1.13" fill="#a1c0e1"/>
<rect x="40.30" y="380.92" width="12.18" height="1.13" fill="#e69c7f"/>
<rect x="52.42" y="380.92" width="12.18" height="1.13" fill="#e39476"/>
<rect x="64.55" y="380.92" width="12.18" height="1.13" fill="#b43f37"/>
<rect x="76.67" y="380.92" width="12.18" height="1.13" fill="#f5f6f6"/>
<rect x="88.80" y="380.92" width="12.18" height="1.13" fill="#f6f1ee"/>
<rect x="100.92" y="380.92" width="12.18" height="1.13" fill="#e3ebf3"/>
<rect x="113.05" y="380.92" width="12.18" height="1.13" fill="#f6e7de"/>
<rect x="125.17" y="380.92" width="12.18" height="1.13" fill="#f6f0ed"/>
<rect x="137.30" y="380.92" width="12.18" height="1.13" fill="#f6eae2"/>
<rect x="149.43" y="380.92" width="12.18" height="1.13" fill="#bfd5ec"/>
<rect x="161.55" y="380.92" width="12.18" height="1.13" fill="#d0dfef"/>
<rect x="173.68" y="380.92" width="12.18" height="1.13" fill="#b2cde8"/>
<rect x="31.06" y="382.00" width="7.00" height="10.50" fill="#2c4a80"/>
<text x="28.80" y="390.67" font-size="7.0" text-anchor="end" textLength="20.8" lengthAdjust="spacingAndGlyphs" fill="#333">cluster 2</text>
<rect x="40.30" y="382.00" width="12.18" height="1.10" fill="#f0f2f5"/>
<rect x="52.42" y="382.00" width="12.18" height="1.10" fill="#f2f4f5"/>
<rect x="64.55" y="382.00" width="12.18" height="1.10" fill="#f6f0ed"/>
<rect x="76.67" y="382.00" width="12.18" height="1.10" fill="#f2c3ab"/>
<rect x="88.80" y="382.00" width="12.18" height="1.10" fill="#e9a88c"/>
<rect x="100.92" y="382.00" width="12.18" height="1.10" fill="#ecb197"/>
<rect x="113.05" y="382.00" width="12.18" height="1.10" fill="#d7e4f0"/>
<rect x="125.17" y="382.00" width="12.18" height="1.10" fill="#d1e0ef"/>
<rect x="137.30" y="382.00" width="12.18" height="1.10" fill="#dfe9f2"/>
<rect x="149.43" y="382.00" width="12.18" height="1.10" fill="#9fbfe1"/>
<rect x="161.55" y="382.00" width="12.18" height="1.10" fill="#aac6e5"/>
<rect x="173.68" y="382.00" width="12.18" height="1.10" fill="#acc8e5"/>
<rect x="40.30" y="383.05" width="12.18" height="1.10" fill="#f6d4bf"/>
<rect x="52.42" y="383.05" width="12.18" height="1.10" fill="#eef1f5"/>
<rect x="64.55" y="383.05" width="12.18" height="1.10" fill="#f6ede7"/>
<rect x="76.67" y="383.05" width="12.18" height="1.10" fill="#ecaf95"/>
<rect x="88.80" y="383.05" width="12.18" height="1.10" fill="#ecb096"/>
<rect x="100.92" y="383.05" width="12.18" height="1.10" fill="#df8b6e"/>
<rect x="113.05" y="383.05" width="12.18" height="1.10" fill="#c9dcee"/>
<rect x="125.17" y="383.05" width="12.18" height="1.10" fill="#dee8f2"/>
<rect x="137.30" y="383.05" width="12.18" height="1.10" fill="#b9d2ea"/>
<rect x="149.43" y="383.05" width="12.18" height="1.10" fill="#86acd7"/>
<rect x="161.55" y="383.05" width="12.18" height="1.10" fill="#bdd4ec"/>
<rect x="173.68" y="383.05" width="12.18" height="1.10" fill="#afcae6"/>
<rect x="40.30" y="384.10" width="12.18" height="1.10" fill="#f6d0b9"/>
<rect x="52.42" y="384.10" width="12.18" height="1.10" fill="#f6e9e1"/>
<rect x="64.55" y="384.10" width="12.18" height="1.10" fill="#f6cfb8"/>
<rect x="76.67" y="384.10" width="12.18" height="1.10" fill="#e08d70"/>
<rect x="88.80" y="384.10" width="12.18" height="1.10" fill="#f3c6ae"/>
<rect x="100.92" y="384.10" width="12.18" height="1.10" fill="#edb399"/>
<rect x="113.05" y="384.10" width="12.18" height="1.10" fill="#e9eef4"/>
<rect x="125.17" y="384.10" width="12.18" height="1.10" fill="#d7e4f0"/>
<rect x="137.30" y="384.10" width="12.18" height="1.10" fill="#d3e1f0"/>
<rect x="149.43" y="384.10" width="12.18" height="1.10" fill="#a7c4e3"/>
<rect x="161.55" y="384.10" width="12.18" height="1.10" fill="#9bbbdf"/>
<rect x="173.68" y="384.10" width="12.18" height="1.10" fill="#98bade"/>
<rect x="40.30" y="385.15" width="12.18" height="1.10" fill="#efbaa1"/>
<rect x="52.42" y="385.15" width="12.18" height="1.10" fill="#f0bca3"/>
<rect x="64.55" y="385.15" width="12.18" height="1.10" fill="#f1bfa6"/>
<rect x="76.67" y="385.15" width="12.18" height="1.10" fill="#d16f59"/>
<rect x="88.80" y="385.15" width="12.18" height="1.10" fill="#df8b6f"/>
<rect x="100.92" y="385.15" width="12.18" height="1.10" fill="#df8b6f"/>
<rect x="113.05" y="385.15" width="12.18" height="1.10" fill="#e0e9f2"/>
<rect x="125.17" y="385.15" width="12.18" height="1.10" fill="#d7e4f1"/>
<rect x="137.30" y="385.15" width="12.18" height="1.10" fill="#e1eaf2"/>
<rect x="149.43" y="385.15" width="12.18" height="1.10" fill="#a5c3e3"/>
<rect x="161.55" y="385.15" width="12.18" height="1.10" fill="#cbddee"/>
<rect x="173.68" y="385.15" width="12.18" height="1.10" fill="#bad2eb"/>
<rect x="40.30" y="386.20" width="12.18" height="1.10" fill="#f3f4f6"/>
<rect x="52.42" y="386.20" width="12.18" height="1.10" fill="#f2f4f5"/>
<rect x="64.55" y="386.20" width="12.18" height="1.10" fill="#d7e3f0"/>
<rect x="76.67" y="386.20" width="12.18" height="1.10" fill="#e39577"/>
<rect x="88.80" y="386.20" width="12.18" height="1.10" fill="#e9a68a"/>
<rect x="100.92" y="386.20" width="12.18" height="1.10" fill="#c65747"/>
<rect x="113.05" y="386.20" width="12.18" height="1.10" fill="#d3e2f0"/>
<rect x="125.17" y="386.20" width="12.18" height="1.10" fill="#d2e1f0"/>
<rect x="137.30" y="386.20" width="12.18" height="1.10" fill="#e9eef4"/>
<rect x="149.43" y="386.20" width="12.18" height="1.10" fill="#aec9e6"/>
<rect x="161.55" y="386.20" width="12.18" height="1.10" fill="#aecae6"/>
<rect x="173.68" y="386.20" width="12.18" height="1.10" fill="#a5c2e3"/>
<rect x="40.30" y="387.25" width="12.18" height="1.10" fill="#f6ede7"/>
<rect x="52.42" y="387.25" width="12.18" height="1.10" fill="#f6e6dd"/>
<rect x="64.55" y="387.25" width="12.18" height="1.10" fill="#f6f5f5"/>
<rect x="76.67" y="387.25" width="12.18" height="1.10" fill="#cb6250"/>
<rect x="88.80" y="387.25" width="12.18" height="1.10" fill="#e9a98d"/>
<rect x="100.92" y="387.25" width="12.18" height="1.10" fill="#d16f59"/>
<rect x="113.05" y="387.25" width="12.18" height="1.10" fill="#edf1f4"/>
<rect x="125.17" y="387.25" width="12.18" height="1.10" fill="#f2f4f5"/>
<rect x="137.30" y="387.25" width="12.18" height="1.10" fill="#d0dfef"/>
<rect x="149.43" y="387.25" width="12.18" height="1.10" fill="#d2e1f0"/>
<rect x="161.55" y="387.25" width="12.18" height="1.10" fill="#b6cfe9"/>
<rect x="173.68" y="387.25" width="12.18" height="1.10" fill="#b5cfe9"/>
<rect x="40.30" y="388.30" width="12.18" height="1.10" fill="#f3f4f6"/>
<rect x="52.42" y="388.30" width="12.18" height="1.10" fill="#f6f1ee"/>
<rect x="64.55" y="388.30" width="12.18" height="1.10" fill="#eeb79e"/>
<rect x="76.67" y="388.30" width="12.18" height="1.10" fill="#cd6552"/>
<rect x="88.80" y="388.30" width="12.18" height="1.10" fill="#e39477"/>
<rect x="100.92" y="388.30" width="12.18" height="1.10" fill="#eeb79d"/>
<rect x="113.05" y="388.30" width="12.18" height="1.10" fill="#d9e5f1"/>
<rect x="125.17" y="388.30" width="12.18" height="1.10" fill="#f4f5f6"/>
<rect x="137.30" y="388.30" width="12.18" height="1.10" fill="#f6f0ed"/>
<rect x="149.43" y="388.30" width="12.18" height="1.10" fill="#a4c2e3"/>
<rect x="161.55" y="388.30" width="12.18" height="1.10" fill="#9dbde0"/>
<rect x="173.68" y="388.30" width="12.18" height="1.10" fill="#a0bfe1"/>
<rect x="40.30" y="389.35" width="12.18" height="1.10" fill="#d7e4f0"/>
<rect x="52.42" y="389.35" width="12.18" height="1.10" fill="#e2eaf2"/>
<rect x="64.55" y="389.35" width="12.18" height="1.10" fill="#f6eae2"/>
<rect x="76.67" y="389.35" width="12.18" height="1.10" fill="#e69d80"/>
<rect x="88.80" y="389.35" width="12.18" height="1.10" fill="#d16f59"/>
<rect x="100.92" y="389.35" width="12.18" height="1.10" fill="#dd876b"/>
<rect x="113.05" y="389.35" width="12.18" height="1.10" fill="#b8d1ea"/>
<rect x="125.17" y="389.35" width="12.18" height="1.10" fill="#d4e2f0"/>
<rect x="137.30" y="389.35" width="12.18" height="1.10" fill="#d7e4f0"/>
<rect x="149.43" y="389.35" width="12.18" height="1.10" fill="#99bade"/>
<rect x="161.55" y="389.35" width="12.18" height="1.10" fill="#d7e4f0"/>
<rect x="173.68" y="389.35" width="12.18" height="1.10" fill="#c4d8ed"/>
<rect x="40.30" y="390.40" width="12.18" height="1.10" fill="#f4cab2"/>
<rect x="52.42" y="390.40" width="12.18" height="1.10" fill="#f5f5f6"/>
<rect x="64.55" y="390.40" width="12.18" height="1.10" fill="#f6ede8"/>
<rect x="76.67" y="390.40" width="12.18" height="1.10" fill="#f6d7c5"/>
<rect x="88.80" y="390.40" width="12.18" height="1.10" fill="#eaaa8f"/>
<rect x="100.92" y="390.40" width="12.18" height="1.10" fill="#e59a7d"/>
<rect x="113.05" y="390.40" width="12.18" height="1.10" fill="#b3cde8"/>
<rect x="125.17" y="390.40" width="12.18" height="1.10" fill="#c5d9ed"/>
<rect x="137.30" y="390.40" width="12.18" height="1.10" fill="#d5e3f0"/>
<rect x="149.43" y="390.40" width="12.18" height="1.10" fill="#c7daee"/>
<rect x="161.55" y="390.40" width="12.18" height="1.10" fill="#b8d1ea"/>
<rect x="173.68" y="390.40" width="12.18" height="1.10" fill="#a7c4e3"/>
<rect x="40.30" y="391.45" width="12.18" height="1.10" fill="#f6ebe4"/>
<rect x="52.42" y="391.45" width="12.18" height="1.10" fill="#f5cdb6"/>
<rect x="64.55" y="391.45" width="12.18" height="1.10" fill="#f6e5db"/>
<rect x="76.67" y="391.45" width="12.18" height="1.10" fill="#eeb89f"/>
<rect x="88.80" y="391.45" width="12.18" height="1.10" fill="#d06c57"/>
<rect x="100.92" y="391.45" width="12.18" height="1.10" fill="#d97e65"/>
<rect x="113.05" y="391.45" width="12.18" height="1.10" fill="#d0e0ef"/>
<rect x="125.17" y="391.45" width="12.18" height="1.10" fill="#c4d9ed"/>
<rect x="137.30" y="391.45" width="12.18" height="1.10" fill="#b1cbe7"/>
<rect x="149.43" y="391.45" width="12.18" height="1.10" fill="#9fbee1"/>
<rect x="161.55" y="391.45" width="12.18" height="1.10" fill="#c1d7ed"/>
<rect x="173.68" y="391.45" width="12.18" height="1.10" fill="#a3c1e2"/>
<rect x="31.06" y="392.50" width="7.00" height="16.50" fill="#6aa84f"/>
<text x="28.80" y="404.17" font-size="7.0" text-anchor="end" textLength="20.8" lengthAdjust="spacingAndGlyphs" fill="#333">cluster 1</text>
<rect x="40.30" y="392.50" width="12.18" height="1.15" fill="#adc9e6"/>
<rect x="52.42" y="392.50" width="12.18" height="1.15" fill="#bbd3eb"/>
<rect x="64.55" y="392.50" width="12.18" height="1.15" fill="#92b5dc"/>
<rect x="76.67" y="392.50" width="12.18" height="1.15" fill="#dbe6f1"/>
<rect x="88.80" y="392.50" width="12.18" height="1.15" fill="#bfd5ec"/>
<rect x="100.92" y="392.50" width="12.18" height="1.15" fill="#d7e4f1"/>
<rect x="113.05" y="392.50" width="12.18" height="1.15" fill="#ecaf95"/>
<rect x="125.17" y="392.50" width="12.18" height="1.15" fill="#ebae93"/>
<rect x="137.30" y="392.50" width="12.18" height="1.15" fill="#e59a7c"/>
<rect x="149.43" y="392.50" width="12.18" height="1.15" fill="#f0bea5"/>
<rect x="161.55" y="392.50" width="12.18" height="1.15" fill="#e69e82"/>
<rect x="173.68" y="392.50" width="12.18" height="1.15" fill="#e8a589"/>
<rect x="40.30" y="393.60" width="12.18" height="1.15" fill="#aec9e6"/>
<rect x="52.42" y="393.60" width="12.18" height="1.15" fill="#b1cce7"/>
<rect x="64.55" y="393.60" width="12.18" height="1.15" fill="#dfe9f2"/>
<rect x="76.67" y="393.60" width="12.18" height="1.15" fill="#d0dfef"/>
<rect x="88.80" y="393.60" width="12.18" height="1.15" fill="#d2e1ef"/>
<rect x="100.92" y="393.60" width="12.18" height="1.15" fill="#b9d1ea"/>
<rect x="113.05" y="393.60" width="12.18" height="1.15" fill="#f6d1bb"/>
<rect x="125.17" y="393.60" width="12.18" height="1.15" fill="#f3c7af"/>
<rect x="137.30" y="393.60" width="12.18" height="1.15" fill="#efb9a0"/>
<rect x="149.43" y="393.60" width="12.18" height="1.15" fill="#f6ddce"/>
<rect x="161.55" y="393.60" width="12.18" height="1.15" fill="#e69c7f"/>
<rect x="173.68" y="393.60" width="12.18" height="1.15" fill="#f6d5c1"/>
<rect x="40.30" y="394.70" width="12.18" height="1.15" fill="#bfd6ec"/>
<rect x="52.42" y="394.70" width="12.18" height="1.15" fill="#c5d9ed"/>
<rect x="64.55" y="394.70" width="12.18" height="1.15" fill="#c1d6ec"/>
<rect x="76.67" y="394.70" width="12.18" height="1.15" fill="#b8d0ea"/>
<rect x="88.80" y="394.70" width="12.18" height="1.15" fill="#92b5dc"/>
<rect x="100.92" y="394.70" width="12.18" height="1.15" fill="#a8c5e4"/>
<rect x="113.05" y="394.70" width="12.18" height="1.15" fill="#f6e8e0"/>
<rect x="125.17" y="394.70" width="12.18" height="1.15" fill="#e8a58a"/>
<rect x="137.30" y="394.70" width="12.18" height="1.15" fill="#ebae94"/>
<rect x="149.43" y="394.70" width="12.18" height="1.15" fill="#f3c6ae"/>
<rect x="161.55" y="394.70" width="12.18" height="1.15" fill="#f6d4c0"/>
<rect x="173.68" y="394.70" width="12.18" height="1.15" fill="#f6d0ba"/>
<rect x="40.30" y="395.80" width="12.18" height="1.15" fill="#a8c5e4"/>
<rect x="52.42" y="395.80" width="12.18" height="1.15" fill="#a1c0e1"/>
<rect x="64.55" y="395.80" width="12.18" height="1.15" fill="#bcd3eb"/>
<rect x="76.67" y="395.80" width="12.18" height="1.15" fill="#cedfef"/>
<rect x="88.80" y="395.80" width="12.18" height="1.15" fill="#d3e1f0"/>
<rect x="100.92" y="395.80" width="12.18" height="1.15" fill="#dee8f2"/>
<rect x="113.05" y="395.80" width="12.18" height="1.15" fill="#c95e4d"/>
<rect x="125.17" y="395.80" width="12.18" height="1.15" fill="#f4cab2"/>
<rect x="137.30" y="395.80" width="12.18" height="1.15" fill="#eeb69c"/>
<rect x="149.43" y="395.80" width="12.18" height="1.15" fill="#ebaf94"/>
<rect x="161.55" y="395.80" width="12.18" height="1.15" fill="#eeb79e"/>
<rect x="173.68" y="395.80" width="12.18" height="1.15" fill="#e69d80"/>
<rect x="40.30" y="396.90" width="12.18" height="1.15" fill="#c8dbee"/>
<rect x="52.42" y="396.90" width="12.18" height="1.15" fill="#a8c5e4"/>
<rect x="64.55" y="396.90" width="12.18" height="1.15" fill="#a4c2e2"/>
<rect x="76.67" y="396.90" width="12.18" height="1.15" fill="#97b8dd"/>
<rect x="88.80" y="396.90" width="12.18" height="1.15" fill="#c8dbee"/>
<rect x="100.92" y="396.90" width="12.18" height="1.15" fill="#c3d8ed"/>
<rect x="113.05" y="396.90" width="12.18" height="1.15" fill="#edb399"/>
<rect x="125.17" y="396.90" width="12.18" height="1.15" fill="#f6e7df"/>
<rect x="137.30" y="396.90" width="12.18" height="1.15" fill="#f1c0a7"/>
<rect x="149.43" y="396.90" width="12.18" height="1.15" fill="#f6d7c4"/>
<rect x="161.55" y="396.90" width="12.18" height="1.15" fill="#f6e2d5"/>
<rect x="173.68" y="396.90" width="12.18" height="1.15" fill="#f6d9c8"/>
<rect x="40.30" y="398.00" width="12.18" height="1.15" fill="#adc8e6"/>
<rect x="52.42" y="398.00" width="12.18" height="1.15" fill="#b9d1ea"/>
<rect x="64.55" y="398.00" width="12.18" height="1.15" fill="#b9d1ea"/>
<rect x="76.67" y="398.00" width="12.18" height="1.15" fill="#d8e5f1"/>
<rect x="88.80" y="398.00" width="12.18" height="1.15" fill="#cfdfef"/>
<rect x="100.92" y="398.00" width="12.18" height="1.15" fill="#cedfef"/>
<rect x="113.05" y="398.00" width="12.18" height="1.15" fill="#efbba1"/>
<rect x="125.17" y="398.00" width="12.18" height="1.15" fill="#f4c9b1"/>
<rect x="137.30" y="398.00" width="12.18" height="1.15" fill="#d5765f"/>
<rect x="149.43" y="398.00" width="12.18" height="1.15" fill="#ecb095"/>
<rect x="161.55" y="398.00" width="12.18" height="1.15" fill="#edb298"/>
<rect x="173.68" y="398.00" width="12.18" height="1.15" fill="#d87d64"/>
<rect x="40.30" y="399.10" width="12.18" height="1.15" fill="#dbe6f1"/>
<rect x="52.42" y="399.10" width="12.18" height="1.15" fill="#d3e1f0"/>
<rect x="64.55" y="399.10" width="12.18" height="1.15" fill="#cbdcee"/>
<rect x="76.67" y="399.10" width="12.18" height="1.15" fill="#a8c5e4"/>
<rect x="88.80" y="399.10" width="12.18" height="1.15" fill="#aec9e6"/>
<rect x="100.92" y="399.10" width="12.18" height="1.15" fill="#c1d7ed"/>
<rect x="113.05" y="399.10" width="12.18" height="1.15" fill="#e7a286"/>
<rect x="125.17" y="399.10" width="12.18" height="1.15" fill="#f5ccb5"/>
<rect x="137.30" y="399.10" width="12.18" height="1.15" fill="#efbaa1"/>
<rect x="149.43" y="399.10" width="12.18" height="1.15" fill="#f3c6ae"/>
<rect x="161.55" y="399.10" width="12.18" height="1.15" fill="#efb9a0"/>
<rect x="173.68" y="399.10" width="12.18" height="1.15" fill="#ecb297"/>
<rect x="40.30" y="400.20" width="12.18" height="1.15" fill="#abc7e5"/>
<rect x="52.42" y="400.20" width="12.18" height="1.15" fill="#bfd6ec"/>
<rect x="64.55" y="400.20" width="12.18" height="1.15" fill="#b5cee9"/>
<rect x="76.67" y="400.20" width="12.18" height="1.15" fill="#cadcee"/>
<rect x="88.80" y="400.20" width="12.18" height="1.15" fill="#c7dbee"/>
<rect x="100.92" y="400.20" width="12.18" height="1.15" fill="#b3cde8"/>
<rect x="113.05" y="400.20" width="12.18" height="1.15" fill="#e59a7d"/>
<rect x="125.17" y="400.20" width="12.18" height="1.15" fill="#e18e71"/>
<rect x="137.30" y="400.20" width="12.18" height="1.15" fill="#f2c3ab"/>
<rect x="149.43" y="400.20" width="12.18" height="1.15" fill="#d77b62"/>
<rect x="161.55" y="400.20" width="12.18" height="1.15" fill="#d5775f"/>
<rect x="173.68" y="400.20" width="12.18" height="1.15" fill="#d97f65"/>
<rect x="40.30" y="401.30" width="12.18" height="1.15" fill="#b7d0ea"/>
<rect x="52.42" y="401.30" width="12.18" height="1.15" fill="#c6daed"/>
<rect x="64.55" y="401.30" width="12.18" height="1.15" fill="#c4d9ed"/>
<rect x="76.67" y="401.30" width="12.18" height="1.15" fill="#dce7f1"/>
<rect x="88.80" y="401.30" width="12.18" height="1.15" fill="#b2cde8"/>
<rect x="100.92" y="401.30" width="12.18" height="1.15" fill="#f4f5f6"/>
<rect x="113.05" y="401.30" width="12.18" height="1.15" fill="#d67961"/>
<rect x="125.17" y="401.30" width="12.18" height="1.15" fill="#efbba2"/>
<rect x="137.30" y="401.30" width="12.18" height="1.15" fill="#e9a78c"/>
<rect x="149.43" y="401.30" width="12.18" height="1.15" fill="#f0bca3"/>
<rect x="161.55" y="401.30" width="12.18" height="1.15" fill="#f2c2a9"/>
<rect x="173.68" y="401.30" width="12.18" height="1.15" fill="#f6cfb8"/>
<rect x="40.30" y="402.40" width="12.18" height="1.15" fill="#b4cee8"/>
<rect x="52.42" y="402.40" width="12.18" height="1.15" fill="#9fbee1"/>
<rect x="64.55" y="402.40" width="12.18" height="1.15" fill="#afcae7"/>
<rect x="76.67" y="402.40" width="12.18" height="1.15" fill="#c5d9ed"/>
<rect x="88.80" y="402.40" width="12.18" height="1.15" fill="#cddeef"/>
<rect x="100.92" y="402.40" width="12.18" height="1.15" fill="#b2cce8"/>
<rect x="113.05" y="402.40" width="12.18" height="1.15" fill="#eaa98e"/>
<rect x="125.17" y="402.40" width="12.18" height="1.15" fill="#e59a7d"/>
<rect x="137.30" y="402.40" width="12.18" height="1.15" fill="#e8a489"/>
<rect x="149.43" y="402.40" width="12.18" height="1.15" fill="#f5ceb7"/>
<rect x="161.55" y="402.40" width="12.18" height="1.15" fill="#f6d1ba"/>
<rect x="173.68" y="402.40" width="12.18" height="1.15" fill="#f4cab3"/>
<rect x="40.30" y="403.50" width="12.18" height="1.15" fill="#bfd5ec"/>
<rect x="52.42" y="403.50" width="12.18" height="1.15" fill="#bcd3eb"/>
<rect x="64.55" y="403.50" width="12.18" height="1.15" fill="#a8c5e4"/>
<rect x="76.67" y="403.50" width="12.18" height="1.15" fill="#cfdfef"/>
<rect x="88.80" y="403.50" width="12.18" height="1.15" fill="#d8e4f1"/>
<rect x="100.92" y="403.50" width="12.18" height="1.15" fill="#e3ebf3"/>
<rect x="113.05" y="403.50" width="12.18" height="1.15" fill="#f6d6c2"/>
<rect x="125.17" y="403.50" width="12.18" height="1.15" fill="#f6d3bd"/>
<rect x="137.30" y="403.50" width="12.18" height="1.15" fill="#eaab8f"/>
<rect x="149.43" y="403.50" width="12.18" height="1.15" fill="#f6e1d4"/>
<rect x="161.55" y="403.50" width="12.18" height="1.15" fill="#f3c7af"/>
<rect x="173.68" y="403.50" width="12.18" height="1.15" fill="#f1c0a7"/>
<rect x="40.30" y="404.60" width="12.18" height="1.15" fill="#b5cee9"/>
<rect x="52.42" y="404.60" width="12.18" height="1.15" fill="#9fbfe1"/>
<rect x="64.55" y="404.60" width="12.18" height="1.15" fill="#c2d7ed"/>
<rect x="76.67" y="404.60" width="12.18" height="1.15" fill="#a5c3e3"/>
<rect x="88.80" y="404.60" width="12.18" height="1.15" fill="#c0d6ec"/>
<rect x="100.92" y="404.60" width="12.18" height="1.15" fill="#c2d8ed"/>
<rect x="113.05" y="404.60" width="12.18" height="1.15" fill="#e69d80"/>
<rect x="125.17" y="404.60" width="12.18" height="1.15" fill="#f4c8b0"/>
<rect x="137.30" y="404.60" width="12.18" height="1.15" fill="#e9a88d"/>
<rect x="149.43" y="404.60" width="12.18" height="1.15" fill="#f6d4bf"/>
<rect x="161.55" y="404.60" width="12.18" height="1.15" fill="#edb298"/>
<rect x="173.68" y="404.60" width="12.18" height="1.15" fill="#e49779"/>
<rect x="40.30" y="405.70" width="12.18" height="1.15" fill="#c1d7ed"/>
<rect x="52.42" y="405.70" width="12.18" height="1.15" fill="#acc8e5"/>
<rect x="64.55" y="405.70" width="12.18" height="1.15" fill="#97b8dd"/>
<rect x="76.67" y="405.70" width="12.18" height="1.15" fill="#d5e3f0"/>
<rect x="88.80" y="405.70" width="12.18" height="1.15" fill="#e0e9f2"/>
<rect x="100.92" y="405.70" width="12.18" height="1.15" fill="#dfe9f2"/>
<rect x="113.05" y="405.70" width="12.18" height="1.15" fill="#eaaa8e"/>
<rect x="125.17" y="405.70" width="12.18" height="1.15" fill="#f6e5db"/>
<rect x="137.30" y="405.70" width="12.18" height="1.15" fill="#f6d2bc"/>
<rect x="149.43" y="405.70" width="12.18" height="1.15" fill="#e29274"/>
<rect x="161.55" y="405.70" width="12.18" height="1.15" fill="#f6d7c4"/>
<rect x="173.68" y="405.70" width="12.18" height="1.15" fill="#e59a7d"/>
<rect x="40.30" y="406.80" width="12.18" height="1.15" fill="#afcae6"/>
<rect x="52.42" y="406.80" width="12.18" height="1.15" fill="#c2d7ed"/>
<rect x="64.55" y="406.80" width="12.18" height="1.15" fill="#c1d7ec"/>
<rect x="76.67" y="406.80" width="12.18" height="1.15" fill="#d2e1ef"/>
<rect x="88.80" y="406.80" width="12.18" height="1.15" fill="#dce7f1"/>
<rect x="100.92" y="406.80" width="12.18" height="1.15" fill="#d0e0ef"/>
<rect x="113.05" y="406.80" width="12.18" height="1.15" fill="#e9a68b"/>
<rect x="125.17" y="406.80" width="12.18" height="1.15" fill="#e7a083"/>
<rect x="137.30" y="406.80" width="12.18" height="1.15" fill="#eaac91"/>
<rect x="149.43" y="406.80" width="12.18" height="1.15" fill="#e39476"/>
<rect x="161.55" y="406.80" width="12.18" height="1.15" fill="#efbaa1"/>
<rect x="173.68" y="406.80" width="12.18" height="1.15" fill="#f2c4ac"/>
<rect x="40.30" y="407.90" width="12.18" height="1.15" fill="#9abbdf"/>
<rect x="52.42" y="407.90" width="12.18" height="1.15" fill="#a3c2e2"/>
<rect x="64.55" y="407.90" width="12.18" height="1.15" fill="#abc7e5"/>
<rect x="76.67" y="407.90" width="12.18" height="1.15" fill="#bfd6ec"/>
<rect x="88.80" y="407.90" width="12.18" height="1.15" fill="#d6e3f0"/>
<rect x="100.92" y="407.90" width="12.18" height="1.15" fill="#b3cde8"/>
<rect x="113.05" y="407.90" width="12.18" height="1.15" fill="#e59c7f"/>
<rect x="125.17" y="407.90" width="12.18" height="1.15" fill="#e8a58a"/>
<rect x="137.30" y="407.90" width="12.18" height="1.15" fill="#f4cab2"/>
<rect x="149.43" y="407.90" width="12.18" height="1.15" fill="#f1c1a8"/>
<rect x="161.55" y="407.90" width="12.18" height="1.15" fill="#f2c5ac"/>
<rect x="173.68" y="407.90" width="12.18" height="1.15" fill="#edb49a"/>
<rect x="76.27" y="275.50" width="0.80" height="133.50" fill="#ffffff"/>
<rect x="112.65" y="275.50" width="0.80" height="133.50" fill="#ffffff"/>
<rect x="149.03" y="275.50" width="0.80" height="133.50" fill="#ffffff"/>
<text x="54.40" y="267.38" font-size="6.6" text-anchor="middle" textLength="16.2" lengthAdjust="spacingAndGlyphs" fill="#333">DMSO</text>
<text x="91.60" y="267.38" font-size="6.6" text-anchor="middle" textLength="25.7" lengthAdjust="spacingAndGlyphs" fill="#333">10 nM Gilt.</text>
<text x="128.40" y="267.38" font-size="6.6" text-anchor="middle" textLength="36.7" lengthAdjust="spacingAndGlyphs" fill="#333">20 nM MI-3454</text>
<text x="168.40" y="263.63" font-size="6.6" text-anchor="middle" textLength="36.7" lengthAdjust="spacingAndGlyphs" fill="#333">20 nM MI-3454</text>
<text x="168.60" y="270.38" font-size="6.6" text-anchor="middle" textLength="31.2" lengthAdjust="spacingAndGlyphs" fill="#333">+ 10 nM Gilt.</text>
<defs><linearGradient id="ck" x1="0" x2="1" y1="0" y2="0"><stop offset="0.000" stop-color="#213c7d"/><stop offset="0.125" stop-color="#3c69af"/><stop offset="0.250" stop-color="#78a2d2"/><stop offset="0.375" stop-color="#bed5ec"/><stop offset="0.500" stop-color="#f6f6f6"/><stop offset="0.625" stop-color="#f6d0b9"/><stop offset="0.750" stop-color="#e29173"/><stop offset="0.875" stop-color="#c04b3e"/><stop offset="1.000" stop-color="#87141c"/></linearGradient></defs>
<text x="157.30" y="419.56" font-size="6.0" text-anchor="middle" textLength="21" lengthAdjust="spacingAndGlyphs" fill="#333">Color key</text>
<rect x="137.9" y="421.8" width="38.5" height="11.8" fill="url(#ck)" stroke="#111" stroke-width="1.3"/>
<line x1="143.50" y1="433.60" x2="143.50" y2="436.40" stroke="#222" stroke-width="0.9"/>
<text x="143.50" y="445.16" font-size="6.0" text-anchor="middle" fill="#333">-2</text>
<line x1="150.10" y1="433.60" x2="150.10" y2="436.40" stroke="#222" stroke-width="0.9"/>
<text x="150.10" y="445.16" font-size="6.0" text-anchor="middle" fill="#333">-1</text>
<line x1="157.30" y1="433.60" x2="157.30" y2="436.40" stroke="#222" stroke-width="0.9"/>
<text x="157.30" y="445.16" font-size="6.0" text-anchor="middle" fill="#333">0</text>
<line x1="163.60" y1="433.60" x2="163.60" y2="436.40" stroke="#222" stroke-width="0.9"/>
<text x="163.60" y="445.16" font-size="6.0" text-anchor="middle" fill="#333">1</text>
<line x1="170.20" y1="433.60" x2="170.20" y2="436.40" stroke="#222" stroke-width="0.9"/>
<text x="170.20" y="445.16" font-size="6.0" text-anchor="middle" fill="#333">2</text>
<text x="157.30" y="455.39" font-size="7.2" text-anchor="middle" textLength="30" lengthAdjust="spacingAndGlyphs" fill="#333">Row Z-score</text>
<text x="203" y="256.3" font-size="12" font-weight="bold">H</text>
<path d="M251.47,267.54 L257.07,267.54 L257.07,267.54 L259.57,267.54 L254.27,273.30 L248.97,267.54 L251.47,267.54Z" fill="rgba(70,100,170,0.55)"/>
<path d="M266.30,267.54 L271.90,267.54 L271.90,273.56 L274.40,273.56 L269.10,279.56 L263.80,273.56 L266.30,273.56Z" fill="rgba(110,80,150,0.6)"/>
<path d="M280.40,267.54 L286.00,267.54 L286.00,281.24 L288.50,281.24 L283.20,287.24 L277.90,281.24 L280.40,281.24Z" fill="rgba(140,200,100,0.6)"/>
<line x1="231.50" y1="267.54" x2="290.90" y2="267.54" stroke="#c83a5c" stroke-width="1.2"/>
<line x1="235.50" y1="265.24" x2="235.50" y2="271.38" stroke="#b0103a" stroke-width="1.0"/>
<line x1="234.70" y1="265.24" x2="236.30" y2="265.24" stroke="#b0103a" stroke-width="0.7"/>
<line x1="234.70" y1="271.38" x2="236.30" y2="271.38" stroke="#b0103a" stroke-width="0.7"/>
<path d="M235.50,266.41 L237.10,268.31 L235.50,270.21 L233.90,268.31Z" fill="#b0103a"/>
<line x1="239.80" y1="263.32" x2="239.80" y2="269.46" stroke="#b0103a" stroke-width="1.0"/>
<line x1="239.00" y1="263.32" x2="240.60" y2="263.32" stroke="#b0103a" stroke-width="0.7"/>
<line x1="239.00" y1="269.46" x2="240.60" y2="269.46" stroke="#b0103a" stroke-width="0.7"/>
<path d="M239.80,264.49 L241.40,266.39 L239.80,268.29 L238.20,266.39Z" fill="#b0103a"/>
<line x1="244.20" y1="265.24" x2="244.20" y2="271.38" stroke="#b0103a" stroke-width="1.0"/>
<line x1="243.40" y1="265.24" x2="245.00" y2="265.24" stroke="#b0103a" stroke-width="0.7"/>
<line x1="243.40" y1="271.38" x2="245.00" y2="271.38" stroke="#b0103a" stroke-width="0.7"/>
<path d="M244.20,266.41 L245.80,268.31 L244.20,270.21 L242.60,268.31Z" fill="#b0103a"/>
<line x1="249.90" y1="270.23" x2="249.90" y2="277.13" stroke="#2a5aa0" stroke-width="1.0"/>
<line x1="249.10" y1="270.23" x2="250.70" y2="270.23" stroke="#2a5aa0" stroke-width="0.7"/>
<line x1="249.10" y1="277.13" x2="250.70" y2="277.13" stroke="#2a5aa0" stroke-width="0.7"/>
<path d="M249.90,271.78 L251.50,273.68 L249.90,275.58 L248.30,273.68Z" fill="#2a5aa0"/>
<line x1="254.20" y1="269.07" x2="254.20" y2="275.98" stroke="#2a5aa0" stroke-width="1.0"/>
<line x1="253.40" y1="269.07" x2="255.00" y2="269.07" stroke="#2a5aa0" stroke-width="0.7"/>
<line x1="253.40" y1="275.98" x2="255.00" y2="275.98" stroke="#2a5aa0" stroke-width="0.7"/>
<path d="M254.20,270.63 L255.80,272.53 L254.20,274.43 L252.60,272.53Z" fill="#2a5aa0"/>
<line x1="258.70" y1="270.23" x2="258.70" y2="277.13" stroke="#2a5aa0" stroke-width="1.0"/>
<line x1="257.90" y1="270.23" x2="259.50" y2="270.23" stroke="#2a5aa0" stroke-width="0.7"/>
<line x1="257.90" y1="277.13" x2="259.50" y2="277.13" stroke="#2a5aa0" stroke-width="0.7"/>
<path d="M258.70,271.78 L260.30,273.68 L258.70,275.58 L257.10,273.68Z" fill="#2a5aa0"/>
<line x1="264.90" y1="275.60" x2="264.90" y2="282.51" stroke="#5b2a7c" stroke-width="1.0"/>
<line x1="264.10" y1="275.60" x2="265.70" y2="275.60" stroke="#5b2a7c" stroke-width="0.7"/>
<line x1="264.10" y1="282.51" x2="265.70" y2="282.51" stroke="#5b2a7c" stroke-width="0.7"/>
<path d="M264.90,277.15 L266.50,279.05 L264.90,280.95 L263.30,279.05Z" fill="#5b2a7c"/>
<line x1="269.10" y1="277.13" x2="269.10" y2="284.04" stroke="#5b2a7c" stroke-width="1.0"/>
<line x1="268.30" y1="277.13" x2="269.90" y2="277.13" stroke="#5b2a7c" stroke-width="0.7"/>
<line x1="268.30" y1="284.04" x2="269.90" y2="284.04" stroke="#5b2a7c" stroke-width="0.7"/>
<path d="M269.10,278.69 L270.70,280.59 L269.10,282.49 L267.50,280.59Z" fill="#5b2a7c"/>
<line x1="273.30" y1="275.60" x2="273.30" y2="282.51" stroke="#5b2a7c" stroke-width="1.0"/>
<line x1="272.50" y1="275.60" x2="274.10" y2="275.60" stroke="#5b2a7c" stroke-width="0.7"/>
<line x1="272.50" y1="282.51" x2="274.10" y2="282.51" stroke="#5b2a7c" stroke-width="0.7"/>
<path d="M273.30,277.15 L274.90,279.05 L273.30,280.95 L271.70,279.05Z" fill="#5b2a7c"/>
<line x1="278.90" y1="282.89" x2="278.90" y2="289.80" stroke="#5aaa30" stroke-width="1.0"/>
<line x1="278.10" y1="282.89" x2="279.70" y2="282.89" stroke="#5aaa30" stroke-width="0.7"/>
<line x1="278.10" y1="289.80" x2="279.70" y2="289.80" stroke="#5aaa30" stroke-width="0.7"/>
<path d="M278.90,284.44 L280.50,286.34 L278.90,288.24 L277.30,286.34Z" fill="#5aaa30"/>
<line x1="283.10" y1="284.04" x2="283.10" y2="290.95" stroke="#5aaa30" stroke-width="1.0"/>
<line x1="282.30" y1="284.04" x2="283.90" y2="284.04" stroke="#5aaa30" stroke-width="0.7"/>
<line x1="282.30" y1="290.95" x2="283.90" y2="290.95" stroke="#5aaa30" stroke-width="0.7"/>
<path d="M283.10,285.60 L284.70,287.50 L283.10,289.39 L281.50,287.50Z" fill="#5aaa30"/>
<line x1="287.60" y1="284.43" x2="287.60" y2="291.33" stroke="#5aaa30" stroke-width="1.0"/>
<line x1="286.80" y1="284.43" x2="288.40" y2="284.43" stroke="#5aaa30" stroke-width="0.7"/>
<line x1="286.80" y1="291.33" x2="288.40" y2="291.33" stroke="#5aaa30" stroke-width="0.7"/>
<path d="M287.60,285.98 L289.20,287.88 L287.60,289.78 L286.00,287.88Z" fill="#5aaa30"/>
<rect x="231.50" y="261.40" width="59.40" height="30.70" fill="none" stroke="#111" stroke-width="1.1"/>
<line x1="229.70" y1="292.10" x2="231.50" y2="292.10" stroke="#111" stroke-width="0.8"/>
<text x="228.30" y="293.97" font-size="5.2" text-anchor="end" fill="#333">-2</text>
<line x1="229.70" y1="284.43" x2="231.50" y2="284.43" stroke="#111" stroke-width="0.8"/>
<text x="228.30" y="286.30" font-size="5.2" text-anchor="end" fill="#333">-1</text>
<line x1="229.70" y1="276.75" x2="231.50" y2="276.75" stroke="#111" stroke-width="0.8"/>
<text x="228.30" y="278.62" font-size="5.2" text-anchor="end" fill="#333">0</text>
<line x1="229.70" y1="269.07" x2="231.50" y2="269.07" stroke="#111" stroke-width="0.8"/>
<text x="228.30" y="270.95" font-size="5.2" text-anchor="end" fill="#333">1</text>
<line x1="229.70" y1="261.40" x2="231.50" y2="261.40" stroke="#111" stroke-width="0.8"/>
<text x="228.30" y="263.27" font-size="5.2" text-anchor="end" fill="#333">2</text>
<text x="208.96" y="276.75" font-size="7.4" text-anchor="middle" textLength="24" lengthAdjust="spacingAndGlyphs" fill="#333" transform="rotate(-90 208.96 276.75)">Cluster 5</text>
<text x="216.16" y="276.75" font-size="7.4" text-anchor="middle" textLength="17.4" lengthAdjust="spacingAndGlyphs" fill="#333" transform="rotate(-90 216.16 276.75)">z-score</text>
<path d="M251.47,321.78 L257.07,321.78 L257.07,321.78 L259.57,321.78 L254.27,319.97 L248.97,321.78 L251.47,321.78Z" fill="rgba(70,100,170,0.55)"/>
<path d="M266.30,321.78 L271.90,321.78 L271.90,321.78 L274.40,321.78 L269.10,316.36 L263.80,321.78 L266.30,321.78Z" fill="rgba(110,80,150,0.6)"/>
<path d="M280.40,321.78 L286.00,321.78 L286.00,312.33 L288.50,312.33 L283.20,306.33 L277.90,312.33 L280.40,312.33Z" fill="rgba(140,200,100,0.6)"/>
<line x1="231.50" y1="321.78" x2="290.90" y2="321.78" stroke="#c83a5c" stroke-width="1.2"/>
<line x1="235.50" y1="319.67" x2="235.50" y2="324.49" stroke="#b0103a" stroke-width="1.0"/>
<line x1="234.70" y1="319.67" x2="236.30" y2="319.67" stroke="#b0103a" stroke-width="0.7"/>
<line x1="234.70" y1="324.49" x2="236.30" y2="324.49" stroke="#b0103a" stroke-width="0.7"/>
<path d="M235.50,320.18 L237.10,322.08 L235.50,323.98 L233.90,322.08Z" fill="#b0103a"/>
<line x1="239.80" y1="319.67" x2="239.80" y2="324.49" stroke="#b0103a" stroke-width="1.0"/>
<line x1="239.00" y1="319.67" x2="240.60" y2="319.67" stroke="#b0103a" stroke-width="0.7"/>
<line x1="239.00" y1="324.49" x2="240.60" y2="324.49" stroke="#b0103a" stroke-width="0.7"/>
<path d="M239.80,320.18 L241.40,322.08 L239.80,323.98 L238.20,322.08Z" fill="#b0103a"/>
<line x1="244.20" y1="319.67" x2="244.20" y2="324.49" stroke="#b0103a" stroke-width="1.0"/>
<line x1="243.40" y1="319.67" x2="245.00" y2="319.67" stroke="#b0103a" stroke-width="0.7"/>
<line x1="243.40" y1="324.49" x2="245.00" y2="324.49" stroke="#b0103a" stroke-width="0.7"/>
<path d="M244.20,320.18 L245.80,322.08 L244.20,323.98 L242.60,322.08Z" fill="#b0103a"/>
<line x1="249.90" y1="317.26" x2="249.90" y2="322.68" stroke="#2a5aa0" stroke-width="1.0"/>
<line x1="249.10" y1="317.26" x2="250.70" y2="317.26" stroke="#2a5aa0" stroke-width="0.7"/>
<line x1="249.10" y1="322.68" x2="250.70" y2="322.68" stroke="#2a5aa0" stroke-width="0.7"/>
<path d="M249.90,318.07 L251.50,319.97 L249.90,321.87 L248.30,319.97Z" fill="#2a5aa0"/>
<line x1="254.20" y1="317.26" x2="254.20" y2="322.68" stroke="#2a5aa0" stroke-width="1.0"/>
<line x1="253.40" y1="317.26" x2="255.00" y2="317.26" stroke="#2a5aa0" stroke-width="0.7"/>
<line x1="253.40" y1="322.68" x2="255.00" y2="322.68" stroke="#2a5aa0" stroke-width="0.7"/>
<path d="M254.20,318.07 L255.80,319.97 L254.20,321.87 L252.60,319.97Z" fill="#2a5aa0"/>
<line x1="258.70" y1="317.26" x2="258.70" y2="322.68" stroke="#2a5aa0" stroke-width="1.0"/>
<line x1="257.90" y1="317.26" x2="259.50" y2="317.26" stroke="#2a5aa0" stroke-width="0.7"/>
<line x1="257.90" y1="322.68" x2="259.50" y2="322.68" stroke="#2a5aa0" stroke-width="0.7"/>
<path d="M258.70,318.07 L260.30,319.97 L258.70,321.87 L257.10,319.97Z" fill="#2a5aa0"/>
<line x1="264.90" y1="313.95" x2="264.90" y2="319.37" stroke="#5b2a7c" stroke-width="1.0"/>
<line x1="264.10" y1="313.95" x2="265.70" y2="313.95" stroke="#5b2a7c" stroke-width="0.7"/>
<line x1="264.10" y1="319.37" x2="265.70" y2="319.37" stroke="#5b2a7c" stroke-width="0.7"/>
<path d="M264.90,314.76 L266.50,316.66 L264.90,318.56 L263.30,316.66Z" fill="#5b2a7c"/>
<line x1="269.10" y1="313.05" x2="269.10" y2="318.47" stroke="#5b2a7c" stroke-width="1.0"/>
<line x1="268.30" y1="313.05" x2="269.90" y2="313.05" stroke="#5b2a7c" stroke-width="0.7"/>
<line x1="268.30" y1="318.47" x2="269.90" y2="318.47" stroke="#5b2a7c" stroke-width="0.7"/>
<path d="M269.10,313.86 L270.70,315.76 L269.10,317.66 L267.50,315.76Z" fill="#5b2a7c"/>
<line x1="273.30" y1="313.95" x2="273.30" y2="319.37" stroke="#5b2a7c" stroke-width="1.0"/>
<line x1="272.50" y1="313.95" x2="274.10" y2="313.95" stroke="#5b2a7c" stroke-width="0.7"/>
<line x1="272.50" y1="319.37" x2="274.10" y2="319.37" stroke="#5b2a7c" stroke-width="0.7"/>
<path d="M273.30,314.76 L274.90,316.66 L273.30,318.56 L271.70,316.66Z" fill="#5b2a7c"/>
<line x1="278.90" y1="305.22" x2="278.90" y2="310.64" stroke="#5aaa30" stroke-width="1.0"/>
<line x1="278.10" y1="305.22" x2="279.70" y2="305.22" stroke="#5aaa30" stroke-width="0.7"/>
<line x1="278.10" y1="310.64" x2="279.70" y2="310.64" stroke="#5aaa30" stroke-width="0.7"/>
<path d="M278.90,306.03 L280.50,307.93 L278.90,309.83 L277.30,307.93Z" fill="#5aaa30"/>
<line x1="283.10" y1="304.02" x2="283.10" y2="309.44" stroke="#5aaa30" stroke-width="1.0"/>
<line x1="282.30" y1="304.02" x2="283.90" y2="304.02" stroke="#5aaa30" stroke-width="0.7"/>
<line x1="282.30" y1="309.44" x2="283.90" y2="309.44" stroke="#5aaa30" stroke-width="0.7"/>
<path d="M283.10,304.83 L284.70,306.73 L283.10,308.63 L281.50,306.73Z" fill="#5aaa30"/>
<line x1="287.60" y1="301.61" x2="287.60" y2="307.03" stroke="#5aaa30" stroke-width="1.0"/>
<line x1="286.80" y1="301.61" x2="288.40" y2="301.61" stroke="#5aaa30" stroke-width="0.7"/>
<line x1="286.80" y1="307.03" x2="288.40" y2="307.03" stroke="#5aaa30" stroke-width="0.7"/>
<path d="M287.60,302.42 L289.20,304.32 L287.60,306.22 L286.00,304.32Z" fill="#5aaa30"/>
<rect x="231.50" y="298.30" width="59.40" height="30.10" fill="none" stroke="#111" stroke-width="1.1"/>
<line x1="229.70" y1="328.40" x2="231.50" y2="328.40" stroke="#111" stroke-width="0.8"/>
<text x="228.30" y="330.27" font-size="5.2" text-anchor="end" fill="#333">-2</text>
<line x1="229.70" y1="322.38" x2="231.50" y2="322.38" stroke="#111" stroke-width="0.8"/>
<text x="228.30" y="324.25" font-size="5.2" text-anchor="end" fill="#333">-1</text>
<line x1="229.70" y1="316.36" x2="231.50" y2="316.36" stroke="#111" stroke-width="0.8"/>
<text x="228.30" y="318.23" font-size="5.2" text-anchor="end" fill="#333">0</text>
<line x1="229.70" y1="310.34" x2="231.50" y2="310.34" stroke="#111" stroke-width="0.8"/>
<text x="228.30" y="312.21" font-size="5.2" text-anchor="end" fill="#333">1</text>
<line x1="229.70" y1="304.32" x2="231.50" y2="304.32" stroke="#111" stroke-width="0.8"/>
<text x="228.30" y="306.19" font-size="5.2" text-anchor="end" fill="#333">2</text>
<line x1="229.70" y1="298.30" x2="231.50" y2="298.30" stroke="#111" stroke-width="0.8"/>
<text x="228.30" y="300.17" font-size="5.2" text-anchor="end" fill="#333">3</text>
<text x="208.96" y="313.35" font-size="7.4" text-anchor="middle" textLength="24" lengthAdjust="spacingAndGlyphs" fill="#333" transform="rotate(-90 208.96 313.35)">Cluster 4</text>
<text x="216.16" y="313.35" font-size="7.4" text-anchor="middle" textLength="17.4" lengthAdjust="spacingAndGlyphs" fill="#333" transform="rotate(-90 216.16 313.35)">z-score</text>
<path d="M251.47,344.00 L257.07,344.00 L257.07,348.40 L259.57,348.40 L254.27,354.40 L248.97,348.40 L251.47,348.40Z" fill="rgba(70,100,170,0.55)"/>
<path d="M266.30,344.00 L271.90,344.00 L271.90,346.48 L274.40,346.48 L269.10,352.48 L263.80,346.48 L266.30,346.48Z" fill="rgba(110,80,150,0.6)"/>
<path d="M280.40,344.00 L286.00,344.00 L286.00,352.34 L288.50,352.34 L283.20,358.34 L277.90,352.34 L280.40,352.34Z" fill="rgba(140,200,100,0.6)"/>
<line x1="231.50" y1="344.00" x2="290.90" y2="344.00" stroke="#c83a5c" stroke-width="1.2"/>
<line x1="235.50" y1="341.57" x2="235.50" y2="346.42" stroke="#b0103a" stroke-width="1.0"/>
<line x1="234.70" y1="341.57" x2="236.30" y2="341.57" stroke="#b0103a" stroke-width="0.7"/>
<line x1="234.70" y1="346.42" x2="236.30" y2="346.42" stroke="#b0103a" stroke-width="0.7"/>
<path d="M235.50,342.10 L237.10,344.00 L235.50,345.90 L233.90,344.00Z" fill="#b0103a"/>
<line x1="239.80" y1="341.57" x2="239.80" y2="346.42" stroke="#b0103a" stroke-width="1.0"/>
<line x1="239.00" y1="341.57" x2="240.60" y2="341.57" stroke="#b0103a" stroke-width="0.7"/>
<line x1="239.00" y1="346.42" x2="240.60" y2="346.42" stroke="#b0103a" stroke-width="0.7"/>
<path d="M239.80,342.10 L241.40,344.00 L239.80,345.90 L238.20,344.00Z" fill="#b0103a"/>
<line x1="244.20" y1="341.57" x2="244.20" y2="346.42" stroke="#b0103a" stroke-width="1.0"/>
<line x1="243.40" y1="341.57" x2="245.00" y2="341.57" stroke="#b0103a" stroke-width="0.7"/>
<line x1="243.40" y1="346.42" x2="245.00" y2="346.42" stroke="#b0103a" stroke-width="0.7"/>
<path d="M244.20,342.10 L245.80,344.00 L244.20,345.90 L242.60,344.00Z" fill="#b0103a"/>
<line x1="249.90" y1="351.57" x2="249.90" y2="357.03" stroke="#2a5aa0" stroke-width="1.0"/>
<line x1="249.10" y1="351.57" x2="250.70" y2="351.57" stroke="#2a5aa0" stroke-width="0.7"/>
<line x1="249.10" y1="357.03" x2="250.70" y2="357.03" stroke="#2a5aa0" stroke-width="0.7"/>
<path d="M249.90,352.40 L251.50,354.30 L249.90,356.20 L248.30,354.30Z" fill="#2a5aa0"/>
<line x1="254.20" y1="351.88" x2="254.20" y2="357.33" stroke="#2a5aa0" stroke-width="1.0"/>
<line x1="253.40" y1="351.88" x2="255.00" y2="351.88" stroke="#2a5aa0" stroke-width="0.7"/>
<line x1="253.40" y1="357.33" x2="255.00" y2="357.33" stroke="#2a5aa0" stroke-width="0.7"/>
<path d="M254.20,352.70 L255.80,354.60 L254.20,356.50 L252.60,354.60Z" fill="#2a5aa0"/>
<line x1="258.70" y1="351.57" x2="258.70" y2="357.03" stroke="#2a5aa0" stroke-width="1.0"/>
<line x1="257.90" y1="351.57" x2="259.50" y2="351.57" stroke="#2a5aa0" stroke-width="0.7"/>
<line x1="257.90" y1="357.03" x2="259.50" y2="357.03" stroke="#2a5aa0" stroke-width="0.7"/>
<path d="M258.70,352.40 L260.30,354.30 L258.70,356.20 L257.10,354.30Z" fill="#2a5aa0"/>
<line x1="264.90" y1="349.76" x2="264.90" y2="355.21" stroke="#5b2a7c" stroke-width="1.0"/>
<line x1="264.10" y1="349.76" x2="265.70" y2="349.76" stroke="#5b2a7c" stroke-width="0.7"/>
<line x1="264.10" y1="355.21" x2="265.70" y2="355.21" stroke="#5b2a7c" stroke-width="0.7"/>
<path d="M264.90,350.58 L266.50,352.48 L264.90,354.38 L263.30,352.48Z" fill="#5b2a7c"/>
<line x1="269.10" y1="349.45" x2="269.10" y2="354.91" stroke="#5b2a7c" stroke-width="1.0"/>
<line x1="268.30" y1="349.45" x2="269.90" y2="349.45" stroke="#5b2a7c" stroke-width="0.7"/>
<line x1="268.30" y1="354.91" x2="269.90" y2="354.91" stroke="#5b2a7c" stroke-width="0.7"/>
<path d="M269.10,350.28 L270.70,352.18 L269.10,354.08 L267.50,352.18Z" fill="#5b2a7c"/>
<line x1="273.30" y1="350.06" x2="273.30" y2="355.51" stroke="#5b2a7c" stroke-width="1.0"/>
<line x1="272.50" y1="350.06" x2="274.10" y2="350.06" stroke="#5b2a7c" stroke-width="0.7"/>
<line x1="272.50" y1="355.51" x2="274.10" y2="355.51" stroke="#5b2a7c" stroke-width="0.7"/>
<path d="M273.30,350.89 L274.90,352.79 L273.30,354.69 L271.70,352.79Z" fill="#5b2a7c"/>
<line x1="278.90" y1="355.51" x2="278.90" y2="360.97" stroke="#5aaa30" stroke-width="1.0"/>
<line x1="278.10" y1="355.51" x2="279.70" y2="355.51" stroke="#5aaa30" stroke-width="0.7"/>
<line x1="278.10" y1="360.97" x2="279.70" y2="360.97" stroke="#5aaa30" stroke-width="0.7"/>
<path d="M278.90,356.34 L280.50,358.24 L278.90,360.14 L277.30,358.24Z" fill="#5aaa30"/>
<line x1="283.10" y1="355.82" x2="283.10" y2="361.27" stroke="#5aaa30" stroke-width="1.0"/>
<line x1="282.30" y1="355.82" x2="283.90" y2="355.82" stroke="#5aaa30" stroke-width="0.7"/>
<line x1="282.30" y1="361.27" x2="283.90" y2="361.27" stroke="#5aaa30" stroke-width="0.7"/>
<path d="M283.10,356.64 L284.70,358.54 L283.10,360.44 L281.50,358.54Z" fill="#5aaa30"/>
<line x1="287.60" y1="355.51" x2="287.60" y2="360.97" stroke="#5aaa30" stroke-width="1.0"/>
<line x1="286.80" y1="355.51" x2="288.40" y2="355.51" stroke="#5aaa30" stroke-width="0.7"/>
<line x1="286.80" y1="360.97" x2="288.40" y2="360.97" stroke="#5aaa30" stroke-width="0.7"/>
<path d="M287.60,356.34 L289.20,358.24 L287.60,360.14 L286.00,358.24Z" fill="#5aaa30"/>
<rect x="231.50" y="334.00" width="59.40" height="30.30" fill="none" stroke="#111" stroke-width="1.1"/>
<line x1="229.70" y1="364.30" x2="231.50" y2="364.30" stroke="#111" stroke-width="0.8"/>
<text x="228.30" y="366.17" font-size="5.2" text-anchor="end" fill="#333">-2</text>
<line x1="229.70" y1="358.24" x2="231.50" y2="358.24" stroke="#111" stroke-width="0.8"/>
<text x="228.30" y="360.11" font-size="5.2" text-anchor="end" fill="#333">-1</text>
<line x1="229.70" y1="352.18" x2="231.50" y2="352.18" stroke="#111" stroke-width="0.8"/>
<text x="228.30" y="354.05" font-size="5.2" text-anchor="end" fill="#333">0</text>
<line x1="229.70" y1="346.12" x2="231.50" y2="346.12" stroke="#111" stroke-width="0.8"/>
<text x="228.30" y="347.99" font-size="5.2" text-anchor="end" fill="#333">1</text>
<line x1="229.70" y1="340.06" x2="231.50" y2="340.06" stroke="#111" stroke-width="0.8"/>
<text x="228.30" y="341.93" font-size="5.2" text-anchor="end" fill="#333">2</text>
<line x1="229.70" y1="334.00" x2="231.50" y2="334.00" stroke="#111" stroke-width="0.8"/>
<text x="228.30" y="335.87" font-size="5.2" text-anchor="end" fill="#333">3</text>
<text x="208.96" y="349.15" font-size="7.4" text-anchor="middle" textLength="24" lengthAdjust="spacingAndGlyphs" fill="#333" transform="rotate(-90 208.96 349.15)">Cluster 3</text>
<text x="216.16" y="349.15" font-size="7.4" text-anchor="middle" textLength="17.4" lengthAdjust="spacingAndGlyphs" fill="#333" transform="rotate(-90 216.16 349.15)">z-score</text>
<path d="M251.47,383.07 L257.07,383.07 L257.07,381.90 L259.57,381.90 L254.27,375.90 L248.97,381.90 L251.47,381.90Z" fill="rgba(70,100,170,0.55)"/>
<path d="M266.30,383.07 L271.90,383.07 L271.90,383.12 L274.40,383.12 L269.10,389.12 L263.80,383.12 L266.30,383.12Z" fill="rgba(110,80,150,0.6)"/>
<path d="M280.40,383.07 L286.00,383.07 L286.00,386.55 L288.50,386.55 L283.20,392.55 L277.90,386.55 L280.40,386.55Z" fill="rgba(140,200,100,0.6)"/>
<line x1="231.50" y1="383.07" x2="290.90" y2="383.07" stroke="#c83a5c" stroke-width="1.2"/>
<line x1="235.50" y1="377.04" x2="235.50" y2="388.48" stroke="#b0103a" stroke-width="1.0"/>
<line x1="234.70" y1="377.04" x2="236.30" y2="377.04" stroke="#b0103a" stroke-width="0.7"/>
<line x1="234.70" y1="388.48" x2="236.30" y2="388.48" stroke="#b0103a" stroke-width="0.7"/>
<path d="M235.50,380.86 L237.10,382.76 L235.50,384.66 L233.90,382.76Z" fill="#b0103a"/>
<line x1="239.80" y1="376.66" x2="239.80" y2="388.10" stroke="#b0103a" stroke-width="1.0"/>
<line x1="239.00" y1="376.66" x2="240.60" y2="376.66" stroke="#b0103a" stroke-width="0.7"/>
<line x1="239.00" y1="388.10" x2="240.60" y2="388.10" stroke="#b0103a" stroke-width="0.7"/>
<path d="M239.80,380.48 L241.40,382.38 L239.80,384.28 L238.20,382.38Z" fill="#b0103a"/>
<line x1="244.20" y1="377.43" x2="244.20" y2="388.86" stroke="#b0103a" stroke-width="1.0"/>
<line x1="243.40" y1="377.43" x2="245.00" y2="377.43" stroke="#b0103a" stroke-width="0.7"/>
<line x1="243.40" y1="388.86" x2="245.00" y2="388.86" stroke="#b0103a" stroke-width="0.7"/>
<path d="M244.20,381.24 L245.80,383.14 L244.20,385.04 L242.60,383.14Z" fill="#b0103a"/>
<line x1="249.90" y1="372.85" x2="249.90" y2="379.71" stroke="#2a5aa0" stroke-width="1.0"/>
<line x1="249.10" y1="372.85" x2="250.70" y2="372.85" stroke="#2a5aa0" stroke-width="0.7"/>
<line x1="249.10" y1="379.71" x2="250.70" y2="379.71" stroke="#2a5aa0" stroke-width="0.7"/>
<path d="M249.90,374.38 L251.50,376.28 L249.90,378.18 L248.30,376.28Z" fill="#2a5aa0"/>
<line x1="254.20" y1="371.71" x2="254.20" y2="378.57" stroke="#2a5aa0" stroke-width="1.0"/>
<line x1="253.40" y1="371.71" x2="255.00" y2="371.71" stroke="#2a5aa0" stroke-width="0.7"/>
<line x1="253.40" y1="378.57" x2="255.00" y2="378.57" stroke="#2a5aa0" stroke-width="0.7"/>
<path d="M254.20,373.24 L255.80,375.14 L254.20,377.04 L252.60,375.14Z" fill="#2a5aa0"/>
<line x1="258.70" y1="372.85" x2="258.70" y2="379.71" stroke="#2a5aa0" stroke-width="1.0"/>
<line x1="257.90" y1="372.85" x2="259.50" y2="372.85" stroke="#2a5aa0" stroke-width="0.7"/>
<line x1="257.90" y1="379.71" x2="259.50" y2="379.71" stroke="#2a5aa0" stroke-width="0.7"/>
<path d="M258.70,374.38 L260.30,376.28 L258.70,378.18 L257.10,376.28Z" fill="#2a5aa0"/>
<line x1="264.90" y1="385.81" x2="264.90" y2="392.68" stroke="#5b2a7c" stroke-width="1.0"/>
<line x1="264.10" y1="385.81" x2="265.70" y2="385.81" stroke="#5b2a7c" stroke-width="0.7"/>
<line x1="264.10" y1="392.68" x2="265.70" y2="392.68" stroke="#5b2a7c" stroke-width="0.7"/>
<path d="M264.90,387.34 L266.50,389.24 L264.90,391.14 L263.30,389.24Z" fill="#5b2a7c"/>
<line x1="269.10" y1="386.19" x2="269.10" y2="393.06" stroke="#5b2a7c" stroke-width="1.0"/>
<line x1="268.30" y1="386.19" x2="269.90" y2="386.19" stroke="#5b2a7c" stroke-width="0.7"/>
<line x1="268.30" y1="393.06" x2="269.90" y2="393.06" stroke="#5b2a7c" stroke-width="0.7"/>
<path d="M269.10,387.73 L270.70,389.62 L269.10,391.52 L267.50,389.62Z" fill="#5b2a7c"/>
<line x1="273.30" y1="385.05" x2="273.30" y2="391.91" stroke="#5b2a7c" stroke-width="1.0"/>
<line x1="272.50" y1="385.05" x2="274.10" y2="385.05" stroke="#5b2a7c" stroke-width="0.7"/>
<line x1="272.50" y1="391.91" x2="274.10" y2="391.91" stroke="#5b2a7c" stroke-width="0.7"/>
<path d="M273.30,386.58 L274.90,388.48 L273.30,390.38 L271.70,388.48Z" fill="#5b2a7c"/>
<line x1="278.90" y1="388.86" x2="278.90" y2="395.73" stroke="#5aaa30" stroke-width="1.0"/>
<line x1="278.10" y1="388.86" x2="279.70" y2="388.86" stroke="#5aaa30" stroke-width="0.7"/>
<line x1="278.10" y1="395.73" x2="279.70" y2="395.73" stroke="#5aaa30" stroke-width="0.7"/>
<path d="M278.90,390.39 L280.50,392.29 L278.90,394.19 L277.30,392.29Z" fill="#5aaa30"/>
<line x1="283.10" y1="389.62" x2="283.10" y2="396.49" stroke="#5aaa30" stroke-width="1.0"/>
<line x1="282.30" y1="389.62" x2="283.90" y2="389.62" stroke="#5aaa30" stroke-width="0.7"/>
<line x1="282.30" y1="396.49" x2="283.90" y2="396.49" stroke="#5aaa30" stroke-width="0.7"/>
<path d="M283.10,391.16 L284.70,393.06 L283.10,394.96 L281.50,393.06Z" fill="#5aaa30"/>
<line x1="287.60" y1="388.86" x2="287.60" y2="395.73" stroke="#5aaa30" stroke-width="1.0"/>
<line x1="286.80" y1="388.86" x2="288.40" y2="388.86" stroke="#5aaa30" stroke-width="0.7"/>
<line x1="286.80" y1="395.73" x2="288.40" y2="395.73" stroke="#5aaa30" stroke-width="0.7"/>
<path d="M287.60,390.39 L289.20,392.29 L287.60,394.19 L286.00,392.29Z" fill="#5aaa30"/>
<rect x="231.50" y="369.80" width="59.40" height="30.50" fill="none" stroke="#111" stroke-width="1.1"/>
<line x1="229.70" y1="400.30" x2="231.50" y2="400.30" stroke="#111" stroke-width="0.8"/>
<text x="228.30" y="402.17" font-size="5.2" text-anchor="end" fill="#333">-2</text>
<line x1="229.70" y1="392.68" x2="231.50" y2="392.68" stroke="#111" stroke-width="0.8"/>
<text x="228.30" y="394.55" font-size="5.2" text-anchor="end" fill="#333">-1</text>
<line x1="229.70" y1="385.05" x2="231.50" y2="385.05" stroke="#111" stroke-width="0.8"/>
<text x="228.30" y="386.92" font-size="5.2" text-anchor="end" fill="#333">0</text>
<line x1="229.70" y1="377.43" x2="231.50" y2="377.43" stroke="#111" stroke-width="0.8"/>
<text x="228.30" y="379.30" font-size="5.2" text-anchor="end" fill="#333">1</text>
<line x1="229.70" y1="369.80" x2="231.50" y2="369.80" stroke="#111" stroke-width="0.8"/>
<text x="228.30" y="371.67" font-size="5.2" text-anchor="end" fill="#333">2</text>
<text x="208.96" y="385.05" font-size="7.4" text-anchor="middle" textLength="24" lengthAdjust="spacingAndGlyphs" fill="#333" transform="rotate(-90 208.96 385.05)">Cluster 2</text>
<text x="216.16" y="385.05" font-size="7.4" text-anchor="middle" textLength="17.4" lengthAdjust="spacingAndGlyphs" fill="#333" transform="rotate(-90 216.16 385.05)">z-score</text>
<path d="M251.47,429.96 L257.07,429.96 L257.07,429.96 L259.57,429.96 L254.27,426.29 L248.97,429.96 L251.47,429.96Z" fill="rgba(70,100,170,0.55)"/>
<path d="M266.30,429.96 L271.90,429.96 L271.90,421.51 L274.40,421.51 L269.10,415.51 L263.80,421.51 L266.30,421.51Z" fill="rgba(110,80,150,0.6)"/>
<path d="M280.40,429.96 L286.00,429.96 L286.00,420.36 L288.50,420.36 L283.20,414.36 L277.90,420.36 L280.40,420.36Z" fill="rgba(140,200,100,0.6)"/>
<line x1="231.50" y1="429.96" x2="290.90" y2="429.96" stroke="#c83a5c" stroke-width="1.2"/>
<line x1="235.50" y1="426.88" x2="235.50" y2="433.04" stroke="#b0103a" stroke-width="1.0"/>
<line x1="234.70" y1="426.88" x2="236.30" y2="426.88" stroke="#b0103a" stroke-width="0.7"/>
<line x1="234.70" y1="433.04" x2="236.30" y2="433.04" stroke="#b0103a" stroke-width="0.7"/>
<path d="M235.50,428.06 L237.10,429.96 L235.50,431.86 L233.90,429.96Z" fill="#b0103a"/>
<line x1="239.80" y1="426.88" x2="239.80" y2="433.04" stroke="#b0103a" stroke-width="1.0"/>
<line x1="239.00" y1="426.88" x2="240.60" y2="426.88" stroke="#b0103a" stroke-width="0.7"/>
<line x1="239.00" y1="433.04" x2="240.60" y2="433.04" stroke="#b0103a" stroke-width="0.7"/>
<path d="M239.80,428.06 L241.40,429.96 L239.80,431.86 L238.20,429.96Z" fill="#b0103a"/>
<line x1="244.20" y1="426.88" x2="244.20" y2="433.04" stroke="#b0103a" stroke-width="1.0"/>
<line x1="243.40" y1="426.88" x2="245.00" y2="426.88" stroke="#b0103a" stroke-width="0.7"/>
<line x1="243.40" y1="433.04" x2="245.00" y2="433.04" stroke="#b0103a" stroke-width="0.7"/>
<path d="M244.20,428.06 L245.80,429.96 L244.20,431.86 L242.60,429.96Z" fill="#b0103a"/>
<line x1="249.90" y1="422.95" x2="249.90" y2="429.88" stroke="#2a5aa0" stroke-width="1.0"/>
<line x1="249.10" y1="422.95" x2="250.70" y2="422.95" stroke="#2a5aa0" stroke-width="0.7"/>
<line x1="249.10" y1="429.88" x2="250.70" y2="429.88" stroke="#2a5aa0" stroke-width="0.7"/>
<path d="M249.90,424.52 L251.50,426.42 L249.90,428.32 L248.30,426.42Z" fill="#2a5aa0"/>
<line x1="254.20" y1="422.57" x2="254.20" y2="429.50" stroke="#2a5aa0" stroke-width="1.0"/>
<line x1="253.40" y1="422.57" x2="255.00" y2="422.57" stroke="#2a5aa0" stroke-width="0.7"/>
<line x1="253.40" y1="429.50" x2="255.00" y2="429.50" stroke="#2a5aa0" stroke-width="0.7"/>
<path d="M254.20,424.13 L255.80,426.03 L254.20,427.93 L252.60,426.03Z" fill="#2a5aa0"/>
<line x1="258.70" y1="422.95" x2="258.70" y2="429.88" stroke="#2a5aa0" stroke-width="1.0"/>
<line x1="257.90" y1="422.95" x2="259.50" y2="422.95" stroke="#2a5aa0" stroke-width="0.7"/>
<line x1="257.90" y1="429.88" x2="259.50" y2="429.88" stroke="#2a5aa0" stroke-width="0.7"/>
<path d="M258.70,424.52 L260.30,426.42 L258.70,428.32 L257.10,426.42Z" fill="#2a5aa0"/>
<line x1="264.90" y1="412.56" x2="264.90" y2="419.49" stroke="#5b2a7c" stroke-width="1.0"/>
<line x1="264.10" y1="412.56" x2="265.70" y2="412.56" stroke="#5b2a7c" stroke-width="0.7"/>
<line x1="264.10" y1="419.49" x2="265.70" y2="419.49" stroke="#5b2a7c" stroke-width="0.7"/>
<path d="M264.90,414.12 L266.50,416.02 L264.90,417.92 L263.30,416.02Z" fill="#5b2a7c"/>
<line x1="269.10" y1="411.79" x2="269.10" y2="418.72" stroke="#5b2a7c" stroke-width="1.0"/>
<line x1="268.30" y1="411.79" x2="269.90" y2="411.79" stroke="#5b2a7c" stroke-width="0.7"/>
<line x1="268.30" y1="418.72" x2="269.90" y2="418.72" stroke="#5b2a7c" stroke-width="0.7"/>
<path d="M269.10,413.36 L270.70,415.25 L269.10,417.15 L267.50,415.25Z" fill="#5b2a7c"/>
<line x1="273.30" y1="411.79" x2="273.30" y2="418.72" stroke="#5b2a7c" stroke-width="1.0"/>
<line x1="272.50" y1="411.79" x2="274.10" y2="411.79" stroke="#5b2a7c" stroke-width="0.7"/>
<line x1="272.50" y1="418.72" x2="274.10" y2="418.72" stroke="#5b2a7c" stroke-width="0.7"/>
<path d="M273.30,413.36 L274.90,415.25 L273.30,417.15 L271.70,415.25Z" fill="#5b2a7c"/>
<line x1="278.90" y1="410.25" x2="278.90" y2="417.18" stroke="#5aaa30" stroke-width="1.0"/>
<line x1="278.10" y1="410.25" x2="279.70" y2="410.25" stroke="#5aaa30" stroke-width="0.7"/>
<line x1="278.10" y1="417.18" x2="279.70" y2="417.18" stroke="#5aaa30" stroke-width="0.7"/>
<path d="M278.90,411.81 L280.50,413.71 L278.90,415.61 L277.30,413.71Z" fill="#5aaa30"/>
<line x1="283.10" y1="411.40" x2="283.10" y2="418.33" stroke="#5aaa30" stroke-width="1.0"/>
<line x1="282.30" y1="411.40" x2="283.90" y2="411.40" stroke="#5aaa30" stroke-width="0.7"/>
<line x1="282.30" y1="418.33" x2="283.90" y2="418.33" stroke="#5aaa30" stroke-width="0.7"/>
<path d="M283.10,412.97 L284.70,414.87 L283.10,416.77 L281.50,414.87Z" fill="#5aaa30"/>
<line x1="287.60" y1="411.02" x2="287.60" y2="417.95" stroke="#5aaa30" stroke-width="1.0"/>
<line x1="286.80" y1="411.02" x2="288.40" y2="411.02" stroke="#5aaa30" stroke-width="0.7"/>
<line x1="286.80" y1="417.95" x2="288.40" y2="417.95" stroke="#5aaa30" stroke-width="0.7"/>
<path d="M287.60,412.58 L289.20,414.48 L287.60,416.38 L286.00,414.48Z" fill="#5aaa30"/>
<rect x="231.50" y="406.40" width="59.40" height="30.80" fill="none" stroke="#111" stroke-width="1.1"/>
<line x1="229.70" y1="437.20" x2="231.50" y2="437.20" stroke="#111" stroke-width="0.8"/>
<text x="228.30" y="439.07" font-size="5.2" text-anchor="end" fill="#333">-2</text>
<line x1="229.70" y1="429.50" x2="231.50" y2="429.50" stroke="#111" stroke-width="0.8"/>
<text x="228.30" y="431.37" font-size="5.2" text-anchor="end" fill="#333">-1</text>
<line x1="229.70" y1="421.80" x2="231.50" y2="421.80" stroke="#111" stroke-width="0.8"/>
<text x="228.30" y="423.67" font-size="5.2" text-anchor="end" fill="#333">0</text>
<line x1="229.70" y1="414.10" x2="231.50" y2="414.10" stroke="#111" stroke-width="0.8"/>
<text x="228.30" y="415.97" font-size="5.2" text-anchor="end" fill="#333">1</text>
<line x1="229.70" y1="406.40" x2="231.50" y2="406.40" stroke="#111" stroke-width="0.8"/>
<text x="228.30" y="408.27" font-size="5.2" text-anchor="end" fill="#333">2</text>
<text x="208.96" y="421.80" font-size="7.4" text-anchor="middle" textLength="24" lengthAdjust="spacingAndGlyphs" fill="#333" transform="rotate(-90 208.96 421.80)">Cluster 1</text>
<text x="216.16" y="421.80" font-size="7.4" text-anchor="middle" textLength="17.4" lengthAdjust="spacingAndGlyphs" fill="#333" transform="rotate(-90 216.16 421.80)">z-score</text>
<text x="243.50" y="442.00" font-size="5.8" fill="#333" text-anchor="end" textLength="16" lengthAdjust="spacingAndGlyphs" transform="rotate(-45 243.50 442.00)">DMSO</text>
<text x="257.50" y="442.00" font-size="5.8" fill="#333" text-anchor="end" textLength="11" lengthAdjust="spacingAndGlyphs" transform="rotate(-45 257.50 442.00)">Gilt.</text>
<text x="273.00" y="442.00" font-size="5.8" fill="#333" text-anchor="end" textLength="21" lengthAdjust="spacingAndGlyphs" transform="rotate(-45 273.00 442.00)">MI-3454</text>
<text x="288.00" y="442.00" font-size="5.8" fill="#333" text-anchor="end" textLength="21" lengthAdjust="spacingAndGlyphs" transform="rotate(-45 288.00 442.00)">MI-3454</text>
<text x="289.50" y="449.50" font-size="5.8" fill="#333" text-anchor="end" textLength="15" lengthAdjust="spacingAndGlyphs" transform="rotate(-45 289.50 449.50)">+ Gilt.</text>
<rect x="310.90" y="248.20" width="2.10" height="7.60" fill="#000"/>
<line x1="333.00" y1="309.80" x2="440.00" y2="309.80" stroke="#c9c9c9" stroke-width="1.0"/>
<line x1="333.00" y1="313.50" x2="440.00" y2="313.50" stroke="#c9c9c9" stroke-width="1.0"/>
<line x1="333.00" y1="317.50" x2="440.00" y2="317.50" stroke="#c9c9c9" stroke-width="1.0"/>
<line x1="336.00" y1="259.20" x2="336.00" y2="310.40" stroke="#1a1a1a" stroke-width="1.3"/>
<line x1="336.00" y1="312.70" x2="336.00" y2="314.30" stroke="#1a1a1a" stroke-width="1.3"/>
<line x1="336.00" y1="316.80" x2="336.00" y2="365.50" stroke="#1a1a1a" stroke-width="1.3"/>
<line x1="369.50" y1="259.20" x2="369.50" y2="310.40" stroke="#1a1a1a" stroke-width="1.3"/>
<line x1="369.50" y1="312.70" x2="369.50" y2="314.30" stroke="#1a1a1a" stroke-width="1.3"/>
<line x1="369.50" y1="316.80" x2="369.50" y2="365.50" stroke="#1a1a1a" stroke-width="1.3"/>
<line x1="403.30" y1="259.20" x2="403.30" y2="310.40" stroke="#1a1a1a" stroke-width="1.3"/>
<line x1="403.30" y1="312.70" x2="403.30" y2="314.30" stroke="#1a1a1a" stroke-width="1.3"/>
<line x1="403.30" y1="316.80" x2="403.30" y2="365.50" stroke="#1a1a1a" stroke-width="1.3"/>
<line x1="436.40" y1="259.20" x2="436.40" y2="310.40" stroke="#1a1a1a" stroke-width="1.3"/>
<line x1="436.40" y1="312.70" x2="436.40" y2="314.30" stroke="#1a1a1a" stroke-width="1.3"/>
<line x1="436.40" y1="316.80" x2="436.40" y2="365.50" stroke="#1a1a1a" stroke-width="1.3"/>
<line x1="333.20" y1="275.40" x2="336.00" y2="275.40" stroke="#1a1a1a" stroke-width="0.9"/>
<text x="330.80" y="277.67" font-size="6.3" text-anchor="end" fill="#333">2.0</text>
<line x1="333.20" y1="294.30" x2="336.00" y2="294.30" stroke="#1a1a1a" stroke-width="0.9"/>
<text x="330.80" y="296.57" font-size="6.3" text-anchor="end" fill="#333">1.5</text>
<line x1="333.20" y1="332.40" x2="336.00" y2="332.40" stroke="#1a1a1a" stroke-width="0.9"/>
<text x="330.80" y="334.67" font-size="6.3" text-anchor="end" fill="#333">-1.5</text>
<line x1="333.20" y1="351.00" x2="336.00" y2="351.00" stroke="#1a1a1a" stroke-width="0.9"/>
<text x="330.80" y="353.27" font-size="6.3" text-anchor="end" fill="#333">-2.0</text>
<text x="330.80" y="311.36" font-size="6.0" text-anchor="end" fill="#333">1.1</text>
<text x="332.20" y="315.66" font-size="6.0" text-anchor="end" fill="#333">0</text>
<text x="330.80" y="319.76" font-size="6.0" text-anchor="end" fill="#333">-1.1</text>
<text x="313.72" y="312.00" font-size="7.0" text-anchor="middle" textLength="77" lengthAdjust="spacingAndGlyphs" fill="#333" transform="rotate(-90 313.72 312.00)">Normalized enrichment score</text>
<circle cx="339.70" cy="263.80" r="2.00" fill="rgba(175,25,65,0.68)"/>
<circle cx="363.50" cy="266.20" r="2.50" fill="rgba(175,25,65,0.68)"/>
<circle cx="345.00" cy="285.80" r="2.00" fill="rgba(175,25,65,0.68)"/>
<circle cx="345.00" cy="291.50" r="2.00" fill="rgba(175,25,65,0.68)"/>
<circle cx="358.40" cy="285.50" r="2.30" fill="rgba(175,25,65,0.68)"/>
<circle cx="373.40" cy="273.80" r="1.60" fill="rgba(100,170,60,0.62)"/>
<circle cx="383.80" cy="276.10" r="1.70" fill="rgba(100,170,60,0.62)"/>
<circle cx="415.50" cy="265.20" r="2.50" fill="rgba(175,25,65,0.68)"/>
<circle cx="427.00" cy="277.00" r="2.30" fill="rgba(175,25,65,0.68)"/>
<circle cx="432.50" cy="299.30" r="2.10" fill="rgba(175,25,65,0.68)"/>
<circle cx="342.10" cy="329.30" r="2.30" fill="rgba(120,175,230,0.6)"/>
<circle cx="355.00" cy="338.20" r="2.40" fill="rgba(100,170,60,0.62)"/>
<circle cx="359.60" cy="342.20" r="2.40" fill="rgba(100,170,60,0.62)"/>
<circle cx="363.80" cy="341.20" r="2.50" fill="rgba(120,175,230,0.6)"/>
<circle cx="362.80" cy="341.40" r="2.30" fill="rgba(100,170,60,0.62)"/>
<circle cx="353.30" cy="346.00" r="2.30" fill="rgba(120,175,230,0.6)"/>
<circle cx="373.40" cy="342.00" r="2.50" fill="rgba(120,175,230,0.6)"/>
<circle cx="385.40" cy="333.50" r="1.80" fill="rgba(120,175,230,0.6)"/>
<circle cx="382.50" cy="339.00" r="1.60" fill="rgba(120,175,230,0.6)"/>
<circle cx="386.70" cy="339.00" r="2.70" fill="rgba(100,170,60,0.62)"/>
<circle cx="391.30" cy="343.70" r="2.00" fill="rgba(175,25,65,0.68)"/>
<circle cx="393.50" cy="345.00" r="2.50" fill="rgba(100,170,60,0.62)"/>
<circle cx="398.80" cy="341.20" r="2.70" fill="rgba(100,170,60,0.62)"/>
<circle cx="387.80" cy="349.20" r="2.80" fill="rgba(175,25,65,0.68)"/>
<circle cx="380.80" cy="351.30" r="2.80" fill="rgba(100,170,60,0.62)"/>
<circle cx="380.80" cy="351.30" r="2.60" fill="rgba(175,25,65,0.68)"/>
<circle cx="398.30" cy="356.00" r="2.70" fill="rgba(100,170,60,0.62)"/>
<circle cx="416.70" cy="331.60" r="2.50" fill="rgba(100,170,60,0.62)"/>
<circle cx="422.00" cy="334.80" r="3.00" fill="rgba(120,175,230,0.6)"/>
<circle cx="428.40" cy="333.80" r="2.70" fill="rgba(100,170,60,0.62)"/>
<circle cx="420.50" cy="332.00" r="2.70" fill="rgba(175,25,65,0.68)"/>
<circle cx="410.80" cy="335.90" r="2.70" fill="rgba(175,25,65,0.68)"/>
<circle cx="410.40" cy="342.20" r="2.80" fill="rgba(120,175,230,0.6)"/>
<circle cx="412.50" cy="341.20" r="2.80" fill="rgba(175,25,65,0.68)"/>
<circle cx="424.10" cy="340.00" r="3.00" fill="rgba(100,170,60,0.62)"/>
<circle cx="418.90" cy="347.50" r="3.00" fill="rgba(100,170,60,0.62)"/>
<circle cx="429.40" cy="346.40" r="3.00" fill="rgba(120,175,230,0.6)"/>
<circle cx="425.60" cy="347.10" r="3.20" fill="rgba(175,25,65,0.68)"/>
<circle cx="431.10" cy="353.40" r="2.80" fill="rgba(100,170,60,0.62)"/>
<circle cx="425.20" cy="353.80" r="3.00" fill="rgba(120,175,230,0.6)"/>
<circle cx="406.60" cy="354.90" r="3.00" fill="rgba(100,170,60,0.62)"/>
<circle cx="410.40" cy="356.40" r="3.00" fill="rgba(120,175,230,0.6)"/>
<circle cx="416.70" cy="358.00" r="3.00" fill="rgba(100,170,60,0.62)"/>
<circle cx="423.10" cy="361.30" r="3.00" fill="rgba(100,170,60,0.62)"/>
<circle cx="426.30" cy="357.00" r="2.80" fill="rgba(100,170,60,0.62)"/>
<circle cx="417.40" cy="353.40" r="3.20" fill="rgba(175,25,65,0.68)"/>
<circle cx="414.00" cy="350.00" r="2.60" fill="rgba(100,170,60,0.62)"/>
<circle cx="421.00" cy="344.00" r="2.40" fill="rgba(100,170,60,0.62)"/>
<circle cx="415.00" cy="356.00" r="3.20" fill="rgba(175,25,65,0.68)"/>
<circle cx="431.00" cy="349.00" r="2.80" fill="rgba(120,175,230,0.6)"/>
<circle cx="433.00" cy="356.50" r="2.60" fill="rgba(100,170,60,0.62)"/>
<circle cx="408.50" cy="361.00" r="2.60" fill="rgba(100,170,60,0.62)"/>
<circle cx="426.00" cy="362.00" r="2.80" fill="rgba(100,170,60,0.62)"/>
<circle cx="419.00" cy="360.50" r="2.80" fill="rgba(120,175,230,0.6)"/>
<text x="351.90" y="376.32" font-size="7.0" text-anchor="middle" textLength="24.2" lengthAdjust="spacingAndGlyphs" fill="#333">MI-3454</text>
<text x="383.90" y="376.32" font-size="7.0" text-anchor="middle" textLength="12.2" lengthAdjust="spacingAndGlyphs" fill="#333">Gilt.</text>
<text x="420.00" y="376.32" font-size="7.0" text-anchor="middle" textLength="24" lengthAdjust="spacingAndGlyphs" fill="#333">MI-3454</text>
<text x="420.00" y="384.12" font-size="7.0" text-anchor="middle" textLength="18" lengthAdjust="spacingAndGlyphs" fill="#333">+ Gilt.</text>
<text x="349.70" y="399.42" font-size="7.0" text-anchor="middle" textLength="44.6" lengthAdjust="spacingAndGlyphs" fill="#333">-log(p adjusted)</text>
<circle cx="333.70" cy="406.10" r="1.50" fill="#8c90a2"/>
<circle cx="343.20" cy="406.10" r="2.20" fill="#8c90a2"/>
<circle cx="353.30" cy="406.10" r="2.80" fill="#8c90a2"/>
<circle cx="363.40" cy="406.10" r="3.30" fill="#8c90a2"/>
<text x="333.50" y="416.42" font-size="7.0" text-anchor="middle" textLength="9.5" lengthAdjust="spacingAndGlyphs" fill="#333">2.5</text>
<text x="364.30" y="416.42" font-size="7.0" text-anchor="middle" textLength="10.5" lengthAdjust="spacingAndGlyphs" fill="#333">4.0</text>
<path d="M341.2,412.5 L352.5,412.5 L352.5,410.2 L357.5,413.8 L352.5,417.4 L352.5,415.1 L341.2,415.1Z" fill="#8c90a2"/>
<text x="388.50" y="399.42" font-size="7.0" textLength="49.8" lengthAdjust="spacingAndGlyphs" fill="#333">type of gene sets</text>
<circle cx="397.10" cy="408.10" r="3.20" fill="rgba(175,25,65,0.68)"/>
<text x="402.90" y="410.62" font-size="7.0" textLength="40.3" lengthAdjust="spacingAndGlyphs" fill="#333">differentiation</text>
<circle cx="397.10" cy="418.50" r="3.20" fill="rgba(100,170,60,0.62)"/>
<text x="402.90" y="421.02" font-size="7.0" textLength="36" lengthAdjust="spacingAndGlyphs" fill="#333">MYC targets</text>
<circle cx="397.10" cy="428.60" r="3.20" fill="rgba(120,175,230,0.6)"/>
<text x="402.90" y="431.12" font-size="7.0" textLength="26.8" lengthAdjust="spacingAndGlyphs" fill="#333">stemness</text>
<text x="8.2" y="482.2" font-size="12" font-weight="bold">J</text>
<line x1="34.60" y1="495.50" x2="105.50" y2="495.50" stroke="#ebebeb" stroke-width="0.6"/>
<line x1="34.60" y1="503.10" x2="105.50" y2="503.10" stroke="#ebebeb" stroke-width="0.6"/>
<line x1="34.60" y1="511.10" x2="105.50" y2="511.10" stroke="#ebebeb" stroke-width="0.6"/>
<line x1="34.60" y1="519.20" x2="105.50" y2="519.20" stroke="#ebebeb" stroke-width="0.6"/>
<line x1="34.60" y1="527.20" x2="105.50" y2="527.20" stroke="#ebebeb" stroke-width="0.6"/>
<line x1="34.60" y1="535.30" x2="105.50" y2="535.30" stroke="#ebebeb" stroke-width="0.6"/>
<line x1="34.60" y1="543.30" x2="105.50" y2="543.30" stroke="#ebebeb" stroke-width="0.6"/>
<line x1="37.80" y1="492.30" x2="37.80" y2="544.80" stroke="#ebebeb" stroke-width="0.6"/>
<line x1="62.30" y1="492.30" x2="62.30" y2="544.80" stroke="#ebebeb" stroke-width="0.6"/>
<line x1="86.60" y1="492.30" x2="86.60" y2="544.80" stroke="#ebebeb" stroke-width="0.6"/>
<line x1="42.02" y1="500.20" x2="42.02" y2="506.30" stroke="rgba(0,0,0,0.8)" stroke-width="0.55"/>
<line x1="43.95" y1="500.20" x2="43.95" y2="506.30" stroke="rgba(0,0,0,0.8)" stroke-width="0.55"/>
<line x1="49.54" y1="500.20" x2="49.54" y2="506.30" stroke="rgba(0,0,0,0.8)" stroke-width="0.55"/>
<line x1="45.49" y1="500.20" x2="45.49" y2="506.30" stroke="rgba(0,0,0,0.8)" stroke-width="0.55"/>
<line x1="44.16" y1="500.20" x2="44.16" y2="506.30" stroke="rgba(0,0,0,0.8)" stroke-width="0.55"/>
<line x1="47.31" y1="500.20" x2="47.31" y2="506.30" stroke="rgba(0,0,0,0.8)" stroke-width="0.55"/>
<line x1="38.01" y1="500.20" x2="38.01" y2="506.30" stroke="rgba(0,0,0,0.8)" stroke-width="0.55"/>
<line x1="41.07" y1="500.20" x2="41.07" y2="506.30" stroke="rgba(0,0,0,0.8)" stroke-width="0.55"/>
<line x1="40.52" y1="500.20" x2="40.52" y2="506.30" stroke="rgba(0,0,0,0.8)" stroke-width="0.55"/>
<line x1="45.27" y1="500.20" x2="45.27" y2="506.30" stroke="rgba(0,0,0,0.8)" stroke-width="0.55"/>
<line x1="42.56" y1="500.20" x2="42.56" y2="506.30" stroke="rgba(0,0,0,0.8)" stroke-width="0.55"/>
<line x1="48.17" y1="500.20" x2="48.17" y2="506.30" stroke="rgba(0,0,0,0.8)" stroke-width="0.55"/>
<line x1="48.09" y1="500.20" x2="48.09" y2="506.30" stroke="rgba(0,0,0,0.8)" stroke-width="0.55"/>
<line x1="41.86" y1="500.20" x2="41.86" y2="506.30" stroke="rgba(0,0,0,0.8)" stroke-width="0.55"/>
<line x1="43.16" y1="500.20" x2="43.16" y2="506.30" stroke="rgba(0,0,0,0.8)" stroke-width="0.55"/>
<line x1="40.65" y1="500.20" x2="40.65" y2="506.30" stroke="rgba(0,0,0,0.8)" stroke-width="0.55"/>
<line x1="38.06" y1="500.20" x2="38.06" y2="506.30" stroke="rgba(0,0,0,0.8)" stroke-width="0.55"/>
<line x1="42.70" y1="500.20" x2="42.70" y2="506.30" stroke="rgba(0,0,0,0.8)" stroke-width="0.55"/>
<line x1="43.69" y1="500.20" x2="43.69" y2="506.30" stroke="rgba(0,0,0,0.8)" stroke-width="0.55"/>
<line x1="42.01" y1="500.20" x2="42.01" y2="506.30" stroke="rgba(0,0,0,0.8)" stroke-width="0.55"/>
<line x1="38.77" y1="500.20" x2="38.77" y2="506.30" stroke="rgba(0,0,0,0.8)" stroke-width="0.55"/>
<line x1="39.78" y1="500.20" x2="39.78" y2="506.30" stroke="rgba(0,0,0,0.8)" stroke-width="0.55"/>
<line x1="58.87" y1="500.20" x2="58.87" y2="506.30" stroke="rgba(0,0,0,0.8)" stroke-width="0.55"/>
<line x1="53.27" y1="500.20" x2="53.27" y2="506.30" stroke="rgba(0,0,0,0.8)" stroke-width="0.55"/>
<line x1="73.95" y1="500.20" x2="73.95" y2="506.30" stroke="rgba(0,0,0,0.8)" stroke-width="0.55"/>
<line x1="55.16" y1="500.20" x2="55.16" y2="506.30" stroke="rgba(0,0,0,0.8)" stroke-width="0.55"/>
<line x1="55.86" y1="500.20" x2="55.86" y2="506.30" stroke="rgba(0,0,0,0.8)" stroke-width="0.55"/>
<line x1="87.50" y1="500.20" x2="87.50" y2="506.30" stroke="rgba(0,0,0,0.8)" stroke-width="0.55"/>
<line x1="88.56" y1="500.20" x2="88.56" y2="506.30" stroke="rgba(0,0,0,0.8)" stroke-width="0.55"/>
<line x1="70.97" y1="500.20" x2="70.97" y2="506.30" stroke="rgba(0,0,0,0.8)" stroke-width="0.55"/>
<line x1="72.97" y1="500.20" x2="72.97" y2="506.30" stroke="rgba(0,0,0,0.8)" stroke-width="0.55"/>
<line x1="59.44" y1="500.20" x2="59.44" y2="506.30" stroke="rgba(0,0,0,0.8)" stroke-width="0.55"/>
<line x1="82.84" y1="500.20" x2="82.84" y2="506.30" stroke="rgba(0,0,0,0.8)" stroke-width="0.55"/>
<line x1="70.68" y1="500.20" x2="70.68" y2="506.30" stroke="rgba(0,0,0,0.8)" stroke-width="0.55"/>
<line x1="55.47" y1="500.20" x2="55.47" y2="506.30" stroke="rgba(0,0,0,0.8)" stroke-width="0.55"/>
<line x1="77.69" y1="500.20" x2="77.69" y2="506.30" stroke="rgba(0,0,0,0.8)" stroke-width="0.55"/>
<line x1="56.63" y1="500.20" x2="56.63" y2="506.30" stroke="rgba(0,0,0,0.8)" stroke-width="0.55"/>
<line x1="53.91" y1="500.20" x2="53.91" y2="506.30" stroke="rgba(0,0,0,0.8)" stroke-width="0.55"/>
<line x1="56.94" y1="500.20" x2="56.94" y2="506.30" stroke="rgba(0,0,0,0.8)" stroke-width="0.55"/>
<line x1="62.99" y1="500.20" x2="62.99" y2="506.30" stroke="rgba(0,0,0,0.8)" stroke-width="0.55"/>
<line x1="93.03" y1="500.20" x2="93.03" y2="506.30" stroke="rgba(0,0,0,0.8)" stroke-width="0.55"/>
<line x1="92.36" y1="500.20" x2="92.36" y2="506.30" stroke="rgba(0,0,0,0.8)" stroke-width="0.55"/>
<line x1="98.77" y1="500.20" x2="98.77" y2="506.30" stroke="rgba(0,0,0,0.8)" stroke-width="0.55"/>
<line x1="96.18" y1="500.20" x2="96.18" y2="506.30" stroke="rgba(0,0,0,0.8)" stroke-width="0.55"/>
<line x1="96.09" y1="500.20" x2="96.09" y2="506.30" stroke="rgba(0,0,0,0.8)" stroke-width="0.55"/>
<line x1="91.20" y1="500.20" x2="91.20" y2="506.30" stroke="rgba(0,0,0,0.8)" stroke-width="0.55"/>
<line x1="97.38" y1="500.20" x2="97.38" y2="506.30" stroke="rgba(0,0,0,0.8)" stroke-width="0.55"/>
<line x1="93.91" y1="500.20" x2="93.91" y2="506.30" stroke="rgba(0,0,0,0.8)" stroke-width="0.55"/>
<line x1="92.43" y1="500.20" x2="92.43" y2="506.30" stroke="rgba(0,0,0,0.8)" stroke-width="0.55"/>
<line x1="95.66" y1="500.20" x2="95.66" y2="506.30" stroke="rgba(0,0,0,0.8)" stroke-width="0.55"/>
<line x1="95.73" y1="500.20" x2="95.73" y2="506.30" stroke="rgba(0,0,0,0.8)" stroke-width="0.55"/>
<line x1="98.96" y1="500.20" x2="98.96" y2="506.30" stroke="rgba(0,0,0,0.8)" stroke-width="0.55"/>
<line x1="97.97" y1="500.20" x2="97.97" y2="506.30" stroke="rgba(0,0,0,0.8)" stroke-width="0.55"/>
<line x1="96.29" y1="500.20" x2="96.29" y2="506.30" stroke="rgba(0,0,0,0.8)" stroke-width="0.55"/>
<line x1="93.20" y1="500.20" x2="93.20" y2="506.30" stroke="rgba(0,0,0,0.8)" stroke-width="0.55"/>
<line x1="99.52" y1="500.20" x2="99.52" y2="506.30" stroke="rgba(0,0,0,0.8)" stroke-width="0.55"/>
<line x1="97.27" y1="500.20" x2="97.27" y2="506.30" stroke="rgba(0,0,0,0.8)" stroke-width="0.55"/>
<line x1="92.78" y1="500.20" x2="92.78" y2="506.30" stroke="rgba(0,0,0,0.8)" stroke-width="0.55"/>
<line x1="100.46" y1="500.20" x2="100.46" y2="506.30" stroke="rgba(0,0,0,0.8)" stroke-width="0.55"/>
<line x1="99.25" y1="500.20" x2="99.25" y2="506.30" stroke="rgba(0,0,0,0.8)" stroke-width="0.55"/>
<line x1="91.44" y1="500.20" x2="91.44" y2="506.30" stroke="rgba(0,0,0,0.8)" stroke-width="0.55"/>
<line x1="91.36" y1="500.20" x2="91.36" y2="506.30" stroke="rgba(0,0,0,0.8)" stroke-width="0.55"/>
<line x1="97.38" y1="500.20" x2="97.38" y2="506.30" stroke="rgba(0,0,0,0.8)" stroke-width="0.55"/>
<line x1="89.94" y1="500.20" x2="89.94" y2="506.30" stroke="rgba(0,0,0,0.8)" stroke-width="0.55"/>
<line x1="98.66" y1="500.20" x2="98.66" y2="506.30" stroke="rgba(0,0,0,0.8)" stroke-width="0.55"/>
<line x1="99.91" y1="500.20" x2="99.91" y2="506.30" stroke="rgba(0,0,0,0.8)" stroke-width="0.55"/>
<line x1="95.26" y1="500.20" x2="95.26" y2="506.30" stroke="rgba(0,0,0,0.8)" stroke-width="0.55"/>
<line x1="96.32" y1="500.20" x2="96.32" y2="506.30" stroke="rgba(0,0,0,0.8)" stroke-width="0.55"/>
<line x1="95.79" y1="500.20" x2="95.79" y2="506.30" stroke="rgba(0,0,0,0.8)" stroke-width="0.55"/>
<line x1="96.51" y1="500.20" x2="96.51" y2="506.30" stroke="rgba(0,0,0,0.8)" stroke-width="0.55"/>
<line x1="93.32" y1="500.20" x2="93.32" y2="506.30" stroke="rgba(0,0,0,0.8)" stroke-width="0.55"/>
<line x1="91.49" y1="500.20" x2="91.49" y2="506.30" stroke="rgba(0,0,0,0.8)" stroke-width="0.55"/>
<line x1="97.03" y1="500.20" x2="97.03" y2="506.30" stroke="rgba(0,0,0,0.8)" stroke-width="0.55"/>
<line x1="95.61" y1="500.20" x2="95.61" y2="506.30" stroke="rgba(0,0,0,0.8)" stroke-width="0.55"/>
<line x1="98.67" y1="500.20" x2="98.67" y2="506.30" stroke="rgba(0,0,0,0.8)" stroke-width="0.55"/>
<line x1="91.83" y1="500.20" x2="91.83" y2="506.30" stroke="rgba(0,0,0,0.8)" stroke-width="0.55"/>
<line x1="99.44" y1="500.20" x2="99.44" y2="506.30" stroke="rgba(0,0,0,0.8)" stroke-width="0.55"/>
<line x1="91.54" y1="500.20" x2="91.54" y2="506.30" stroke="rgba(0,0,0,0.8)" stroke-width="0.55"/>
<line x1="93.32" y1="500.20" x2="93.32" y2="506.30" stroke="rgba(0,0,0,0.8)" stroke-width="0.55"/>
<line x1="100.39" y1="500.20" x2="100.39" y2="506.30" stroke="rgba(0,0,0,0.8)" stroke-width="0.55"/>
<line x1="101.03" y1="500.20" x2="101.03" y2="506.30" stroke="rgba(0,0,0,0.8)" stroke-width="0.55"/>
<line x1="102.26" y1="500.20" x2="102.26" y2="506.30" stroke="rgba(0,0,0,0.8)" stroke-width="0.55"/>
<line x1="101.44" y1="500.20" x2="101.44" y2="506.30" stroke="rgba(0,0,0,0.8)" stroke-width="0.55"/>
<line x1="34.60" y1="503.10" x2="105.50" y2="503.10" stroke="#111" stroke-width="0.9"/>
<line x1="34.60" y1="495.50" x2="105.50" y2="495.50" stroke="#e8403c" stroke-width="0.8" stroke-dasharray="2,1.6"/>
<line x1="34.60" y1="543.30" x2="105.50" y2="543.30" stroke="#e8403c" stroke-width="0.8" stroke-dasharray="2,1.6"/>
<polyline points="37.80,503.00 38.30,498.50 39.50,497.00 41.00,496.30 43.00,495.30 45.00,495.60 47.00,496.20 49.00,497.30 51.00,499.00 53.00,501.20 55.00,503.50 60.00,509.70 70.00,521.80 80.00,533.60 86.00,540.60 88.50,543.00 89.60,543.30 91.00,541.80 92.50,538.50 94.00,533.00 95.50,526.00 97.00,517.00 98.20,512.50 99.30,511.20 100.30,507.50 101.00,504.00 101.60,502.50" fill="none" stroke="#78bd3c" stroke-width="1.1" stroke-linejoin="round"/>
<line x1="34.60" y1="492.30" x2="34.60" y2="545.50" stroke="#111" stroke-width="1.3"/>
<line x1="34.00" y1="544.80" x2="105.50" y2="544.80" stroke="#111" stroke-width="1.3"/>
<line x1="32.60" y1="495.50" x2="34.60" y2="495.50" stroke="#111" stroke-width="0.8"/>
<text x="30.20" y="497.44" font-size="5.4" text-anchor="end" fill="#333">0.1</text>
<line x1="32.60" y1="503.10" x2="34.60" y2="503.10" stroke="#111" stroke-width="0.8"/>
<text x="30.20" y="505.04" font-size="5.4" text-anchor="end" fill="#333">0.0</text>
<line x1="32.60" y1="511.10" x2="34.60" y2="511.10" stroke="#111" stroke-width="0.8"/>
<text x="30.20" y="513.04" font-size="5.4" text-anchor="end" fill="#333">-0.1</text>
<line x1="32.60" y1="519.20" x2="34.60" y2="519.20" stroke="#111" stroke-width="0.8"/>
<text x="30.20" y="521.14" font-size="5.4" text-anchor="end" fill="#333">-0.2</text>
<line x1="32.60" y1="527.20" x2="34.60" y2="527.20" stroke="#111" stroke-width="0.8"/>
<text x="30.20" y="529.14" font-size="5.4" text-anchor="end" fill="#333">-0.3</text>
<line x1="32.60" y1="535.30" x2="34.60" y2="535.30" stroke="#111" stroke-width="0.8"/>
<text x="30.20" y="537.24" font-size="5.4" text-anchor="end" fill="#333">-0.4</text>
<line x1="32.60" y1="543.30" x2="34.60" y2="543.30" stroke="#111" stroke-width="0.8"/>
<text x="30.20" y="545.24" font-size="5.4" text-anchor="end" fill="#333">-0.5</text>
<line x1="37.80" y1="544.80" x2="37.80" y2="546.80" stroke="#111" stroke-width="0.8"/>
<text x="37.80" y="555.92" font-size="5.6" text-anchor="middle" fill="#333">0</text>
<line x1="62.30" y1="544.80" x2="62.30" y2="546.80" stroke="#111" stroke-width="0.8"/>
<text x="62.30" y="555.92" font-size="5.6" text-anchor="middle" fill="#333">5000</text>
<line x1="86.60" y1="544.80" x2="86.60" y2="546.80" stroke="#111" stroke-width="0.8"/>
<text x="86.60" y="555.92" font-size="5.6" text-anchor="middle" fill="#333">10000</text>
<text x="70.60" y="485.81" font-size="7.8" text-anchor="middle" textLength="27.5" lengthAdjust="spacingAndGlyphs" fill="#333">MI-3454</text>
<text x="13.82" y="518.30" font-size="7.0" text-anchor="middle" textLength="44.6" lengthAdjust="spacingAndGlyphs" fill="#333" transform="rotate(-90 13.82 518.30)">Enrichment score</text>
<text x="70.60" y="566.96" font-size="7.4" text-anchor="middle" textLength="14" lengthAdjust="spacingAndGlyphs" fill="#333">Rank</text>
<text x="54.10" y="577.06" font-size="6.0" fill="#333">p</text>
<text x="57.10" y="579.05" font-size="3.2" fill="#333">adj</text>
<text x="62.10" y="577.59" font-size="5.8" textLength="15.5" lengthAdjust="spacingAndGlyphs" fill="#333">= 0.04</text>
<text x="54.10" y="586.09" font-size="5.8" textLength="26" lengthAdjust="spacingAndGlyphs" fill="#333">ES = - 0.49</text>
<text x="54.10" y="594.49" font-size="5.8" textLength="28.8" lengthAdjust="spacingAndGlyphs" fill="#333">NES = -1.64</text>
<rect x="116.80" y="476.70" width="4.38" height="4.01" fill="#77a1d2"/>
<rect x="121.13" y="476.70" width="4.38" height="4.01" fill="#a8c5e4"/>
<rect x="125.47" y="476.70" width="4.38" height="4.01" fill="#a9c6e4"/>
<rect x="129.80" y="476.70" width="4.38" height="4.01" fill="#d16f59"/>
<rect x="134.13" y="476.70" width="4.38" height="4.01" fill="#f6ece5"/>
<rect x="138.47" y="476.70" width="4.38" height="4.01" fill="#d77a61"/>
<rect x="116.80" y="480.66" width="4.38" height="4.01" fill="#b3cde8"/>
<rect x="121.13" y="480.66" width="4.38" height="4.01" fill="#c1d7ec"/>
<rect x="125.47" y="480.66" width="4.38" height="4.01" fill="#608bc4"/>
<rect x="129.80" y="480.66" width="4.38" height="4.01" fill="#e5997c"/>
<rect x="134.13" y="480.66" width="4.38" height="4.01" fill="#d87c63"/>
<rect x="138.47" y="480.66" width="4.38" height="4.01" fill="#c45445"/>
<rect x="116.80" y="484.61" width="4.38" height="4.01" fill="#d3e1f0"/>
<rect x="121.13" y="484.61" width="4.38" height="4.01" fill="#bdd5ec"/>
<rect x="125.47" y="484.61" width="4.38" height="4.01" fill="#82aad6"/>
<rect x="129.80" y="484.61" width="4.38" height="4.01" fill="#cb614f"/>
<rect x="134.13" y="484.61" width="4.38" height="4.01" fill="#87141c"/>
<rect x="138.47" y="484.61" width="4.38" height="4.01" fill="#de896d"/>
<rect x="116.80" y="488.57" width="4.38" height="4.01" fill="#87add7"/>
<rect x="121.13" y="488.57" width="4.38" height="4.01" fill="#749ed0"/>
<rect x="125.47" y="488.57" width="4.38" height="4.01" fill="#89afd8"/>
<rect x="129.80" y="488.57" width="4.38" height="4.01" fill="#bf4a3d"/>
<rect x="134.13" y="488.57" width="4.38" height="4.01" fill="#f1c0a7"/>
<rect x="138.47" y="488.57" width="4.38" height="4.01" fill="#d77961"/>
<rect x="116.80" y="492.53" width="4.38" height="4.01" fill="#acc8e5"/>
<rect x="121.13" y="492.53" width="4.38" height="4.01" fill="#b3cde8"/>
<rect x="125.47" y="492.53" width="4.38" height="4.01" fill="#acc8e5"/>
<rect x="129.80" y="492.53" width="4.38" height="4.01" fill="#bc473c"/>
<rect x="134.13" y="492.53" width="4.38" height="4.01" fill="#f0f3f5"/>
<rect x="138.47" y="492.53" width="4.38" height="4.01" fill="#ba453b"/>
<rect x="116.80" y="496.49" width="4.38" height="4.01" fill="#719cce"/>
<rect x="121.13" y="496.49" width="4.38" height="4.01" fill="#95b7dd"/>
<rect x="125.47" y="496.49" width="4.38" height="4.01" fill="#5883bf"/>
<rect x="129.80" y="496.49" width="4.38" height="4.01" fill="#c35243"/>
<rect x="134.13" y="496.49" width="4.38" height="4.01" fill="#f6d7c4"/>
<rect x="138.47" y="496.49" width="4.38" height="4.01" fill="#cd6652"/>
<rect x="116.80" y="500.44" width="4.38" height="4.01" fill="#f6f2f0"/>
<rect x="121.13" y="500.44" width="4.38" height="4.01" fill="#99bade"/>
<rect x="125.47" y="500.44" width="4.38" height="4.01" fill="#a3c2e2"/>
<rect x="129.80" y="500.44" width="4.38" height="4.01" fill="#e59b7e"/>
<rect x="134.13" y="500.44" width="4.38" height="4.01" fill="#f0bca3"/>
<rect x="138.47" y="500.44" width="4.38" height="4.01" fill="#bc483c"/>
<rect x="116.80" y="504.40" width="4.38" height="4.01" fill="#9fbee0"/>
<rect x="121.13" y="504.40" width="4.38" height="4.01" fill="#a8c5e4"/>
<rect x="125.47" y="504.40" width="4.38" height="4.01" fill="#8aafd9"/>
<rect x="129.80" y="504.40" width="4.38" height="4.01" fill="#df8a6e"/>
<rect x="134.13" y="504.40" width="4.38" height="4.01" fill="#dc866a"/>
<rect x="138.47" y="504.40" width="4.38" height="4.01" fill="#eaab90"/>
<rect x="116.80" y="508.36" width="4.38" height="4.01" fill="#dce7f1"/>
<rect x="121.13" y="508.36" width="4.38" height="4.01" fill="#89afd8"/>
<rect x="125.47" y="508.36" width="4.38" height="4.01" fill="#9ebee0"/>
<rect x="129.80" y="508.36" width="4.38" height="4.01" fill="#c35243"/>
<rect x="134.13" y="508.36" width="4.38" height="4.01" fill="#cf6a56"/>
<rect x="138.47" y="508.36" width="4.38" height="4.01" fill="#e69e81"/>
<rect x="116.80" y="512.31" width="4.38" height="4.01" fill="#c4d8ed"/>
<rect x="121.13" y="512.31" width="4.38" height="4.01" fill="#97b8dd"/>
<rect x="125.47" y="512.31" width="4.38" height="4.01" fill="#b2cce8"/>
<rect x="129.80" y="512.31" width="4.38" height="4.01" fill="#a93530"/>
<rect x="134.13" y="512.31" width="4.38" height="4.01" fill="#e7a185"/>
<rect x="138.47" y="512.31" width="4.38" height="4.01" fill="#eaa98e"/>
<rect x="116.80" y="516.27" width="4.38" height="4.01" fill="#bdd4ec"/>
<rect x="121.13" y="516.27" width="4.38" height="4.01" fill="#abc7e5"/>
<rect x="125.47" y="516.27" width="4.38" height="4.01" fill="#bfd6ec"/>
<rect x="129.80" y="516.27" width="4.38" height="4.01" fill="#ce6753"/>
<rect x="134.13" y="516.27" width="4.38" height="4.01" fill="#dd866b"/>
<rect x="138.47" y="516.27" width="4.38" height="4.01" fill="#c35143"/>
<rect x="116.80" y="520.23" width="4.38" height="4.01" fill="#acc8e5"/>
<rect x="121.13" y="520.23" width="4.38" height="4.01" fill="#a2c1e2"/>
<rect x="125.47" y="520.23" width="4.38" height="4.01" fill="#8cb1da"/>
<rect x="129.80" y="520.23" width="4.38" height="4.01" fill="#d4745d"/>
<rect x="134.13" y="520.23" width="4.38" height="4.01" fill="#f6e0d2"/>
<rect x="138.47" y="520.23" width="4.38" height="4.01" fill="#e29173"/>
<rect x="116.80" y="524.19" width="4.38" height="4.01" fill="#b7d0e9"/>
<rect x="121.13" y="524.19" width="4.38" height="4.01" fill="#ccddef"/>
<rect x="125.47" y="524.19" width="4.38" height="4.01" fill="#a8c5e4"/>
<rect x="129.80" y="524.19" width="4.38" height="4.01" fill="#962225"/>
<rect x="134.13" y="524.19" width="4.38" height="4.01" fill="#d5775f"/>
<rect x="138.47" y="524.19" width="4.38" height="4.01" fill="#ba463b"/>
<rect x="116.80" y="528.14" width="4.38" height="4.01" fill="#a8c5e4"/>
<rect x="121.13" y="528.14" width="4.38" height="4.01" fill="#b6cfe9"/>
<rect x="125.47" y="528.14" width="4.38" height="4.01" fill="#c3d8ed"/>
<rect x="129.80" y="528.14" width="4.38" height="4.01" fill="#cc6451"/>
<rect x="134.13" y="528.14" width="4.38" height="4.01" fill="#f6d4bf"/>
<rect x="138.47" y="528.14" width="4.38" height="4.01" fill="#87141c"/>
<rect x="116.80" y="532.10" width="4.38" height="4.01" fill="#abc7e5"/>
<rect x="121.13" y="532.10" width="4.38" height="4.01" fill="#bdd4ec"/>
<rect x="125.47" y="532.10" width="4.38" height="4.01" fill="#a5c2e3"/>
<rect x="129.80" y="532.10" width="4.38" height="4.01" fill="#e29274"/>
<rect x="134.13" y="532.10" width="4.38" height="4.01" fill="#87141c"/>
<rect x="138.47" y="532.10" width="4.38" height="4.01" fill="#87141c"/>
<rect x="116.80" y="536.06" width="4.38" height="4.01" fill="#a8c5e4"/>
<rect x="121.13" y="536.06" width="4.38" height="4.01" fill="#b5cfe9"/>
<rect x="125.47" y="536.06" width="4.38" height="4.01" fill="#8aafd9"/>
<rect x="129.80" y="536.06" width="4.38" height="4.01" fill="#db8469"/>
<rect x="134.13" y="536.06" width="4.38" height="4.01" fill="#ecb197"/>
<rect x="138.47" y="536.06" width="4.38" height="4.01" fill="#c85b4a"/>
<rect x="116.80" y="540.01" width="4.38" height="4.01" fill="#c7daee"/>
<rect x="121.13" y="540.01" width="4.38" height="4.01" fill="#b4cee8"/>
<rect x="125.47" y="540.01" width="4.38" height="4.01" fill="#88aed8"/>
<rect x="129.80" y="540.01" width="4.38" height="4.01" fill="#88151d"/>
<rect x="134.13" y="540.01" width="4.38" height="4.01" fill="#f6d6c3"/>
<rect x="138.47" y="540.01" width="4.38" height="4.01" fill="#b54037"/>
<rect x="116.80" y="543.97" width="4.38" height="4.01" fill="#c7daee"/>
<rect x="121.13" y="543.97" width="4.38" height="4.01" fill="#91b4db"/>
<rect x="125.47" y="543.97" width="4.38" height="4.01" fill="#4e7aba"/>
<rect x="129.80" y="543.97" width="4.38" height="4.01" fill="#dc856a"/>
<rect x="134.13" y="543.97" width="4.38" height="4.01" fill="#e59b7e"/>
<rect x="138.47" y="543.97" width="4.38" height="4.01" fill="#c25042"/>
<rect x="116.80" y="547.93" width="4.38" height="4.01" fill="#d3e1f0"/>
<rect x="121.13" y="547.93" width="4.38" height="4.01" fill="#78a2d2"/>
<rect x="125.47" y="547.93" width="4.38" height="4.01" fill="#86acd7"/>
<rect x="129.80" y="547.93" width="4.38" height="4.01" fill="#a83430"/>
<rect x="134.13" y="547.93" width="4.38" height="4.01" fill="#edb49a"/>
<rect x="138.47" y="547.93" width="4.38" height="4.01" fill="#f6f5f4"/>
<rect x="116.80" y="551.89" width="4.38" height="4.01" fill="#bed5ec"/>
<rect x="121.13" y="551.89" width="4.38" height="4.01" fill="#e3ebf3"/>
<rect x="125.47" y="551.89" width="4.38" height="4.01" fill="#a9c6e4"/>
<rect x="129.80" y="551.89" width="4.38" height="4.01" fill="#dc856a"/>
<rect x="134.13" y="551.89" width="4.38" height="4.01" fill="#f2c4ac"/>
<rect x="138.47" y="551.89" width="4.38" height="4.01" fill="#cd6552"/>
<rect x="116.80" y="555.84" width="4.38" height="4.01" fill="#edf1f4"/>
<rect x="121.13" y="555.84" width="4.38" height="4.01" fill="#b1cbe7"/>
<rect x="125.47" y="555.84" width="4.38" height="4.01" fill="#8aafd9"/>
<rect x="129.80" y="555.84" width="4.38" height="4.01" fill="#87141c"/>
<rect x="134.13" y="555.84" width="4.38" height="4.01" fill="#ecaf95"/>
<rect x="138.47" y="555.84" width="4.38" height="4.01" fill="#87141c"/>
<rect x="116.80" y="559.80" width="4.38" height="4.01" fill="#8aafd9"/>
<rect x="121.13" y="559.80" width="4.38" height="4.01" fill="#8aafd9"/>
<rect x="125.47" y="559.80" width="4.38" height="4.01" fill="#9fbfe1"/>
<rect x="129.80" y="559.80" width="4.38" height="4.01" fill="#87141c"/>
<rect x="134.13" y="559.80" width="4.38" height="4.01" fill="#d97f66"/>
<rect x="138.47" y="559.80" width="4.38" height="4.01" fill="#ca604e"/>
<rect x="116.80" y="563.76" width="4.38" height="4.01" fill="#6590c7"/>
<rect x="121.13" y="563.76" width="4.38" height="4.01" fill="#82a9d6"/>
<rect x="125.47" y="563.76" width="4.38" height="4.01" fill="#729cce"/>
<rect x="129.80" y="563.76" width="4.38" height="4.01" fill="#d2705a"/>
<rect x="134.13" y="563.76" width="4.38" height="4.01" fill="#dc8469"/>
<rect x="138.47" y="563.76" width="4.38" height="4.01" fill="#e08c70"/>
<rect x="116.80" y="567.71" width="4.38" height="4.01" fill="#bed5ec"/>
<rect x="121.13" y="567.71" width="4.38" height="4.01" fill="#9ebee0"/>
<rect x="125.47" y="567.71" width="4.38" height="4.01" fill="#7aa4d3"/>
<rect x="129.80" y="567.71" width="4.38" height="4.01" fill="#c04b3e"/>
<rect x="134.13" y="567.71" width="4.38" height="4.01" fill="#e18f71"/>
<rect x="138.47" y="567.71" width="4.38" height="4.01" fill="#b13d35"/>
<rect x="116.80" y="571.67" width="4.38" height="4.01" fill="#91b4db"/>
<rect x="121.13" y="571.67" width="4.38" height="4.01" fill="#93b6dc"/>
<rect x="125.47" y="571.67" width="4.38" height="4.01" fill="#5b87c1"/>
<rect x="129.80" y="571.67" width="4.38" height="4.01" fill="#87141c"/>
<rect x="134.13" y="571.67" width="4.38" height="4.01" fill="#bd483c"/>
<rect x="138.47" y="571.67" width="4.38" height="4.01" fill="#da8267"/>
<rect x="116.80" y="575.63" width="4.38" height="4.01" fill="#91b4db"/>
<rect x="121.13" y="575.63" width="4.38" height="4.01" fill="#719bce"/>
<rect x="125.47" y="575.63" width="4.38" height="4.01" fill="#8cb1d9"/>
<rect x="129.80" y="575.63" width="4.38" height="4.01" fill="#bc473c"/>
<rect x="134.13" y="575.63" width="4.38" height="4.01" fill="#932023"/>
<rect x="138.47" y="575.63" width="4.38" height="4.01" fill="#cc6451"/>
<rect x="116.80" y="579.59" width="4.38" height="4.01" fill="#87add7"/>
<rect x="121.13" y="579.59" width="4.38" height="4.01" fill="#4d79b9"/>
<rect x="125.47" y="579.59" width="4.38" height="4.01" fill="#b7d0ea"/>
<rect x="129.80" y="579.59" width="4.38" height="4.01" fill="#bd483c"/>
<rect x="134.13" y="579.59" width="4.38" height="4.01" fill="#f5f6f6"/>
<rect x="138.47" y="579.59" width="4.38" height="4.01" fill="#ce6854"/>
<rect x="116.80" y="583.54" width="4.38" height="4.01" fill="#6c96cb"/>
<rect x="121.13" y="583.54" width="4.38" height="4.01" fill="#f6f2f0"/>
<rect x="125.47" y="583.54" width="4.38" height="4.01" fill="#adc9e6"/>
<rect x="129.80" y="583.54" width="4.38" height="4.01" fill="#ac3732"/>
<rect x="134.13" y="583.54" width="4.38" height="4.01" fill="#eeb59b"/>
<rect x="138.47" y="583.54" width="4.38" height="4.01" fill="#f6ece6"/>
<rect x="116.80" y="587.50" width="4.38" height="4.01" fill="#9ebde0"/>
<rect x="121.13" y="587.50" width="4.38" height="4.01" fill="#6792c8"/>
<rect x="125.47" y="587.50" width="4.38" height="4.01" fill="#9bbbdf"/>
<rect x="129.80" y="587.50" width="4.38" height="4.01" fill="#f2c4ac"/>
<rect x="134.13" y="587.50" width="4.38" height="4.01" fill="#f6dccc"/>
<rect x="138.47" y="587.50" width="4.38" height="4.01" fill="#9d2929"/>
<rect x="116.80" y="591.46" width="4.38" height="4.01" fill="#d6e3f0"/>
<rect x="121.13" y="591.46" width="4.38" height="4.01" fill="#739dcf"/>
<rect x="125.47" y="591.46" width="4.38" height="4.01" fill="#5682be"/>
<rect x="129.80" y="591.46" width="4.38" height="4.01" fill="#9e2a29"/>
<rect x="134.13" y="591.46" width="4.38" height="4.01" fill="#d3715b"/>
<rect x="138.47" y="591.46" width="4.38" height="4.01" fill="#eeb69c"/>
<rect x="116.80" y="595.41" width="4.38" height="4.01" fill="#8aafd9"/>
<rect x="121.13" y="595.41" width="4.38" height="4.01" fill="#83aad6"/>
<rect x="125.47" y="595.41" width="4.38" height="4.01" fill="#608cc4"/>
<rect x="129.80" y="595.41" width="4.38" height="4.01" fill="#d67860"/>
<rect x="134.13" y="595.41" width="4.38" height="4.01" fill="#c55546"/>
<rect x="138.47" y="595.41" width="4.38" height="4.01" fill="#bb463b"/>
<rect x="116.80" y="599.37" width="4.38" height="4.01" fill="#e1eaf2"/>
<rect x="121.13" y="599.37" width="4.38" height="4.01" fill="#98b9de"/>
<rect x="125.47" y="599.37" width="4.38" height="4.01" fill="#81a9d5"/>
<rect x="129.80" y="599.37" width="4.38" height="4.01" fill="#de896d"/>
<rect x="134.13" y="599.37" width="4.38" height="4.01" fill="#ecb298"/>
<rect x="138.47" y="599.37" width="4.38" height="4.01" fill="#f4cbb3"/>
<rect x="116.80" y="603.33" width="4.38" height="4.01" fill="#6792c8"/>
<rect x="121.13" y="603.33" width="4.38" height="4.01" fill="#b3cde8"/>
<rect x="125.47" y="603.33" width="4.38" height="4.01" fill="#b8d1ea"/>
<rect x="129.80" y="603.33" width="4.38" height="4.01" fill="#a02c2b"/>
<rect x="134.13" y="603.33" width="4.38" height="4.01" fill="#c25042"/>
<rect x="138.47" y="603.33" width="4.38" height="4.01" fill="#cc6350"/>
<rect x="116.80" y="607.29" width="4.38" height="4.01" fill="#89aed8"/>
<rect x="121.13" y="607.29" width="4.38" height="4.01" fill="#9ebee0"/>
<rect x="125.47" y="607.29" width="4.38" height="4.01" fill="#79a3d2"/>
<rect x="129.80" y="607.29" width="4.38" height="4.01" fill="#e29072"/>
<rect x="134.13" y="607.29" width="4.38" height="4.01" fill="#f1f3f5"/>
<rect x="138.47" y="607.29" width="4.38" height="4.01" fill="#f6d3be"/>
<rect x="116.80" y="611.24" width="4.38" height="4.01" fill="#a2c0e2"/>
<rect x="121.13" y="611.24" width="4.38" height="4.01" fill="#a0bfe1"/>
<rect x="125.47" y="611.24" width="4.38" height="4.01" fill="#76a0d1"/>
<rect x="129.80" y="611.24" width="4.38" height="4.01" fill="#87141c"/>
<rect x="134.13" y="611.24" width="4.38" height="4.01" fill="#e69f82"/>
<rect x="138.47" y="611.24" width="4.38" height="4.01" fill="#c14c3f"/>
<text x="144.80" y="480.23" font-size="4.3">SUTRK6</text>
<text x="144.80" y="484.18" font-size="4.3">TGM2</text>
<text x="144.80" y="488.14" font-size="4.3">COL5A1</text>
<text x="144.80" y="492.10" font-size="4.3">COL8A2</text>
<text x="144.80" y="496.06" font-size="4.3">PFKM</text>
<text x="144.80" y="500.01" font-size="4.3">PLD6</text>
<text x="144.80" y="503.97" font-size="4.3">FAM86B1</text>
<text x="144.80" y="507.93" font-size="4.3">PRR5</text>
<text x="144.80" y="511.88" font-size="4.3">MCOLN2</text>
<text x="144.80" y="515.84" font-size="4.3">NOP2</text>
<text x="144.80" y="519.80" font-size="4.3">ABL2</text>
<text x="144.80" y="523.76" font-size="4.3">NOL6</text>
<text x="144.80" y="527.71" font-size="4.3">MICAL1</text>
<text x="144.80" y="531.67" font-size="4.3">CCDC86</text>
<text x="144.80" y="535.63" font-size="4.3">PLAU</text>
<text x="144.80" y="539.58" font-size="4.3">ALDH1B1</text>
<text x="144.80" y="543.54" font-size="4.3">SUPV3L1</text>
<text x="144.80" y="547.50" font-size="4.3">GEMIN5</text>
<text x="144.80" y="551.46" font-size="4.3">AGPAT5</text>
<text x="144.80" y="555.41" font-size="4.3">RCL1</text>
<text x="144.80" y="559.37" font-size="4.3">TFB2M</text>
<text x="144.80" y="563.33" font-size="4.3">XPO5</text>
<text x="144.80" y="567.28" font-size="4.3">BCS1L</text>
<text x="144.80" y="571.24" font-size="4.3">RRP9</text>
<text x="144.80" y="575.20" font-size="4.3">PAICS</text>
<text x="144.80" y="579.16" font-size="4.3">MON1A</text>
<text x="144.80" y="583.11" font-size="4.3">HSPD1</text>
<text x="144.80" y="587.07" font-size="4.3">IRF9</text>
<text x="144.80" y="591.03" font-size="4.3">NLE1</text>
<text x="144.80" y="594.98" font-size="4.3">TWNK</text>
<text x="144.80" y="598.94" font-size="4.3">MYC</text>
<text x="144.80" y="602.90" font-size="4.3">WDR74</text>
<text x="144.80" y="606.86" font-size="4.3">BOP1</text>
<text x="144.80" y="610.81" font-size="4.3">NOLC1</text>
<text x="144.80" y="614.77" font-size="4.3">HK2</text>
<path d="M165.30,597.39 L168.90,595.09 L168.30,596.84 L172.70,596.84 L172.70,597.94 L168.30,597.94 L168.90,599.69Z" fill="#111"/>
<text x="126.30" y="621.00" font-size="6.0" fill="#333" text-anchor="end" textLength="18.5" lengthAdjust="spacingAndGlyphs" transform="rotate(-45 126.30 621.00)">MI-3454</text>
<text x="138.40" y="620.00" font-size="6.0" fill="#333" text-anchor="end" textLength="15" lengthAdjust="spacingAndGlyphs" transform="rotate(-45 138.40 620.00)">DMSO</text>
<rect x="23.2" y="607.9" width="31.5" height="8.7" fill="url(#ck)" stroke="#111" stroke-width="1.3"/>
<line x1="30.30" y1="616.60" x2="30.30" y2="619.60" stroke="#222" stroke-width="0.8"/>
<text x="30.30" y="627.33" font-size="4.8" text-anchor="middle" fill="#333">-1</text>
<line x1="38.90" y1="616.60" x2="38.90" y2="619.60" stroke="#222" stroke-width="0.8"/>
<text x="38.90" y="627.33" font-size="4.8" text-anchor="middle" fill="#333">0</text>
<line x1="47.20" y1="616.60" x2="47.20" y2="619.60" stroke="#222" stroke-width="0.8"/>
<text x="47.20" y="627.33" font-size="4.8" text-anchor="middle" fill="#333">1</text>
<text x="38.90" y="637.12" font-size="7.0" text-anchor="middle" textLength="26" lengthAdjust="spacingAndGlyphs" fill="#333">Row Z-score</text>
<line x1="200.70" y1="497.20" x2="269.40" y2="497.20" stroke="#ebebeb" stroke-width="0.6"/>
<line x1="200.70" y1="514.10" x2="269.40" y2="514.10" stroke="#ebebeb" stroke-width="0.6"/>
<line x1="200.70" y1="530.60" x2="269.40" y2="530.60" stroke="#ebebeb" stroke-width="0.6"/>
<line x1="203.20" y1="491.50" x2="203.20" y2="544.40" stroke="#ebebeb" stroke-width="0.6"/>
<line x1="227.20" y1="491.50" x2="227.20" y2="544.40" stroke="#ebebeb" stroke-width="0.6"/>
<line x1="251.20" y1="491.50" x2="251.20" y2="544.40" stroke="#ebebeb" stroke-width="0.6"/>
<line x1="212.58" y1="495.10" x2="212.58" y2="500.40" stroke="rgba(0,0,0,0.8)" stroke-width="0.55"/>
<line x1="205.71" y1="495.10" x2="205.71" y2="500.40" stroke="rgba(0,0,0,0.8)" stroke-width="0.55"/>
<line x1="206.95" y1="495.10" x2="206.95" y2="500.40" stroke="rgba(0,0,0,0.8)" stroke-width="0.55"/>
<line x1="210.80" y1="495.10" x2="210.80" y2="500.40" stroke="rgba(0,0,0,0.8)" stroke-width="0.55"/>
<line x1="213.54" y1="495.10" x2="213.54" y2="500.40" stroke="rgba(0,0,0,0.8)" stroke-width="0.55"/>
<line x1="212.62" y1="495.10" x2="212.62" y2="500.40" stroke="rgba(0,0,0,0.8)" stroke-width="0.55"/>
<line x1="206.00" y1="495.10" x2="206.00" y2="500.40" stroke="rgba(0,0,0,0.8)" stroke-width="0.55"/>
<line x1="204.66" y1="495.10" x2="204.66" y2="500.40" stroke="rgba(0,0,0,0.8)" stroke-width="0.55"/>
<line x1="212.06" y1="495.10" x2="212.06" y2="500.40" stroke="rgba(0,0,0,0.8)" stroke-width="0.55"/>
<line x1="213.64" y1="495.10" x2="213.64" y2="500.40" stroke="rgba(0,0,0,0.8)" stroke-width="0.55"/>
<line x1="205.13" y1="495.10" x2="205.13" y2="500.40" stroke="rgba(0,0,0,0.8)" stroke-width="0.55"/>
<line x1="207.25" y1="495.10" x2="207.25" y2="500.40" stroke="rgba(0,0,0,0.8)" stroke-width="0.55"/>
<line x1="208.76" y1="495.10" x2="208.76" y2="500.40" stroke="rgba(0,0,0,0.8)" stroke-width="0.55"/>
<line x1="209.49" y1="495.10" x2="209.49" y2="500.40" stroke="rgba(0,0,0,0.8)" stroke-width="0.55"/>
<line x1="217.71" y1="495.10" x2="217.71" y2="500.40" stroke="rgba(0,0,0,0.8)" stroke-width="0.55"/>
<line x1="231.66" y1="495.10" x2="231.66" y2="500.40" stroke="rgba(0,0,0,0.8)" stroke-width="0.55"/>
<line x1="239.30" y1="495.10" x2="239.30" y2="500.40" stroke="rgba(0,0,0,0.8)" stroke-width="0.55"/>
<line x1="253.43" y1="495.10" x2="253.43" y2="500.40" stroke="rgba(0,0,0,0.8)" stroke-width="0.55"/>
<line x1="236.81" y1="495.10" x2="236.81" y2="500.40" stroke="rgba(0,0,0,0.8)" stroke-width="0.55"/>
<line x1="247.33" y1="495.10" x2="247.33" y2="500.40" stroke="rgba(0,0,0,0.8)" stroke-width="0.55"/>
<line x1="250.24" y1="495.10" x2="250.24" y2="500.40" stroke="rgba(0,0,0,0.8)" stroke-width="0.55"/>
<line x1="223.11" y1="495.10" x2="223.11" y2="500.40" stroke="rgba(0,0,0,0.8)" stroke-width="0.55"/>
<line x1="233.95" y1="495.10" x2="233.95" y2="500.40" stroke="rgba(0,0,0,0.8)" stroke-width="0.55"/>
<line x1="244.99" y1="495.10" x2="244.99" y2="500.40" stroke="rgba(0,0,0,0.8)" stroke-width="0.55"/>
<line x1="228.33" y1="495.10" x2="228.33" y2="500.40" stroke="rgba(0,0,0,0.8)" stroke-width="0.55"/>
<line x1="248.99" y1="495.10" x2="248.99" y2="500.40" stroke="rgba(0,0,0,0.8)" stroke-width="0.55"/>
<line x1="220.99" y1="495.10" x2="220.99" y2="500.40" stroke="rgba(0,0,0,0.8)" stroke-width="0.55"/>
<line x1="216.63" y1="495.10" x2="216.63" y2="500.40" stroke="rgba(0,0,0,0.8)" stroke-width="0.55"/>
<line x1="247.12" y1="495.10" x2="247.12" y2="500.40" stroke="rgba(0,0,0,0.8)" stroke-width="0.55"/>
<line x1="250.67" y1="495.10" x2="250.67" y2="500.40" stroke="rgba(0,0,0,0.8)" stroke-width="0.55"/>
<line x1="251.29" y1="495.10" x2="251.29" y2="500.40" stroke="rgba(0,0,0,0.8)" stroke-width="0.55"/>
<line x1="227.64" y1="495.10" x2="227.64" y2="500.40" stroke="rgba(0,0,0,0.8)" stroke-width="0.55"/>
<line x1="236.28" y1="495.10" x2="236.28" y2="500.40" stroke="rgba(0,0,0,0.8)" stroke-width="0.55"/>
<line x1="218.75" y1="495.10" x2="218.75" y2="500.40" stroke="rgba(0,0,0,0.8)" stroke-width="0.55"/>
<line x1="224.44" y1="495.10" x2="224.44" y2="500.40" stroke="rgba(0,0,0,0.8)" stroke-width="0.55"/>
<line x1="242.51" y1="495.10" x2="242.51" y2="500.40" stroke="rgba(0,0,0,0.8)" stroke-width="0.55"/>
<line x1="215.81" y1="495.10" x2="215.81" y2="500.40" stroke="rgba(0,0,0,0.8)" stroke-width="0.55"/>
<line x1="239.63" y1="495.10" x2="239.63" y2="500.40" stroke="rgba(0,0,0,0.8)" stroke-width="0.55"/>
<line x1="225.83" y1="495.10" x2="225.83" y2="500.40" stroke="rgba(0,0,0,0.8)" stroke-width="0.55"/>
<line x1="217.42" y1="495.10" x2="217.42" y2="500.40" stroke="rgba(0,0,0,0.8)" stroke-width="0.55"/>
<line x1="257.54" y1="495.10" x2="257.54" y2="500.40" stroke="rgba(0,0,0,0.8)" stroke-width="0.55"/>
<line x1="261.00" y1="495.10" x2="261.00" y2="500.40" stroke="rgba(0,0,0,0.8)" stroke-width="0.55"/>
<line x1="263.24" y1="495.10" x2="263.24" y2="500.40" stroke="rgba(0,0,0,0.8)" stroke-width="0.55"/>
<line x1="262.47" y1="495.10" x2="262.47" y2="500.40" stroke="rgba(0,0,0,0.8)" stroke-width="0.55"/>
<line x1="265.41" y1="495.10" x2="265.41" y2="500.40" stroke="rgba(0,0,0,0.8)" stroke-width="0.55"/>
<line x1="263.30" y1="495.10" x2="263.30" y2="500.40" stroke="rgba(0,0,0,0.8)" stroke-width="0.55"/>
<line x1="265.04" y1="495.10" x2="265.04" y2="500.40" stroke="rgba(0,0,0,0.8)" stroke-width="0.55"/>
<line x1="263.66" y1="495.10" x2="263.66" y2="500.40" stroke="rgba(0,0,0,0.8)" stroke-width="0.55"/>
<line x1="258.88" y1="495.10" x2="258.88" y2="500.40" stroke="rgba(0,0,0,0.8)" stroke-width="0.55"/>
<line x1="264.00" y1="495.10" x2="264.00" y2="500.40" stroke="rgba(0,0,0,0.8)" stroke-width="0.55"/>
<line x1="263.16" y1="495.10" x2="263.16" y2="500.40" stroke="rgba(0,0,0,0.8)" stroke-width="0.55"/>
<line x1="263.98" y1="495.10" x2="263.98" y2="500.40" stroke="rgba(0,0,0,0.8)" stroke-width="0.55"/>
<line x1="262.62" y1="495.10" x2="262.62" y2="500.40" stroke="rgba(0,0,0,0.8)" stroke-width="0.55"/>
<line x1="262.34" y1="495.10" x2="262.34" y2="500.40" stroke="rgba(0,0,0,0.8)" stroke-width="0.55"/>
<line x1="261.03" y1="495.10" x2="261.03" y2="500.40" stroke="rgba(0,0,0,0.8)" stroke-width="0.55"/>
<line x1="257.98" y1="495.10" x2="257.98" y2="500.40" stroke="rgba(0,0,0,0.8)" stroke-width="0.55"/>
<line x1="263.03" y1="495.10" x2="263.03" y2="500.40" stroke="rgba(0,0,0,0.8)" stroke-width="0.55"/>
<line x1="260.89" y1="495.10" x2="260.89" y2="500.40" stroke="rgba(0,0,0,0.8)" stroke-width="0.55"/>
<line x1="265.93" y1="495.10" x2="265.93" y2="500.40" stroke="rgba(0,0,0,0.8)" stroke-width="0.55"/>
<line x1="259.41" y1="495.10" x2="259.41" y2="500.40" stroke="rgba(0,0,0,0.8)" stroke-width="0.55"/>
<line x1="261.70" y1="495.10" x2="261.70" y2="500.40" stroke="rgba(0,0,0,0.8)" stroke-width="0.55"/>
<line x1="263.18" y1="495.10" x2="263.18" y2="500.40" stroke="rgba(0,0,0,0.8)" stroke-width="0.55"/>
<line x1="262.57" y1="495.10" x2="262.57" y2="500.40" stroke="rgba(0,0,0,0.8)" stroke-width="0.55"/>
<line x1="258.78" y1="495.10" x2="258.78" y2="500.40" stroke="rgba(0,0,0,0.8)" stroke-width="0.55"/>
<line x1="257.68" y1="495.10" x2="257.68" y2="500.40" stroke="rgba(0,0,0,0.8)" stroke-width="0.55"/>
<line x1="267.27" y1="495.10" x2="267.27" y2="500.40" stroke="rgba(0,0,0,0.8)" stroke-width="0.55"/>
<line x1="200.70" y1="497.20" x2="269.40" y2="497.20" stroke="#111" stroke-width="0.9"/>
<line x1="200.70" y1="497.20" x2="269.40" y2="497.20" stroke="#e8403c" stroke-width="0.8" stroke-dasharray="2,1.6"/>
<line x1="200.70" y1="542.30" x2="269.40" y2="542.30" stroke="#e8403c" stroke-width="0.8" stroke-dasharray="2,1.6"/>
<polyline points="203.20,497.20 206.00,497.60 209.00,498.20 212.00,499.00 215.00,500.50 219.00,503.00 223.00,506.00 227.00,509.50 231.00,513.50 235.00,518.50 239.00,524.00 243.00,529.50 247.00,534.50 251.00,538.60 254.00,541.00 256.70,542.30 258.50,540.50 260.50,535.50 262.50,528.00 264.30,518.00 265.80,510.00 267.00,504.00 268.00,498.50" fill="none" stroke="#2ee02e" stroke-width="1.1" stroke-linejoin="round"/>
<line x1="200.70" y1="491.50" x2="200.70" y2="545.10" stroke="#111" stroke-width="1.3"/>
<line x1="200.10" y1="544.40" x2="269.40" y2="544.40" stroke="#111" stroke-width="1.3"/>
<line x1="198.70" y1="497.20" x2="200.70" y2="497.20" stroke="#111" stroke-width="0.8"/>
<text x="196.20" y="499.14" font-size="5.4" text-anchor="end" fill="#333">0.0</text>
<line x1="198.70" y1="514.10" x2="200.70" y2="514.10" stroke="#111" stroke-width="0.8"/>
<text x="196.20" y="516.04" font-size="5.4" text-anchor="end" fill="#333">-0.2</text>
<line x1="198.70" y1="530.60" x2="200.70" y2="530.60" stroke="#111" stroke-width="0.8"/>
<text x="196.20" y="532.54" font-size="5.4" text-anchor="end" fill="#333">-0.4</text>
<line x1="203.20" y1="544.40" x2="203.20" y2="546.40" stroke="#111" stroke-width="0.8"/>
<text x="203.20" y="556.32" font-size="5.6" text-anchor="middle" fill="#333">0</text>
<line x1="227.20" y1="544.40" x2="227.20" y2="546.40" stroke="#111" stroke-width="0.8"/>
<text x="227.20" y="556.32" font-size="5.6" text-anchor="middle" fill="#333">5000</text>
<line x1="251.20" y1="544.40" x2="251.20" y2="546.40" stroke="#111" stroke-width="0.8"/>
<text x="251.20" y="556.32" font-size="5.6" text-anchor="middle" fill="#333">10000</text>
<text x="235.20" y="486.31" font-size="7.8" text-anchor="middle" textLength="13.1" lengthAdjust="spacingAndGlyphs" fill="#333">Gilt.</text>
<text x="178.82" y="517.80" font-size="7.0" text-anchor="middle" textLength="45.6" lengthAdjust="spacingAndGlyphs" fill="#333" transform="rotate(-90 178.82 517.80)">Enrichment score</text>
<text x="235.60" y="566.96" font-size="7.4" text-anchor="middle" textLength="14" lengthAdjust="spacingAndGlyphs" fill="#333">Rank</text>
<text x="219.10" y="577.06" font-size="6.0" fill="#333">p</text>
<text x="222.10" y="579.05" font-size="3.2" fill="#333">adj</text>
<text x="226.70" y="577.59" font-size="5.8" textLength="16.3" lengthAdjust="spacingAndGlyphs" fill="#333">= 0.04</text>
<text x="219.10" y="586.09" font-size="5.8" textLength="26" lengthAdjust="spacingAndGlyphs" fill="#333">ES = - 0.54</text>
<text x="219.10" y="594.49" font-size="5.8" textLength="28.7" lengthAdjust="spacingAndGlyphs" fill="#333">NES = -1.81</text>
<rect x="280.20" y="476.40" width="4.55" height="4.01" fill="#a7c4e3"/>
<rect x="284.70" y="476.40" width="4.55" height="4.01" fill="#9dbde0"/>
<rect x="289.20" y="476.40" width="4.55" height="4.01" fill="#f6f2f0"/>
<rect x="293.70" y="476.40" width="4.55" height="4.01" fill="#c45344"/>
<rect x="298.20" y="476.40" width="4.55" height="4.01" fill="#e8a589"/>
<rect x="302.70" y="476.40" width="4.55" height="4.01" fill="#c55445"/>
<rect x="280.20" y="480.36" width="4.55" height="4.01" fill="#81a9d5"/>
<rect x="284.70" y="480.36" width="4.55" height="4.01" fill="#88add8"/>
<rect x="289.20" y="480.36" width="4.55" height="4.01" fill="#afcae6"/>
<rect x="293.70" y="480.36" width="4.55" height="4.01" fill="#e29274"/>
<rect x="298.20" y="480.36" width="4.55" height="4.01" fill="#d97f65"/>
<rect x="302.70" y="480.36" width="4.55" height="4.01" fill="#dc846a"/>
<rect x="280.20" y="484.31" width="4.55" height="4.01" fill="#5884bf"/>
<rect x="284.70" y="484.31" width="4.55" height="4.01" fill="#739dcf"/>
<rect x="289.20" y="484.31" width="4.55" height="4.01" fill="#7ca5d3"/>
<rect x="293.70" y="484.31" width="4.55" height="4.01" fill="#f6e2d6"/>
<rect x="298.20" y="484.31" width="4.55" height="4.01" fill="#edb59b"/>
<rect x="302.70" y="484.31" width="4.55" height="4.01" fill="#df8a6e"/>
<rect x="280.20" y="488.27" width="4.55" height="4.01" fill="#b6cfe9"/>
<rect x="284.70" y="488.27" width="4.55" height="4.01" fill="#82aad6"/>
<rect x="289.20" y="488.27" width="4.55" height="4.01" fill="#93b5dc"/>
<rect x="293.70" y="488.27" width="4.55" height="4.01" fill="#c24f41"/>
<rect x="298.20" y="488.27" width="4.55" height="4.01" fill="#db8368"/>
<rect x="302.70" y="488.27" width="4.55" height="4.01" fill="#efbba2"/>
<rect x="280.20" y="492.23" width="4.55" height="4.01" fill="#c9dcee"/>
<rect x="284.70" y="492.23" width="4.55" height="4.01" fill="#8bb0d9"/>
<rect x="289.20" y="492.23" width="4.55" height="4.01" fill="#c5d9ed"/>
<rect x="293.70" y="492.23" width="4.55" height="4.01" fill="#de896d"/>
<rect x="298.20" y="492.23" width="4.55" height="4.01" fill="#f4c9b2"/>
<rect x="302.70" y="492.23" width="4.55" height="4.01" fill="#f4cab2"/>
<rect x="280.20" y="496.19" width="4.55" height="4.01" fill="#8fb3db"/>
<rect x="284.70" y="496.19" width="4.55" height="4.01" fill="#eef1f5"/>
<rect x="289.20" y="496.19" width="4.55" height="4.01" fill="#84aad6"/>
<rect x="293.70" y="496.19" width="4.55" height="4.01" fill="#901c21"/>
<rect x="298.20" y="496.19" width="4.55" height="4.01" fill="#c85c4b"/>
<rect x="302.70" y="496.19" width="4.55" height="4.01" fill="#e29274"/>
<rect x="280.20" y="500.14" width="4.55" height="4.01" fill="#bdd4ec"/>
<rect x="284.70" y="500.14" width="4.55" height="4.01" fill="#d0e0ef"/>
<rect x="289.20" y="500.14" width="4.55" height="4.01" fill="#90b3db"/>
<rect x="293.70" y="500.14" width="4.55" height="4.01" fill="#e4977a"/>
<rect x="298.20" y="500.14" width="4.55" height="4.01" fill="#cf6a56"/>
<rect x="302.70" y="500.14" width="4.55" height="4.01" fill="#c85b4a"/>
<rect x="280.20" y="504.10" width="4.55" height="4.01" fill="#dbe6f1"/>
<rect x="284.70" y="504.10" width="4.55" height="4.01" fill="#b2cce8"/>
<rect x="289.20" y="504.10" width="4.55" height="4.01" fill="#729cce"/>
<rect x="293.70" y="504.10" width="4.55" height="4.01" fill="#d67860"/>
<rect x="298.20" y="504.10" width="4.55" height="4.01" fill="#f6e7df"/>
<rect x="302.70" y="504.10" width="4.55" height="4.01" fill="#b54037"/>
<rect x="280.20" y="508.06" width="4.55" height="4.01" fill="#aec9e6"/>
<rect x="284.70" y="508.06" width="4.55" height="4.01" fill="#93b6dc"/>
<rect x="289.20" y="508.06" width="4.55" height="4.01" fill="#7ba4d3"/>
<rect x="293.70" y="508.06" width="4.55" height="4.01" fill="#b23d36"/>
<rect x="298.20" y="508.06" width="4.55" height="4.01" fill="#f3c7af"/>
<rect x="302.70" y="508.06" width="4.55" height="4.01" fill="#992527"/>
<rect x="280.20" y="512.01" width="4.55" height="4.01" fill="#719cce"/>
<rect x="284.70" y="512.01" width="4.55" height="4.01" fill="#98b9de"/>
<rect x="289.20" y="512.01" width="4.55" height="4.01" fill="#87add8"/>
<rect x="293.70" y="512.01" width="4.55" height="4.01" fill="#eeb59b"/>
<rect x="298.20" y="512.01" width="4.55" height="4.01" fill="#87141c"/>
<rect x="302.70" y="512.01" width="4.55" height="4.01" fill="#87141c"/>
<rect x="280.20" y="515.97" width="4.55" height="4.01" fill="#7da6d4"/>
<rect x="284.70" y="515.97" width="4.55" height="4.01" fill="#bfd6ec"/>
<rect x="289.20" y="515.97" width="4.55" height="4.01" fill="#5d89c2"/>
<rect x="293.70" y="515.97" width="4.55" height="4.01" fill="#9e2b2a"/>
<rect x="298.20" y="515.97" width="4.55" height="4.01" fill="#d06c57"/>
<rect x="302.70" y="515.97" width="4.55" height="4.01" fill="#e08e71"/>
<rect x="280.20" y="519.93" width="4.55" height="4.01" fill="#87add8"/>
<rect x="284.70" y="519.93" width="4.55" height="4.01" fill="#abc7e5"/>
<rect x="289.20" y="519.93" width="4.55" height="4.01" fill="#acc8e5"/>
<rect x="293.70" y="519.93" width="4.55" height="4.01" fill="#e08d70"/>
<rect x="298.20" y="519.93" width="4.55" height="4.01" fill="#f6dbcb"/>
<rect x="302.70" y="519.93" width="4.55" height="4.01" fill="#dd886c"/>
<rect x="280.20" y="523.89" width="4.55" height="4.01" fill="#84abd7"/>
<rect x="284.70" y="523.89" width="4.55" height="4.01" fill="#bfd5ec"/>
<rect x="289.20" y="523.89" width="4.55" height="4.01" fill="#9ebee0"/>
<rect x="293.70" y="523.89" width="4.55" height="4.01" fill="#cd6552"/>
<rect x="298.20" y="523.89" width="4.55" height="4.01" fill="#f2f4f5"/>
<rect x="302.70" y="523.89" width="4.55" height="4.01" fill="#e29173"/>
<rect x="280.20" y="527.84" width="4.55" height="4.01" fill="#86acd7"/>
<rect x="284.70" y="527.84" width="4.55" height="4.01" fill="#8fb3db"/>
<rect x="289.20" y="527.84" width="4.55" height="4.01" fill="#97b9de"/>
<rect x="293.70" y="527.84" width="4.55" height="4.01" fill="#de886c"/>
<rect x="298.20" y="527.84" width="4.55" height="4.01" fill="#f6f3f2"/>
<rect x="302.70" y="527.84" width="4.55" height="4.01" fill="#a93530"/>
<rect x="280.20" y="531.80" width="4.55" height="4.01" fill="#b6cfe9"/>
<rect x="284.70" y="531.80" width="4.55" height="4.01" fill="#8fb3db"/>
<rect x="289.20" y="531.80" width="4.55" height="4.01" fill="#b2cde8"/>
<rect x="293.70" y="531.80" width="4.55" height="4.01" fill="#ebaf94"/>
<rect x="298.20" y="531.80" width="4.55" height="4.01" fill="#f6eae2"/>
<rect x="302.70" y="531.80" width="4.55" height="4.01" fill="#db8368"/>
<rect x="280.20" y="535.76" width="4.55" height="4.01" fill="#cbdcee"/>
<rect x="284.70" y="535.76" width="4.55" height="4.01" fill="#9fbee0"/>
<rect x="289.20" y="535.76" width="4.55" height="4.01" fill="#6691c8"/>
<rect x="293.70" y="535.76" width="4.55" height="4.01" fill="#cc6451"/>
<rect x="298.20" y="535.76" width="4.55" height="4.01" fill="#f6d1ba"/>
<rect x="302.70" y="535.76" width="4.55" height="4.01" fill="#e9a68a"/>
<rect x="280.20" y="539.71" width="4.55" height="4.01" fill="#a2c0e2"/>
<rect x="284.70" y="539.71" width="4.55" height="4.01" fill="#6691c7"/>
<rect x="289.20" y="539.71" width="4.55" height="4.01" fill="#5e8ac3"/>
<rect x="293.70" y="539.71" width="4.55" height="4.01" fill="#f5cdb6"/>
<rect x="298.20" y="539.71" width="4.55" height="4.01" fill="#cf6a56"/>
<rect x="302.70" y="539.71" width="4.55" height="4.01" fill="#d06c57"/>
<rect x="280.20" y="543.67" width="4.55" height="4.01" fill="#7fa7d5"/>
<rect x="284.70" y="543.67" width="4.55" height="4.01" fill="#8aafd9"/>
<rect x="289.20" y="543.67" width="4.55" height="4.01" fill="#b4cee8"/>
<rect x="293.70" y="543.67" width="4.55" height="4.01" fill="#9d2929"/>
<rect x="298.20" y="543.67" width="4.55" height="4.01" fill="#f6d6c2"/>
<rect x="302.70" y="543.67" width="4.55" height="4.01" fill="#ca5f4d"/>
<rect x="280.20" y="547.63" width="4.55" height="4.01" fill="#e3ebf3"/>
<rect x="284.70" y="547.63" width="4.55" height="4.01" fill="#bad2ea"/>
<rect x="289.20" y="547.63" width="4.55" height="4.01" fill="#90b4db"/>
<rect x="293.70" y="547.63" width="4.55" height="4.01" fill="#c85c4b"/>
<rect x="298.20" y="547.63" width="4.55" height="4.01" fill="#e9a78c"/>
<rect x="302.70" y="547.63" width="4.55" height="4.01" fill="#b74339"/>
<rect x="280.20" y="551.59" width="4.55" height="4.01" fill="#a3c1e2"/>
<rect x="284.70" y="551.59" width="4.55" height="4.01" fill="#92b5db"/>
<rect x="289.20" y="551.59" width="4.55" height="4.01" fill="#98bade"/>
<rect x="293.70" y="551.59" width="4.55" height="4.01" fill="#c75949"/>
<rect x="298.20" y="551.59" width="4.55" height="4.01" fill="#f6d4bf"/>
<rect x="302.70" y="551.59" width="4.55" height="4.01" fill="#d06c57"/>
<rect x="280.20" y="555.54" width="4.55" height="4.01" fill="#759fd0"/>
<rect x="284.70" y="555.54" width="4.55" height="4.01" fill="#cddeef"/>
<rect x="289.20" y="555.54" width="4.55" height="4.01" fill="#d1e0ef"/>
<rect x="293.70" y="555.54" width="4.55" height="4.01" fill="#e9a98d"/>
<rect x="298.20" y="555.54" width="4.55" height="4.01" fill="#d67860"/>
<rect x="302.70" y="555.54" width="4.55" height="4.01" fill="#cd6552"/>
<rect x="280.20" y="559.50" width="4.55" height="4.01" fill="#99bade"/>
<rect x="284.70" y="559.50" width="4.55" height="4.01" fill="#9bbbdf"/>
<rect x="289.20" y="559.50" width="4.55" height="4.01" fill="#a7c4e3"/>
<rect x="293.70" y="559.50" width="4.55" height="4.01" fill="#a93530"/>
<rect x="298.20" y="559.50" width="4.55" height="4.01" fill="#f6e7de"/>
<rect x="302.70" y="559.50" width="4.55" height="4.01" fill="#a22e2c"/>
<rect x="280.20" y="563.46" width="4.55" height="4.01" fill="#8cb1da"/>
<rect x="284.70" y="563.46" width="4.55" height="4.01" fill="#7ca5d3"/>
<rect x="289.20" y="563.46" width="4.55" height="4.01" fill="#9bbcdf"/>
<rect x="293.70" y="563.46" width="4.55" height="4.01" fill="#bd483c"/>
<rect x="298.20" y="563.46" width="4.55" height="4.01" fill="#edb398"/>
<rect x="302.70" y="563.46" width="4.55" height="4.01" fill="#c85b4a"/>
<rect x="280.20" y="567.41" width="4.55" height="4.01" fill="#8aafd9"/>
<rect x="284.70" y="567.41" width="4.55" height="4.01" fill="#90b4db"/>
<rect x="289.20" y="567.41" width="4.55" height="4.01" fill="#c1d7ed"/>
<rect x="293.70" y="567.41" width="4.55" height="4.01" fill="#ebac91"/>
<rect x="298.20" y="567.41" width="4.55" height="4.01" fill="#d16f59"/>
<rect x="302.70" y="567.41" width="4.55" height="4.01" fill="#c65848"/>
<rect x="280.20" y="571.37" width="4.55" height="4.01" fill="#8cb0d9"/>
<rect x="284.70" y="571.37" width="4.55" height="4.01" fill="#9cbcdf"/>
<rect x="289.20" y="571.37" width="4.55" height="4.01" fill="#92b5dc"/>
<rect x="293.70" y="571.37" width="4.55" height="4.01" fill="#d4745d"/>
<rect x="298.20" y="571.37" width="4.55" height="4.01" fill="#ecb095"/>
<rect x="302.70" y="571.37" width="4.55" height="4.01" fill="#d77b63"/>
<rect x="280.20" y="575.33" width="4.55" height="4.01" fill="#5581be"/>
<rect x="284.70" y="575.33" width="4.55" height="4.01" fill="#5c87c1"/>
<rect x="289.20" y="575.33" width="4.55" height="4.01" fill="#aac6e4"/>
<rect x="293.70" y="575.33" width="4.55" height="4.01" fill="#e59a7d"/>
<rect x="298.20" y="575.33" width="4.55" height="4.01" fill="#f6cfb8"/>
<rect x="302.70" y="575.33" width="4.55" height="4.01" fill="#d87d64"/>
<rect x="280.20" y="579.29" width="4.55" height="4.01" fill="#6f9acd"/>
<rect x="284.70" y="579.29" width="4.55" height="4.01" fill="#d6e3f0"/>
<rect x="289.20" y="579.29" width="4.55" height="4.01" fill="#9dbde0"/>
<rect x="293.70" y="579.29" width="4.55" height="4.01" fill="#d87d64"/>
<rect x="298.20" y="579.29" width="4.55" height="4.01" fill="#f6e1d4"/>
<rect x="302.70" y="579.29" width="4.55" height="4.01" fill="#aa3631"/>
<rect x="280.20" y="583.24" width="4.55" height="4.01" fill="#b0cbe7"/>
<rect x="284.70" y="583.24" width="4.55" height="4.01" fill="#d5e2f0"/>
<rect x="289.20" y="583.24" width="4.55" height="4.01" fill="#bed5ec"/>
<rect x="293.70" y="583.24" width="4.55" height="4.01" fill="#e8a489"/>
<rect x="298.20" y="583.24" width="4.55" height="4.01" fill="#f6e8e0"/>
<rect x="302.70" y="583.24" width="4.55" height="4.01" fill="#8e1b20"/>
<rect x="280.20" y="587.20" width="4.55" height="4.01" fill="#7da6d4"/>
<rect x="284.70" y="587.20" width="4.55" height="4.01" fill="#a0bfe1"/>
<rect x="289.20" y="587.20" width="4.55" height="4.01" fill="#97b9de"/>
<rect x="293.70" y="587.20" width="4.55" height="4.01" fill="#c35042"/>
<rect x="298.20" y="587.20" width="4.55" height="4.01" fill="#e08c6f"/>
<rect x="302.70" y="587.20" width="4.55" height="4.01" fill="#eeb89e"/>
<rect x="280.20" y="591.16" width="4.55" height="4.01" fill="#7fa7d5"/>
<rect x="284.70" y="591.16" width="4.55" height="4.01" fill="#6893c9"/>
<rect x="289.20" y="591.16" width="4.55" height="4.01" fill="#b1cce7"/>
<rect x="293.70" y="591.16" width="4.55" height="4.01" fill="#d87c63"/>
<rect x="298.20" y="591.16" width="4.55" height="4.01" fill="#f5f5f6"/>
<rect x="302.70" y="591.16" width="4.55" height="4.01" fill="#a12d2c"/>
<rect x="280.20" y="595.11" width="4.55" height="4.01" fill="#97b8dd"/>
<rect x="284.70" y="595.11" width="4.55" height="4.01" fill="#7fa7d5"/>
<rect x="289.20" y="595.11" width="4.55" height="4.01" fill="#8eb2da"/>
<rect x="293.70" y="595.11" width="4.55" height="4.01" fill="#e49779"/>
<rect x="298.20" y="595.11" width="4.55" height="4.01" fill="#e9a78b"/>
<rect x="302.70" y="595.11" width="4.55" height="4.01" fill="#cb624f"/>
<rect x="280.20" y="599.07" width="4.55" height="4.01" fill="#81a9d5"/>
<rect x="284.70" y="599.07" width="4.55" height="4.01" fill="#b4cde8"/>
<rect x="289.20" y="599.07" width="4.55" height="4.01" fill="#4774b6"/>
<rect x="293.70" y="599.07" width="4.55" height="4.01" fill="#dd876c"/>
<rect x="298.20" y="599.07" width="4.55" height="4.01" fill="#dd866b"/>
<rect x="302.70" y="599.07" width="4.55" height="4.01" fill="#a7322f"/>
<rect x="280.20" y="603.03" width="4.55" height="4.01" fill="#b3cde8"/>
<rect x="284.70" y="603.03" width="4.55" height="4.01" fill="#7ea7d4"/>
<rect x="289.20" y="603.03" width="4.55" height="4.01" fill="#638fc6"/>
<rect x="293.70" y="603.03" width="4.55" height="4.01" fill="#dd876c"/>
<rect x="298.20" y="603.03" width="4.55" height="4.01" fill="#9a2627"/>
<rect x="302.70" y="603.03" width="4.55" height="4.01" fill="#c95e4c"/>
<rect x="280.20" y="606.99" width="4.55" height="4.01" fill="#7ba4d3"/>
<rect x="284.70" y="606.99" width="4.55" height="4.01" fill="#6a95ca"/>
<rect x="289.20" y="606.99" width="4.55" height="4.01" fill="#a2c1e2"/>
<rect x="293.70" y="606.99" width="4.55" height="4.01" fill="#e18f71"/>
<rect x="298.20" y="606.99" width="4.55" height="4.01" fill="#e19072"/>
<rect x="302.70" y="606.99" width="4.55" height="4.01" fill="#cc6350"/>
<rect x="280.20" y="610.94" width="4.55" height="4.01" fill="#4976b7"/>
<rect x="284.70" y="610.94" width="4.55" height="4.01" fill="#a0bfe1"/>
<rect x="289.20" y="610.94" width="4.55" height="4.01" fill="#b9d2ea"/>
<rect x="293.70" y="610.94" width="4.55" height="4.01" fill="#e4977a"/>
<rect x="298.20" y="610.94" width="4.55" height="4.01" fill="#f6e5db"/>
<rect x="302.70" y="610.94" width="4.55" height="4.01" fill="#f1c0a7"/>
<text x="308.60" y="479.93" font-size="4.3">TGM2</text>
<text x="308.60" y="483.88" font-size="4.3">NRP1</text>
<text x="308.60" y="487.84" font-size="4.3">COL8A2</text>
<text x="308.60" y="491.80" font-size="4.3">EMP1</text>
<text x="308.60" y="495.76" font-size="4.3">PLAU</text>
<text x="308.60" y="499.71" font-size="4.3">PLD6</text>
<text x="308.60" y="503.67" font-size="4.3">PRR5</text>
<text x="308.60" y="507.63" font-size="4.3">DDX10</text>
<text x="308.60" y="511.58" font-size="4.3">ABL2</text>
<text x="308.60" y="515.54" font-size="4.3">IRF9</text>
<text x="308.60" y="519.50" font-size="4.3">VAMP1</text>
<text x="308.60" y="523.46" font-size="4.3">HK2</text>
<text x="308.60" y="527.41" font-size="4.3">MYC</text>
<text x="308.60" y="531.37" font-size="4.3">SLC29A2</text>
<text x="308.60" y="535.33" font-size="4.3">GEMIN5</text>
<text x="308.60" y="539.28" font-size="4.3">ALS2CL</text>
<text x="308.60" y="543.24" font-size="4.3">MKNK1</text>
<text x="308.60" y="547.20" font-size="4.3">TUBA1A</text>
<text x="308.60" y="551.16" font-size="4.3">ACSS2</text>
<text x="308.60" y="555.11" font-size="4.3">XPO5</text>
<text x="308.60" y="559.07" font-size="4.3">PMM2</text>
<text x="308.60" y="563.03" font-size="4.3">SUPV3L1</text>
<text x="308.60" y="566.98" font-size="4.3">CCDC78</text>
<text x="308.60" y="570.94" font-size="4.3">UTP20</text>
<text x="308.60" y="574.90" font-size="4.3">DCAF4</text>
<text x="308.60" y="578.86" font-size="4.3">NOLC1</text>
<text x="308.60" y="582.81" font-size="4.3">TAF4B</text>
<text x="308.60" y="586.77" font-size="4.3">WDR12</text>
<text x="308.60" y="590.73" font-size="4.3">PAICS</text>
<text x="308.60" y="594.68" font-size="4.3">NUFIP1</text>
<text x="308.60" y="598.64" font-size="4.3">FARSB</text>
<text x="308.60" y="602.60" font-size="4.3">UTP4</text>
<text x="308.60" y="606.56" font-size="4.3">BCS1L</text>
<text x="308.60" y="610.51" font-size="4.3">RCL1</text>
<text x="308.60" y="614.47" font-size="4.3">TWNK</text>
<path d="M334.40,525.86 L338.00,523.56 L337.40,525.31 L341.80,525.31 L341.80,526.41 L337.40,526.41 L338.00,528.16Z" fill="#111"/>
<text x="289.50" y="620.00" font-size="6.0" fill="#333" text-anchor="end" textLength="10.5" lengthAdjust="spacingAndGlyphs" transform="rotate(-45 289.50 620.00)">Gilt.</text>
<text x="304.30" y="619.00" font-size="6.0" fill="#333" text-anchor="end" textLength="15" lengthAdjust="spacingAndGlyphs" transform="rotate(-45 304.30 619.00)">DMSO</text>
<line x1="372.80" y1="496.20" x2="443.70" y2="496.20" stroke="#ebebeb" stroke-width="0.6"/>
<line x1="372.80" y1="511.00" x2="443.70" y2="511.00" stroke="#ebebeb" stroke-width="0.6"/>
<line x1="372.80" y1="525.30" x2="443.70" y2="525.30" stroke="#ebebeb" stroke-width="0.6"/>
<line x1="372.80" y1="540.00" x2="443.70" y2="540.00" stroke="#ebebeb" stroke-width="0.6"/>
<line x1="375.50" y1="490.20" x2="375.50" y2="543.10" stroke="#ebebeb" stroke-width="0.6"/>
<line x1="400.00" y1="490.20" x2="400.00" y2="543.10" stroke="#ebebeb" stroke-width="0.6"/>
<line x1="424.50" y1="490.20" x2="424.50" y2="543.10" stroke="#ebebeb" stroke-width="0.6"/>
<line x1="376.43" y1="493.00" x2="376.43" y2="500.00" stroke="rgba(0,0,0,0.8)" stroke-width="0.55"/>
<line x1="381.38" y1="493.00" x2="381.38" y2="500.00" stroke="rgba(0,0,0,0.8)" stroke-width="0.55"/>
<line x1="380.47" y1="493.00" x2="380.47" y2="500.00" stroke="rgba(0,0,0,0.8)" stroke-width="0.55"/>
<line x1="382.83" y1="493.00" x2="382.83" y2="500.00" stroke="rgba(0,0,0,0.8)" stroke-width="0.55"/>
<line x1="381.99" y1="493.00" x2="381.99" y2="500.00" stroke="rgba(0,0,0,0.8)" stroke-width="0.55"/>
<line x1="383.66" y1="493.00" x2="383.66" y2="500.00" stroke="rgba(0,0,0,0.8)" stroke-width="0.55"/>
<line x1="376.57" y1="493.00" x2="376.57" y2="500.00" stroke="rgba(0,0,0,0.8)" stroke-width="0.55"/>
<line x1="382.32" y1="493.00" x2="382.32" y2="500.00" stroke="rgba(0,0,0,0.8)" stroke-width="0.55"/>
<line x1="378.11" y1="493.00" x2="378.11" y2="500.00" stroke="rgba(0,0,0,0.8)" stroke-width="0.55"/>
<line x1="381.02" y1="493.00" x2="381.02" y2="500.00" stroke="rgba(0,0,0,0.8)" stroke-width="0.55"/>
<line x1="378.04" y1="493.00" x2="378.04" y2="500.00" stroke="rgba(0,0,0,0.8)" stroke-width="0.55"/>
<line x1="381.18" y1="493.00" x2="381.18" y2="500.00" stroke="rgba(0,0,0,0.8)" stroke-width="0.55"/>
<line x1="376.08" y1="493.00" x2="376.08" y2="500.00" stroke="rgba(0,0,0,0.8)" stroke-width="0.55"/>
<line x1="383.72" y1="493.00" x2="383.72" y2="500.00" stroke="rgba(0,0,0,0.8)" stroke-width="0.55"/>
<line x1="427.49" y1="493.00" x2="427.49" y2="500.00" stroke="rgba(0,0,0,0.8)" stroke-width="0.55"/>
<line x1="406.42" y1="493.00" x2="406.42" y2="500.00" stroke="rgba(0,0,0,0.8)" stroke-width="0.55"/>
<line x1="390.75" y1="493.00" x2="390.75" y2="500.00" stroke="rgba(0,0,0,0.8)" stroke-width="0.55"/>
<line x1="425.29" y1="493.00" x2="425.29" y2="500.00" stroke="rgba(0,0,0,0.8)" stroke-width="0.55"/>
<line x1="397.02" y1="493.00" x2="397.02" y2="500.00" stroke="rgba(0,0,0,0.8)" stroke-width="0.55"/>
<line x1="394.01" y1="493.00" x2="394.01" y2="500.00" stroke="rgba(0,0,0,0.8)" stroke-width="0.55"/>
<line x1="392.90" y1="493.00" x2="392.90" y2="500.00" stroke="rgba(0,0,0,0.8)" stroke-width="0.55"/>
<line x1="420.62" y1="493.00" x2="420.62" y2="500.00" stroke="rgba(0,0,0,0.8)" stroke-width="0.55"/>
<line x1="396.49" y1="493.00" x2="396.49" y2="500.00" stroke="rgba(0,0,0,0.8)" stroke-width="0.55"/>
<line x1="386.78" y1="493.00" x2="386.78" y2="500.00" stroke="rgba(0,0,0,0.8)" stroke-width="0.55"/>
<line x1="426.95" y1="493.00" x2="426.95" y2="500.00" stroke="rgba(0,0,0,0.8)" stroke-width="0.55"/>
<line x1="398.12" y1="493.00" x2="398.12" y2="500.00" stroke="rgba(0,0,0,0.8)" stroke-width="0.55"/>
<line x1="425.56" y1="493.00" x2="425.56" y2="500.00" stroke="rgba(0,0,0,0.8)" stroke-width="0.55"/>
<line x1="402.20" y1="493.00" x2="402.20" y2="500.00" stroke="rgba(0,0,0,0.8)" stroke-width="0.55"/>
<line x1="407.43" y1="493.00" x2="407.43" y2="500.00" stroke="rgba(0,0,0,0.8)" stroke-width="0.55"/>
<line x1="415.75" y1="493.00" x2="415.75" y2="500.00" stroke="rgba(0,0,0,0.8)" stroke-width="0.55"/>
<line x1="405.54" y1="493.00" x2="405.54" y2="500.00" stroke="rgba(0,0,0,0.8)" stroke-width="0.55"/>
<line x1="417.11" y1="493.00" x2="417.11" y2="500.00" stroke="rgba(0,0,0,0.8)" stroke-width="0.55"/>
<line x1="386.06" y1="493.00" x2="386.06" y2="500.00" stroke="rgba(0,0,0,0.8)" stroke-width="0.55"/>
<line x1="413.94" y1="493.00" x2="413.94" y2="500.00" stroke="rgba(0,0,0,0.8)" stroke-width="0.55"/>
<line x1="398.61" y1="493.00" x2="398.61" y2="500.00" stroke="rgba(0,0,0,0.8)" stroke-width="0.55"/>
<line x1="403.07" y1="493.00" x2="403.07" y2="500.00" stroke="rgba(0,0,0,0.8)" stroke-width="0.55"/>
<line x1="392.39" y1="493.00" x2="392.39" y2="500.00" stroke="rgba(0,0,0,0.8)" stroke-width="0.55"/>
<line x1="412.88" y1="493.00" x2="412.88" y2="500.00" stroke="rgba(0,0,0,0.8)" stroke-width="0.55"/>
<line x1="417.01" y1="493.00" x2="417.01" y2="500.00" stroke="rgba(0,0,0,0.8)" stroke-width="0.55"/>
<line x1="399.69" y1="493.00" x2="399.69" y2="500.00" stroke="rgba(0,0,0,0.8)" stroke-width="0.55"/>
<line x1="433.31" y1="493.00" x2="433.31" y2="500.00" stroke="rgba(0,0,0,0.8)" stroke-width="0.55"/>
<line x1="438.10" y1="493.00" x2="438.10" y2="500.00" stroke="rgba(0,0,0,0.8)" stroke-width="0.55"/>
<line x1="432.34" y1="493.00" x2="432.34" y2="500.00" stroke="rgba(0,0,0,0.8)" stroke-width="0.55"/>
<line x1="436.79" y1="493.00" x2="436.79" y2="500.00" stroke="rgba(0,0,0,0.8)" stroke-width="0.55"/>
<line x1="431.96" y1="493.00" x2="431.96" y2="500.00" stroke="rgba(0,0,0,0.8)" stroke-width="0.55"/>
<line x1="438.59" y1="493.00" x2="438.59" y2="500.00" stroke="rgba(0,0,0,0.8)" stroke-width="0.55"/>
<line x1="439.40" y1="493.00" x2="439.40" y2="500.00" stroke="rgba(0,0,0,0.8)" stroke-width="0.55"/>
<line x1="433.84" y1="493.00" x2="433.84" y2="500.00" stroke="rgba(0,0,0,0.8)" stroke-width="0.55"/>
<line x1="432.06" y1="493.00" x2="432.06" y2="500.00" stroke="rgba(0,0,0,0.8)" stroke-width="0.55"/>
<line x1="439.41" y1="493.00" x2="439.41" y2="500.00" stroke="rgba(0,0,0,0.8)" stroke-width="0.55"/>
<line x1="435.12" y1="493.00" x2="435.12" y2="500.00" stroke="rgba(0,0,0,0.8)" stroke-width="0.55"/>
<line x1="431.34" y1="493.00" x2="431.34" y2="500.00" stroke="rgba(0,0,0,0.8)" stroke-width="0.55"/>
<line x1="438.67" y1="493.00" x2="438.67" y2="500.00" stroke="rgba(0,0,0,0.8)" stroke-width="0.55"/>
<line x1="433.18" y1="493.00" x2="433.18" y2="500.00" stroke="rgba(0,0,0,0.8)" stroke-width="0.55"/>
<line x1="434.24" y1="493.00" x2="434.24" y2="500.00" stroke="rgba(0,0,0,0.8)" stroke-width="0.55"/>
<line x1="436.57" y1="493.00" x2="436.57" y2="500.00" stroke="rgba(0,0,0,0.8)" stroke-width="0.55"/>
<line x1="437.78" y1="493.00" x2="437.78" y2="500.00" stroke="rgba(0,0,0,0.8)" stroke-width="0.55"/>
<line x1="433.07" y1="493.00" x2="433.07" y2="500.00" stroke="rgba(0,0,0,0.8)" stroke-width="0.55"/>
<line x1="432.01" y1="493.00" x2="432.01" y2="500.00" stroke="rgba(0,0,0,0.8)" stroke-width="0.55"/>
<line x1="434.25" y1="493.00" x2="434.25" y2="500.00" stroke="rgba(0,0,0,0.8)" stroke-width="0.55"/>
<line x1="437.47" y1="493.00" x2="437.47" y2="500.00" stroke="rgba(0,0,0,0.8)" stroke-width="0.55"/>
<line x1="432.90" y1="493.00" x2="432.90" y2="500.00" stroke="rgba(0,0,0,0.8)" stroke-width="0.55"/>
<line x1="434.13" y1="493.00" x2="434.13" y2="500.00" stroke="rgba(0,0,0,0.8)" stroke-width="0.55"/>
<line x1="433.15" y1="493.00" x2="433.15" y2="500.00" stroke="rgba(0,0,0,0.8)" stroke-width="0.55"/>
<line x1="432.74" y1="493.00" x2="432.74" y2="500.00" stroke="rgba(0,0,0,0.8)" stroke-width="0.55"/>
<line x1="429.90" y1="493.00" x2="429.90" y2="500.00" stroke="rgba(0,0,0,0.8)" stroke-width="0.55"/>
<line x1="433.34" y1="493.00" x2="433.34" y2="500.00" stroke="rgba(0,0,0,0.8)" stroke-width="0.55"/>
<line x1="439.22" y1="493.00" x2="439.22" y2="500.00" stroke="rgba(0,0,0,0.8)" stroke-width="0.55"/>
<line x1="437.14" y1="493.00" x2="437.14" y2="500.00" stroke="rgba(0,0,0,0.8)" stroke-width="0.55"/>
<line x1="431.85" y1="493.00" x2="431.85" y2="500.00" stroke="rgba(0,0,0,0.8)" stroke-width="0.55"/>
<line x1="432.52" y1="493.00" x2="432.52" y2="500.00" stroke="rgba(0,0,0,0.8)" stroke-width="0.55"/>
<line x1="434.22" y1="493.00" x2="434.22" y2="500.00" stroke="rgba(0,0,0,0.8)" stroke-width="0.55"/>
<line x1="437.14" y1="493.00" x2="437.14" y2="500.00" stroke="rgba(0,0,0,0.8)" stroke-width="0.55"/>
<line x1="431.49" y1="493.00" x2="431.49" y2="500.00" stroke="rgba(0,0,0,0.8)" stroke-width="0.55"/>
<line x1="439.20" y1="493.00" x2="439.20" y2="500.00" stroke="rgba(0,0,0,0.8)" stroke-width="0.55"/>
<line x1="431.87" y1="493.00" x2="431.87" y2="500.00" stroke="rgba(0,0,0,0.8)" stroke-width="0.55"/>
<line x1="437.99" y1="493.00" x2="437.99" y2="500.00" stroke="rgba(0,0,0,0.8)" stroke-width="0.55"/>
<line x1="436.16" y1="493.00" x2="436.16" y2="500.00" stroke="rgba(0,0,0,0.8)" stroke-width="0.55"/>
<line x1="437.84" y1="493.00" x2="437.84" y2="500.00" stroke="rgba(0,0,0,0.8)" stroke-width="0.55"/>
<line x1="430.33" y1="493.00" x2="430.33" y2="500.00" stroke="rgba(0,0,0,0.8)" stroke-width="0.55"/>
<line x1="372.80" y1="496.20" x2="443.70" y2="496.20" stroke="#111" stroke-width="0.9"/>
<line x1="372.80" y1="494.50" x2="443.70" y2="494.50" stroke="#e8403c" stroke-width="0.8" stroke-dasharray="2,1.6"/>
<line x1="372.80" y1="541.60" x2="443.70" y2="541.60" stroke="#e8403c" stroke-width="0.8" stroke-dasharray="2,1.6"/>
<polyline points="375.50,496.20 377.00,495.00 379.00,494.40 381.00,494.80 383.00,495.80 385.00,497.20 390.00,501.80 400.00,511.00 410.00,521.20 420.00,531.00 427.00,537.80 430.50,541.40 432.00,540.00 433.50,535.50 435.00,528.00 436.30,517.50 437.50,510.50 438.50,506.50 439.50,502.00 440.50,498.30" fill="none" stroke="#2ee02e" stroke-width="1.1" stroke-linejoin="round"/>
<line x1="372.80" y1="490.20" x2="372.80" y2="543.80" stroke="#111" stroke-width="1.3"/>
<line x1="372.20" y1="543.10" x2="443.70" y2="543.10" stroke="#111" stroke-width="1.3"/>
<line x1="370.80" y1="496.20" x2="372.80" y2="496.20" stroke="#111" stroke-width="0.8"/>
<text x="366.60" y="498.14" font-size="5.4" text-anchor="end" fill="#333">0.0</text>
<line x1="370.80" y1="511.00" x2="372.80" y2="511.00" stroke="#111" stroke-width="0.8"/>
<text x="366.60" y="512.94" font-size="5.4" text-anchor="end" fill="#333">-0.2</text>
<line x1="370.80" y1="525.30" x2="372.80" y2="525.30" stroke="#111" stroke-width="0.8"/>
<text x="366.60" y="527.24" font-size="5.4" text-anchor="end" fill="#333">-0.4</text>
<line x1="370.80" y1="540.00" x2="372.80" y2="540.00" stroke="#111" stroke-width="0.8"/>
<text x="366.60" y="541.94" font-size="5.4" text-anchor="end" fill="#333">-0.6</text>
<line x1="375.50" y1="543.10" x2="375.50" y2="545.10" stroke="#111" stroke-width="0.8"/>
<text x="375.50" y="553.62" font-size="5.6" text-anchor="middle" fill="#333">0</text>
<line x1="400.00" y1="543.10" x2="400.00" y2="545.10" stroke="#111" stroke-width="0.8"/>
<text x="400.00" y="553.62" font-size="5.6" text-anchor="middle" fill="#333">5000</text>
<line x1="424.50" y1="543.10" x2="424.50" y2="545.10" stroke="#111" stroke-width="0.8"/>
<text x="424.50" y="553.62" font-size="5.6" text-anchor="middle" fill="#333">10000</text>
<text x="407.70" y="486.31" font-size="7.8" text-anchor="middle" textLength="50.8" lengthAdjust="spacingAndGlyphs" fill="#333">MI-3454 + Gilt.</text>
<text x="352.02" y="516.80" font-size="7.0" text-anchor="middle" textLength="43.5" lengthAdjust="spacingAndGlyphs" fill="#333" transform="rotate(-90 352.02 516.80)">Enrichment score</text>
<text x="408.10" y="564.36" font-size="7.4" text-anchor="middle" textLength="14" lengthAdjust="spacingAndGlyphs" fill="#333">Rank</text>
<text x="396.70" y="572.86" font-size="6.0" fill="#333">p</text>
<text x="399.70" y="574.85" font-size="3.2" fill="#333">adj</text>
<text x="405.60" y="573.39" font-size="5.8" textLength="14.4" lengthAdjust="spacingAndGlyphs" fill="#333">= 0.02</text>
<text x="396.70" y="582.19" font-size="5.8" textLength="25.8" lengthAdjust="spacingAndGlyphs" fill="#333">ES = - 0.61</text>
<text x="396.70" y="591.29" font-size="5.8" textLength="29" lengthAdjust="spacingAndGlyphs" fill="#333">NES = -2.15</text>
<rect x="454.30" y="474.00" width="4.65" height="4.01" fill="#6c96cb"/>
<rect x="458.90" y="474.00" width="4.65" height="4.01" fill="#759fd0"/>
<rect x="463.50" y="474.00" width="4.65" height="4.01" fill="#8cb0d9"/>
<rect x="468.10" y="474.00" width="4.65" height="4.01" fill="#d26f59"/>
<rect x="472.70" y="474.00" width="4.65" height="4.01" fill="#f6d4c0"/>
<rect x="477.30" y="474.00" width="4.65" height="4.01" fill="#f6d6c2"/>
<rect x="454.30" y="477.96" width="4.65" height="4.01" fill="#88aed8"/>
<rect x="458.90" y="477.96" width="4.65" height="4.01" fill="#79a3d2"/>
<rect x="463.50" y="477.96" width="4.65" height="4.01" fill="#79a2d2"/>
<rect x="468.10" y="477.96" width="4.65" height="4.01" fill="#db8268"/>
<rect x="472.70" y="477.96" width="4.65" height="4.01" fill="#f0f3f5"/>
<rect x="477.30" y="477.96" width="4.65" height="4.01" fill="#d67860"/>
<rect x="454.30" y="481.92" width="4.65" height="4.01" fill="#6f99cd"/>
<rect x="458.90" y="481.92" width="4.65" height="4.01" fill="#7ca5d3"/>
<rect x="463.50" y="481.92" width="4.65" height="4.01" fill="#9cbde0"/>
<rect x="468.10" y="481.92" width="4.65" height="4.01" fill="#cc6350"/>
<rect x="472.70" y="481.92" width="4.65" height="4.01" fill="#e59c7f"/>
<rect x="477.30" y="481.92" width="4.65" height="4.01" fill="#b84439"/>
<rect x="454.30" y="485.88" width="4.65" height="4.01" fill="#79a3d3"/>
<rect x="458.90" y="485.88" width="4.65" height="4.01" fill="#7fa7d5"/>
<rect x="463.50" y="485.88" width="4.65" height="4.01" fill="#729cce"/>
<rect x="468.10" y="485.88" width="4.65" height="4.01" fill="#d87d64"/>
<rect x="472.70" y="485.88" width="4.65" height="4.01" fill="#f6e8e0"/>
<rect x="477.30" y="485.88" width="4.65" height="4.01" fill="#b64138"/>
<rect x="454.30" y="489.84" width="4.65" height="4.01" fill="#92b5dc"/>
<rect x="458.90" y="489.84" width="4.65" height="4.01" fill="#76a0d1"/>
<rect x="463.50" y="489.84" width="4.65" height="4.01" fill="#82aad6"/>
<rect x="468.10" y="489.84" width="4.65" height="4.01" fill="#cb614f"/>
<rect x="472.70" y="489.84" width="4.65" height="4.01" fill="#87141c"/>
<rect x="477.30" y="489.84" width="4.65" height="4.01" fill="#b13c35"/>
<rect x="454.30" y="493.80" width="4.65" height="4.01" fill="#7da5d4"/>
<rect x="458.90" y="493.80" width="4.65" height="4.01" fill="#8aafd9"/>
<rect x="463.50" y="493.80" width="4.65" height="4.01" fill="#9cbcdf"/>
<rect x="468.10" y="493.80" width="4.65" height="4.01" fill="#d87c63"/>
<rect x="472.70" y="493.80" width="4.65" height="4.01" fill="#c95e4c"/>
<rect x="477.30" y="493.80" width="4.65" height="4.01" fill="#c24e40"/>
<rect x="454.30" y="497.76" width="4.65" height="4.01" fill="#80a8d5"/>
<rect x="458.90" y="497.76" width="4.65" height="4.01" fill="#8cb1da"/>
<rect x="463.50" y="497.76" width="4.65" height="4.01" fill="#9abbdf"/>
<rect x="468.10" y="497.76" width="4.65" height="4.01" fill="#be493d"/>
<rect x="472.70" y="497.76" width="4.65" height="4.01" fill="#e7a083"/>
<rect x="477.30" y="497.76" width="4.65" height="4.01" fill="#b23d36"/>
<rect x="454.30" y="501.72" width="4.65" height="4.01" fill="#82a9d6"/>
<rect x="458.90" y="501.72" width="4.65" height="4.01" fill="#86add7"/>
<rect x="463.50" y="501.72" width="4.65" height="4.01" fill="#a7c5e4"/>
<rect x="468.10" y="501.72" width="4.65" height="4.01" fill="#af3b34"/>
<rect x="472.70" y="501.72" width="4.65" height="4.01" fill="#df8b6f"/>
<rect x="477.30" y="501.72" width="4.65" height="4.01" fill="#f1c0a8"/>
<rect x="454.30" y="505.68" width="4.65" height="4.01" fill="#86acd7"/>
<rect x="458.90" y="505.68" width="4.65" height="4.01" fill="#86acd7"/>
<rect x="463.50" y="505.68" width="4.65" height="4.01" fill="#91b4db"/>
<rect x="468.10" y="505.68" width="4.65" height="4.01" fill="#a83430"/>
<rect x="472.70" y="505.68" width="4.65" height="4.01" fill="#c55546"/>
<rect x="477.30" y="505.68" width="4.65" height="4.01" fill="#cc6350"/>
<rect x="454.30" y="509.64" width="4.65" height="4.01" fill="#82a9d6"/>
<rect x="458.90" y="509.64" width="4.65" height="4.01" fill="#8aafd9"/>
<rect x="463.50" y="509.64" width="4.65" height="4.01" fill="#7ba4d3"/>
<rect x="468.10" y="509.64" width="4.65" height="4.01" fill="#d67860"/>
<rect x="472.70" y="509.64" width="4.65" height="4.01" fill="#f3c5ad"/>
<rect x="477.30" y="509.64" width="4.65" height="4.01" fill="#d06b56"/>
<rect x="454.30" y="513.60" width="4.65" height="4.01" fill="#6690c7"/>
<rect x="458.90" y="513.60" width="4.65" height="4.01" fill="#78a2d2"/>
<rect x="463.50" y="513.60" width="4.65" height="4.01" fill="#84abd6"/>
<rect x="468.10" y="513.60" width="4.65" height="4.01" fill="#b23d36"/>
<rect x="472.70" y="513.60" width="4.65" height="4.01" fill="#f3c8b0"/>
<rect x="477.30" y="513.60" width="4.65" height="4.01" fill="#d16e58"/>
<rect x="454.30" y="517.56" width="4.65" height="4.01" fill="#81a8d5"/>
<rect x="458.90" y="517.56" width="4.65" height="4.01" fill="#77a1d1"/>
<rect x="463.50" y="517.56" width="4.65" height="4.01" fill="#88aed8"/>
<rect x="468.10" y="517.56" width="4.65" height="4.01" fill="#c35143"/>
<rect x="472.70" y="517.56" width="4.65" height="4.01" fill="#f5cdb5"/>
<rect x="477.30" y="517.56" width="4.65" height="4.01" fill="#dd876b"/>
<rect x="454.30" y="521.52" width="4.65" height="4.01" fill="#729cce"/>
<rect x="458.90" y="521.52" width="4.65" height="4.01" fill="#9fbfe1"/>
<rect x="463.50" y="521.52" width="4.65" height="4.01" fill="#83aad6"/>
<rect x="468.10" y="521.52" width="4.65" height="4.01" fill="#ce6753"/>
<rect x="472.70" y="521.52" width="4.65" height="4.01" fill="#f6daca"/>
<rect x="477.30" y="521.52" width="4.65" height="4.01" fill="#d3725c"/>
<rect x="454.30" y="525.48" width="4.65" height="4.01" fill="#86acd7"/>
<rect x="458.90" y="525.48" width="4.65" height="4.01" fill="#81a8d5"/>
<rect x="463.50" y="525.48" width="4.65" height="4.01" fill="#719cce"/>
<rect x="468.10" y="525.48" width="4.65" height="4.01" fill="#d77a62"/>
<rect x="472.70" y="525.48" width="4.65" height="4.01" fill="#f4cbb3"/>
<rect x="477.30" y="525.48" width="4.65" height="4.01" fill="#cd6652"/>
<rect x="454.30" y="529.44" width="4.65" height="4.01" fill="#739dcf"/>
<rect x="458.90" y="529.44" width="4.65" height="4.01" fill="#7ea7d4"/>
<rect x="463.50" y="529.44" width="4.65" height="4.01" fill="#a5c3e3"/>
<rect x="468.10" y="529.44" width="4.65" height="4.01" fill="#e7a185"/>
<rect x="472.70" y="529.44" width="4.65" height="4.01" fill="#e4977a"/>
<rect x="477.30" y="529.44" width="4.65" height="4.01" fill="#d4745d"/>
<rect x="454.30" y="533.40" width="4.65" height="4.01" fill="#6994c9"/>
<rect x="458.90" y="533.40" width="4.65" height="4.01" fill="#91b4db"/>
<rect x="463.50" y="533.40" width="4.65" height="4.01" fill="#82aad6"/>
<rect x="468.10" y="533.40" width="4.65" height="4.01" fill="#af3b34"/>
<rect x="472.70" y="533.40" width="4.65" height="4.01" fill="#c95e4d"/>
<rect x="477.30" y="533.40" width="4.65" height="4.01" fill="#982426"/>
<rect x="454.30" y="537.36" width="4.65" height="4.01" fill="#75a0d1"/>
<rect x="458.90" y="537.36" width="4.65" height="4.01" fill="#76a0d1"/>
<rect x="463.50" y="537.36" width="4.65" height="4.01" fill="#739dcf"/>
<rect x="468.10" y="537.36" width="4.65" height="4.01" fill="#dc856a"/>
<rect x="472.70" y="537.36" width="4.65" height="4.01" fill="#8a171e"/>
<rect x="477.30" y="537.36" width="4.65" height="4.01" fill="#e18e71"/>
<rect x="454.30" y="541.32" width="4.65" height="4.01" fill="#6691c7"/>
<rect x="458.90" y="541.32" width="4.65" height="4.01" fill="#8bb0d9"/>
<rect x="463.50" y="541.32" width="4.65" height="4.01" fill="#a4c2e2"/>
<rect x="468.10" y="541.32" width="4.65" height="4.01" fill="#d67860"/>
<rect x="472.70" y="541.32" width="4.65" height="4.01" fill="#de8a6d"/>
<rect x="477.30" y="541.32" width="4.65" height="4.01" fill="#f2c3ab"/>
<rect x="454.30" y="545.28" width="4.65" height="4.01" fill="#628dc5"/>
<rect x="458.90" y="545.28" width="4.65" height="4.01" fill="#7da5d4"/>
<rect x="463.50" y="545.28" width="4.65" height="4.01" fill="#749ed0"/>
<rect x="468.10" y="545.28" width="4.65" height="4.01" fill="#db8268"/>
<rect x="472.70" y="545.28" width="4.65" height="4.01" fill="#dd866a"/>
<rect x="477.30" y="545.28" width="4.65" height="4.01" fill="#c75a49"/>
<rect x="454.30" y="549.24" width="4.65" height="4.01" fill="#7ca5d4"/>
<rect x="458.90" y="549.24" width="4.65" height="4.01" fill="#95b7dd"/>
<rect x="463.50" y="549.24" width="4.65" height="4.01" fill="#7ca5d3"/>
<rect x="468.10" y="549.24" width="4.65" height="4.01" fill="#c75949"/>
<rect x="472.70" y="549.24" width="4.65" height="4.01" fill="#bf4a3d"/>
<rect x="477.30" y="549.24" width="4.65" height="4.01" fill="#87141c"/>
<rect x="454.30" y="553.20" width="4.65" height="4.01" fill="#a2c0e1"/>
<rect x="458.90" y="553.20" width="4.65" height="4.01" fill="#90b3db"/>
<rect x="463.50" y="553.20" width="4.65" height="4.01" fill="#89aed8"/>
<rect x="468.10" y="553.20" width="4.65" height="4.01" fill="#df8a6e"/>
<rect x="472.70" y="553.20" width="4.65" height="4.01" fill="#9d2a29"/>
<rect x="477.30" y="553.20" width="4.65" height="4.01" fill="#d67860"/>
<rect x="454.30" y="557.16" width="4.65" height="4.01" fill="#a7c4e3"/>
<rect x="458.90" y="557.16" width="4.65" height="4.01" fill="#81a8d5"/>
<rect x="463.50" y="557.16" width="4.65" height="4.01" fill="#6993c9"/>
<rect x="468.10" y="557.16" width="4.65" height="4.01" fill="#921f23"/>
<rect x="472.70" y="557.16" width="4.65" height="4.01" fill="#d77b62"/>
<rect x="477.30" y="557.16" width="4.65" height="4.01" fill="#e39477"/>
<rect x="454.30" y="561.12" width="4.65" height="4.01" fill="#82aad6"/>
<rect x="458.90" y="561.12" width="4.65" height="4.01" fill="#80a8d5"/>
<rect x="463.50" y="561.12" width="4.65" height="4.01" fill="#8cb0d9"/>
<rect x="468.10" y="561.12" width="4.65" height="4.01" fill="#e69f82"/>
<rect x="472.70" y="561.12" width="4.65" height="4.01" fill="#dc856a"/>
<rect x="477.30" y="561.12" width="4.65" height="4.01" fill="#c65647"/>
<rect x="454.30" y="565.08" width="4.65" height="4.01" fill="#6d97cb"/>
<rect x="458.90" y="565.08" width="4.65" height="4.01" fill="#95b7dd"/>
<rect x="463.50" y="565.08" width="4.65" height="4.01" fill="#84abd6"/>
<rect x="468.10" y="565.08" width="4.65" height="4.01" fill="#eaaa8f"/>
<rect x="472.70" y="565.08" width="4.65" height="4.01" fill="#962225"/>
<rect x="477.30" y="565.08" width="4.65" height="4.01" fill="#df8a6e"/>
<rect x="454.30" y="569.04" width="4.65" height="4.01" fill="#81a8d5"/>
<rect x="458.90" y="569.04" width="4.65" height="4.01" fill="#7ca5d4"/>
<rect x="463.50" y="569.04" width="4.65" height="4.01" fill="#a7c5e4"/>
<rect x="468.10" y="569.04" width="4.65" height="4.01" fill="#bd483c"/>
<rect x="472.70" y="569.04" width="4.65" height="4.01" fill="#edb49a"/>
<rect x="477.30" y="569.04" width="4.65" height="4.01" fill="#e59a7d"/>
<rect x="454.30" y="573.00" width="4.65" height="4.01" fill="#89afd8"/>
<rect x="458.90" y="573.00" width="4.65" height="4.01" fill="#8aafd9"/>
<rect x="463.50" y="573.00" width="4.65" height="4.01" fill="#7ca5d3"/>
<rect x="468.10" y="573.00" width="4.65" height="4.01" fill="#982526"/>
<rect x="472.70" y="573.00" width="4.65" height="4.01" fill="#edb399"/>
<rect x="477.30" y="573.00" width="4.65" height="4.01" fill="#ce6854"/>
<rect x="454.30" y="576.96" width="4.65" height="4.01" fill="#89aed8"/>
<rect x="458.90" y="576.96" width="4.65" height="4.01" fill="#85abd7"/>
<rect x="463.50" y="576.96" width="4.65" height="4.01" fill="#8bb0d9"/>
<rect x="468.10" y="576.96" width="4.65" height="4.01" fill="#b33e36"/>
<rect x="472.70" y="576.96" width="4.65" height="4.01" fill="#e9a78c"/>
<rect x="477.30" y="576.96" width="4.65" height="4.01" fill="#cc6451"/>
<rect x="454.30" y="580.92" width="4.65" height="4.01" fill="#86acd7"/>
<rect x="458.90" y="580.92" width="4.65" height="4.01" fill="#6d97cb"/>
<rect x="463.50" y="580.92" width="4.65" height="4.01" fill="#709acd"/>
<rect x="468.10" y="580.92" width="4.65" height="4.01" fill="#b23d36"/>
<rect x="472.70" y="580.92" width="4.65" height="4.01" fill="#de896d"/>
<rect x="477.30" y="580.92" width="4.65" height="4.01" fill="#ce6753"/>
<rect x="454.30" y="584.88" width="4.65" height="4.01" fill="#8cb1da"/>
<rect x="458.90" y="584.88" width="4.65" height="4.01" fill="#86acd7"/>
<rect x="463.50" y="584.88" width="4.65" height="4.01" fill="#7ea6d4"/>
<rect x="468.10" y="584.88" width="4.65" height="4.01" fill="#a93530"/>
<rect x="472.70" y="584.88" width="4.65" height="4.01" fill="#edb49a"/>
<rect x="477.30" y="584.88" width="4.65" height="4.01" fill="#87141c"/>
<rect x="454.30" y="588.84" width="4.65" height="4.01" fill="#91b4db"/>
<rect x="458.90" y="588.84" width="4.65" height="4.01" fill="#80a8d5"/>
<rect x="463.50" y="588.84" width="4.65" height="4.01" fill="#7ca5d3"/>
<rect x="468.10" y="588.84" width="4.65" height="4.01" fill="#aa3631"/>
<rect x="472.70" y="588.84" width="4.65" height="4.01" fill="#e29274"/>
<rect x="477.30" y="588.84" width="4.65" height="4.01" fill="#e7a083"/>
<rect x="454.30" y="592.80" width="4.65" height="4.01" fill="#89aed8"/>
<rect x="458.90" y="592.80" width="4.65" height="4.01" fill="#82a9d6"/>
<rect x="463.50" y="592.80" width="4.65" height="4.01" fill="#95b7dd"/>
<rect x="468.10" y="592.80" width="4.65" height="4.01" fill="#c35143"/>
<rect x="472.70" y="592.80" width="4.65" height="4.01" fill="#87141c"/>
<rect x="477.30" y="592.80" width="4.65" height="4.01" fill="#87141c"/>
<rect x="454.30" y="596.76" width="4.65" height="4.01" fill="#6893c9"/>
<rect x="458.90" y="596.76" width="4.65" height="4.01" fill="#628dc5"/>
<rect x="463.50" y="596.76" width="4.65" height="4.01" fill="#77a1d2"/>
<rect x="468.10" y="596.76" width="4.65" height="4.01" fill="#87141c"/>
<rect x="472.70" y="596.76" width="4.65" height="4.01" fill="#c65848"/>
<rect x="477.30" y="596.76" width="4.65" height="4.01" fill="#cf6955"/>
<rect x="454.30" y="600.72" width="4.65" height="4.01" fill="#85abd7"/>
<rect x="458.90" y="600.72" width="4.65" height="4.01" fill="#6d98cc"/>
<rect x="463.50" y="600.72" width="4.65" height="4.01" fill="#8aafd9"/>
<rect x="468.10" y="600.72" width="4.65" height="4.01" fill="#d77a62"/>
<rect x="472.70" y="600.72" width="4.65" height="4.01" fill="#d5765f"/>
<rect x="477.30" y="600.72" width="4.65" height="4.01" fill="#dd876b"/>
<rect x="454.30" y="604.68" width="4.65" height="4.01" fill="#77a1d2"/>
<rect x="458.90" y="604.68" width="4.65" height="4.01" fill="#77a2d2"/>
<rect x="463.50" y="604.68" width="4.65" height="4.01" fill="#91b4db"/>
<rect x="468.10" y="604.68" width="4.65" height="4.01" fill="#87141c"/>
<rect x="472.70" y="604.68" width="4.65" height="4.01" fill="#f6e5db"/>
<rect x="477.30" y="604.68" width="4.65" height="4.01" fill="#ba453b"/>
<rect x="454.30" y="608.64" width="4.65" height="4.01" fill="#79a3d2"/>
<rect x="458.90" y="608.64" width="4.65" height="4.01" fill="#9abade"/>
<rect x="463.50" y="608.64" width="4.65" height="4.01" fill="#9abbdf"/>
<rect x="468.10" y="608.64" width="4.65" height="4.01" fill="#d2715b"/>
<rect x="472.70" y="608.64" width="4.65" height="4.01" fill="#da8066"/>
<rect x="477.30" y="608.64" width="4.65" height="4.01" fill="#962325"/>
<text x="485.80" y="477.53" font-size="4.3">SUTRK6</text>
<text x="485.80" y="481.49" font-size="4.3">COL5A1</text>
<text x="485.80" y="485.45" font-size="4.3">SLC6A6</text>
<text x="485.80" y="489.41" font-size="4.3">PRR5</text>
<text x="485.80" y="493.37" font-size="4.3">TGM2</text>
<text x="485.80" y="497.33" font-size="4.3">PLD6</text>
<text x="485.80" y="501.29" font-size="4.3">SLC12A8</text>
<text x="485.80" y="505.25" font-size="4.3">FAM86B1</text>
<text x="485.80" y="509.21" font-size="4.3">COL8A2</text>
<text x="485.80" y="513.17" font-size="4.3">MYC</text>
<text x="485.80" y="517.13" font-size="4.3">EMP1</text>
<text x="485.80" y="521.09" font-size="4.3">CCDC86</text>
<text x="485.80" y="525.05" font-size="4.3">PAICS</text>
<text x="485.80" y="529.01" font-size="4.3">TUBA1A</text>
<text x="485.80" y="532.97" font-size="4.3">ALDH1B1</text>
<text x="485.80" y="536.93" font-size="4.3">TWNK</text>
<text x="485.80" y="540.89" font-size="4.3">NOLC1</text>
<text x="485.80" y="544.85" font-size="4.3">TMEM97</text>
<text x="485.80" y="548.81" font-size="4.3">AGPAT5</text>
<text x="485.80" y="552.77" font-size="4.3">MCOLN2</text>
<text x="485.80" y="556.73" font-size="4.3">GEMIN5</text>
<text x="485.80" y="560.69" font-size="4.3">NOP16</text>
<text x="485.80" y="564.65" font-size="4.3">BOP1</text>
<text x="485.80" y="568.61" font-size="4.3">RRP9</text>
<text x="485.80" y="572.57" font-size="4.3">METTL1</text>
<text x="485.80" y="576.53" font-size="4.3">MRTO4</text>
<text x="485.80" y="580.49" font-size="4.3">NLE1</text>
<text x="485.80" y="584.45" font-size="4.3">WDR74</text>
<text x="485.80" y="588.41" font-size="4.3">PES1</text>
<text x="485.80" y="592.37" font-size="4.3">TAF4B</text>
<text x="485.80" y="596.33" font-size="4.3">GPATCH4</text>
<text x="485.80" y="600.29" font-size="4.3">HSPD1</text>
<text x="485.80" y="604.25" font-size="4.3">RCL1</text>
<text x="485.80" y="608.21" font-size="4.3">DHODH</text>
<text x="485.80" y="612.17" font-size="4.3">MYBBP1A</text>
<path d="M505.90,511.62 L509.50,509.32 L508.90,511.07 L513.30,511.07 L513.30,512.17 L508.90,512.17 L509.50,513.92Z" fill="#111"/>
<text x="461.50" y="617.00" font-size="6.0" fill="#333" text-anchor="end" textLength="18.5" lengthAdjust="spacingAndGlyphs" transform="rotate(-45 461.50 617.00)">MI-3454</text>
<text x="463.80" y="623.50" font-size="6.0" fill="#333" text-anchor="end" textLength="13" lengthAdjust="spacingAndGlyphs" transform="rotate(-45 463.80 623.50)">+ Gilt.</text>
<text x="480.00" y="616.00" font-size="6.0" fill="#333" text-anchor="end" textLength="15" lengthAdjust="spacingAndGlyphs" transform="rotate(-45 480.00 616.00)">DMSO</text>
<rect x="0.5" y="0.5" width="519" height="644" fill="none" stroke="#000" stroke-width="1"/>
</svg>
</body></html>
